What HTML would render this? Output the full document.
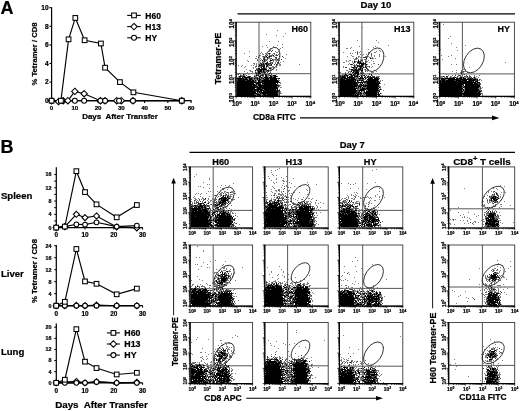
<!DOCTYPE html>
<html><head><meta charset="utf-8"><style>
html,body{margin:0;padding:0;background:#fff;width:520px;height:411px;overflow:hidden}
svg{display:block;filter:blur(0.3px)}
text{font-family:"Liberation Sans", sans-serif;fill:#000;stroke:#000;stroke-width:0.22px}
</style></head><body>
<svg width="520" height="411" viewBox="0 0 520 411">
<rect width="520" height="411" fill="#fff"/>
<text x="0.50" y="13.80" font-size="18" text-anchor="start" font-weight="bold">A</text>
<line x1="51.60" y1="7.20" x2="51.60" y2="101.20" stroke="#000" stroke-width="1.2"/>
<line x1="51.10" y1="100.70" x2="191.60" y2="100.70" stroke="#000" stroke-width="1.2"/>
<line x1="49.40" y1="100.70" x2="51.60" y2="100.70" stroke="#000" stroke-width="1.1"/>
<text x="48.60" y="103.00" font-size="6.6" text-anchor="end" font-weight="bold">0</text>
<line x1="49.40" y1="82.10" x2="51.60" y2="82.10" stroke="#000" stroke-width="1.1"/>
<text x="48.60" y="84.40" font-size="6.6" text-anchor="end" font-weight="bold">2</text>
<line x1="49.40" y1="63.50" x2="51.60" y2="63.50" stroke="#000" stroke-width="1.1"/>
<text x="48.60" y="65.80" font-size="6.6" text-anchor="end" font-weight="bold">4</text>
<line x1="49.40" y1="44.90" x2="51.60" y2="44.90" stroke="#000" stroke-width="1.1"/>
<text x="48.60" y="47.20" font-size="6.6" text-anchor="end" font-weight="bold">6</text>
<line x1="49.40" y1="26.30" x2="51.60" y2="26.30" stroke="#000" stroke-width="1.1"/>
<text x="48.60" y="28.60" font-size="6.6" text-anchor="end" font-weight="bold">8</text>
<line x1="49.40" y1="7.70" x2="51.60" y2="7.70" stroke="#000" stroke-width="1.1"/>
<text x="48.60" y="10.00" font-size="6.6" text-anchor="end" font-weight="bold">10</text>
<line x1="51.60" y1="100.70" x2="51.60" y2="102.90" stroke="#000" stroke-width="1.1"/>
<text x="51.60" y="110.00" font-size="6.2" text-anchor="middle" font-weight="bold">0</text>
<line x1="74.85" y1="100.70" x2="74.85" y2="102.90" stroke="#000" stroke-width="1.1"/>
<text x="74.85" y="110.00" font-size="6.2" text-anchor="middle" font-weight="bold">10</text>
<line x1="98.10" y1="100.70" x2="98.10" y2="102.90" stroke="#000" stroke-width="1.1"/>
<text x="98.10" y="110.00" font-size="6.2" text-anchor="middle" font-weight="bold">20</text>
<line x1="121.35" y1="100.70" x2="121.35" y2="102.90" stroke="#000" stroke-width="1.1"/>
<text x="121.35" y="110.00" font-size="6.2" text-anchor="middle" font-weight="bold">30</text>
<line x1="144.60" y1="100.70" x2="144.60" y2="102.90" stroke="#000" stroke-width="1.1"/>
<text x="144.60" y="110.00" font-size="6.2" text-anchor="middle" font-weight="bold">40</text>
<line x1="167.85" y1="100.70" x2="167.85" y2="102.90" stroke="#000" stroke-width="1.1"/>
<text x="167.85" y="110.00" font-size="6.2" text-anchor="middle" font-weight="bold">50</text>
<line x1="191.10" y1="100.70" x2="191.10" y2="102.90" stroke="#000" stroke-width="1.1"/>
<text x="191.10" y="110.00" font-size="6.2" text-anchor="middle" font-weight="bold">60</text>
<text x="120.00" y="119.20" font-size="8.0" text-anchor="middle" font-weight="bold">Days&#160; After Transfer</text>
<text x="37.00" y="54.00" font-size="7.7" text-anchor="middle" font-weight="bold" transform="rotate(-90 37.00 54.00)">% Tetramer / CD8</text>
<path d="M51.60 100.70L58.58 101.63L63.23 100.70L67.88 100.70L74.85 91.40L84.15 93.73L100.43 100.70L105.08 100.70L116.70 100.70L121.35 100.70L132.97 100.70L181.80 100.70" fill="none" stroke="#000" stroke-width="1.15"/>
<path d="M51.60 100.70L62.06 100.70L74.85 100.70L84.15 100.70L100.43 100.70L105.08 100.70L119.03 100.70L132.97 100.70L181.80 100.70" fill="none" stroke="#000" stroke-width="1.15"/>
<path d="M51.60 100.70L60.90 100.70L68.57 39.32L75.31 17.93L84.62 40.25L100.89 43.50L105.08 67.69L119.96 82.10L133.44 92.33L181.80 100.70" fill="none" stroke="#000" stroke-width="1.15"/>
<path d="M51.60 97.50L54.80 100.70L51.60 103.90L48.40 100.70Z" fill="#fff" stroke="#000" stroke-width="1.05"/>
<path d="M58.58 98.43L61.78 101.63L58.58 104.83L55.38 101.63Z" fill="#fff" stroke="#000" stroke-width="1.05"/>
<path d="M63.23 97.50L66.42 100.70L63.23 103.90L60.02 100.70Z" fill="#fff" stroke="#000" stroke-width="1.05"/>
<path d="M67.88 97.50L71.08 100.70L67.88 103.90L64.67 100.70Z" fill="#fff" stroke="#000" stroke-width="1.05"/>
<path d="M74.85 88.20L78.05 91.40L74.85 94.60L71.65 91.40Z" fill="#fff" stroke="#000" stroke-width="1.05"/>
<path d="M84.15 90.53L87.35 93.73L84.15 96.93L80.95 93.73Z" fill="#fff" stroke="#000" stroke-width="1.05"/>
<path d="M100.43 97.50L103.63 100.70L100.43 103.90L97.23 100.70Z" fill="#fff" stroke="#000" stroke-width="1.05"/>
<path d="M105.08 97.50L108.28 100.70L105.08 103.90L101.88 100.70Z" fill="#fff" stroke="#000" stroke-width="1.05"/>
<path d="M116.70 97.50L119.90 100.70L116.70 103.90L113.50 100.70Z" fill="#fff" stroke="#000" stroke-width="1.05"/>
<path d="M121.35 97.50L124.55 100.70L121.35 103.90L118.15 100.70Z" fill="#fff" stroke="#000" stroke-width="1.05"/>
<path d="M132.97 97.50L136.17 100.70L132.97 103.90L129.78 100.70Z" fill="#fff" stroke="#000" stroke-width="1.05"/>
<path d="M181.80 97.50L185.00 100.70L181.80 103.90L178.60 100.70Z" fill="#fff" stroke="#000" stroke-width="1.05"/>
<circle cx="51.60" cy="100.70" r="2.50" fill="#fff" stroke="#000" stroke-width="1.05"/>
<circle cx="62.06" cy="100.70" r="2.50" fill="#fff" stroke="#000" stroke-width="1.05"/>
<circle cx="74.85" cy="100.70" r="2.50" fill="#fff" stroke="#000" stroke-width="1.05"/>
<circle cx="84.15" cy="100.70" r="2.50" fill="#fff" stroke="#000" stroke-width="1.05"/>
<circle cx="100.43" cy="100.70" r="2.50" fill="#fff" stroke="#000" stroke-width="1.05"/>
<circle cx="105.08" cy="100.70" r="2.50" fill="#fff" stroke="#000" stroke-width="1.05"/>
<circle cx="119.03" cy="100.70" r="2.50" fill="#fff" stroke="#000" stroke-width="1.05"/>
<circle cx="132.97" cy="100.70" r="2.50" fill="#fff" stroke="#000" stroke-width="1.05"/>
<circle cx="181.80" cy="100.70" r="2.50" fill="#fff" stroke="#000" stroke-width="1.05"/>
<rect x="49.25" y="98.35" width="4.70" height="4.70" fill="#fff" stroke="#000" stroke-width="1.05"/>
<rect x="58.55" y="98.35" width="4.70" height="4.70" fill="#fff" stroke="#000" stroke-width="1.05"/>
<rect x="66.22" y="36.97" width="4.70" height="4.70" fill="#fff" stroke="#000" stroke-width="1.05"/>
<rect x="72.97" y="15.58" width="4.70" height="4.70" fill="#fff" stroke="#000" stroke-width="1.05"/>
<rect x="82.27" y="37.90" width="4.70" height="4.70" fill="#fff" stroke="#000" stroke-width="1.05"/>
<rect x="98.54" y="41.15" width="4.70" height="4.70" fill="#fff" stroke="#000" stroke-width="1.05"/>
<rect x="102.73" y="65.34" width="4.70" height="4.70" fill="#fff" stroke="#000" stroke-width="1.05"/>
<rect x="117.61" y="79.75" width="4.70" height="4.70" fill="#fff" stroke="#000" stroke-width="1.05"/>
<rect x="131.09" y="89.98" width="4.70" height="4.70" fill="#fff" stroke="#000" stroke-width="1.05"/>
<rect x="179.45" y="98.35" width="4.70" height="4.70" fill="#fff" stroke="#000" stroke-width="1.05"/>
<line x1="127.20" y1="15.40" x2="140.80" y2="15.40" stroke="#000" stroke-width="1.1"/>
<rect x="131.65" y="13.05" width="4.70" height="4.70" fill="#fff" stroke="#000" stroke-width="1.05"/>
<text x="145.30" y="18.50" font-size="8.5" text-anchor="start" font-weight="bold">H60</text>
<line x1="127.20" y1="26.60" x2="140.80" y2="26.60" stroke="#000" stroke-width="1.1"/>
<path d="M134.00 23.40L137.20 26.60L134.00 29.80L130.80 26.60Z" fill="#fff" stroke="#000" stroke-width="1.05"/>
<text x="145.30" y="29.70" font-size="8.5" text-anchor="start" font-weight="bold">H13</text>
<line x1="127.20" y1="37.80" x2="140.80" y2="37.80" stroke="#000" stroke-width="1.1"/>
<circle cx="134.00" cy="37.80" r="2.50" fill="#fff" stroke="#000" stroke-width="1.05"/>
<text x="145.30" y="40.90" font-size="8.5" text-anchor="start" font-weight="bold">HY</text>
<text x="0.50" y="153.10" font-size="18" text-anchor="start" font-weight="bold">B</text>
<line x1="56.30" y1="167.20" x2="56.30" y2="228.10" stroke="#000" stroke-width="1.2"/>
<line x1="55.70" y1="227.60" x2="142.80" y2="227.60" stroke="#000" stroke-width="1.2"/>
<line x1="54.20" y1="227.60" x2="56.30" y2="227.60" stroke="#000" stroke-width="1.0"/>
<line x1="54.20" y1="220.96" x2="56.30" y2="220.96" stroke="#000" stroke-width="1.0"/>
<line x1="54.20" y1="214.32" x2="56.30" y2="214.32" stroke="#000" stroke-width="1.0"/>
<line x1="54.20" y1="207.68" x2="56.30" y2="207.68" stroke="#000" stroke-width="1.0"/>
<line x1="54.20" y1="201.04" x2="56.30" y2="201.04" stroke="#000" stroke-width="1.0"/>
<line x1="54.20" y1="194.40" x2="56.30" y2="194.40" stroke="#000" stroke-width="1.0"/>
<line x1="54.20" y1="187.76" x2="56.30" y2="187.76" stroke="#000" stroke-width="1.0"/>
<line x1="54.20" y1="181.12" x2="56.30" y2="181.12" stroke="#000" stroke-width="1.0"/>
<line x1="54.20" y1="174.48" x2="56.30" y2="174.48" stroke="#000" stroke-width="1.0"/>
<text x="51.40" y="229.50" font-size="5.4" text-anchor="end" font-weight="bold">0</text>
<text x="51.40" y="216.22" font-size="5.4" text-anchor="end" font-weight="bold">4</text>
<text x="51.40" y="202.94" font-size="5.4" text-anchor="end" font-weight="bold">8</text>
<text x="51.40" y="189.66" font-size="5.4" text-anchor="end" font-weight="bold">12</text>
<text x="51.40" y="176.38" font-size="5.4" text-anchor="end" font-weight="bold">16</text>
<line x1="56.20" y1="227.60" x2="56.20" y2="229.60" stroke="#000" stroke-width="1.0"/>
<text x="56.20" y="237.40" font-size="6.4" text-anchor="middle" font-weight="bold">0</text>
<line x1="85.00" y1="227.60" x2="85.00" y2="229.60" stroke="#000" stroke-width="1.0"/>
<text x="85.00" y="237.40" font-size="6.4" text-anchor="middle" font-weight="bold">10</text>
<line x1="113.80" y1="227.60" x2="113.80" y2="229.60" stroke="#000" stroke-width="1.0"/>
<text x="113.80" y="237.40" font-size="6.4" text-anchor="middle" font-weight="bold">20</text>
<line x1="142.60" y1="227.60" x2="142.60" y2="229.60" stroke="#000" stroke-width="1.0"/>
<text x="142.60" y="237.40" font-size="6.4" text-anchor="middle" font-weight="bold">30</text>
<path d="M56.20 227.60L64.84 226.60L76.36 214.32L85.00 217.64L96.52 215.98L116.68 226.94L136.84 227.93" fill="none" stroke="#000" stroke-width="1.15"/>
<path d="M56.20 227.60L64.84 226.60L76.36 224.28L85.00 224.61L96.52 222.29L116.68 226.60L136.84 225.61" fill="none" stroke="#000" stroke-width="1.15"/>
<path d="M56.20 227.60L64.84 226.60L76.36 171.16L85.00 192.08L96.52 204.36L116.68 217.31L136.84 205.02" fill="none" stroke="#000" stroke-width="1.15"/>
<path d="M56.20 224.56L59.24 227.60L56.20 230.64L53.16 227.60Z" fill="#fff" stroke="#000" stroke-width="1.05"/>
<path d="M64.84 223.56L67.88 226.60L64.84 229.64L61.80 226.60Z" fill="#fff" stroke="#000" stroke-width="1.05"/>
<path d="M76.36 211.28L79.40 214.32L76.36 217.36L73.32 214.32Z" fill="#fff" stroke="#000" stroke-width="1.05"/>
<path d="M85.00 214.60L88.04 217.64L85.00 220.68L81.96 217.64Z" fill="#fff" stroke="#000" stroke-width="1.05"/>
<path d="M96.52 212.94L99.56 215.98L96.52 219.02L93.48 215.98Z" fill="#fff" stroke="#000" stroke-width="1.05"/>
<path d="M116.68 223.90L119.72 226.94L116.68 229.98L113.64 226.94Z" fill="#fff" stroke="#000" stroke-width="1.05"/>
<path d="M136.84 224.89L139.88 227.93L136.84 230.97L133.80 227.93Z" fill="#fff" stroke="#000" stroke-width="1.05"/>
<circle cx="56.20" cy="227.60" r="2.38" fill="#fff" stroke="#000" stroke-width="1.05"/>
<circle cx="64.84" cy="226.60" r="2.38" fill="#fff" stroke="#000" stroke-width="1.05"/>
<circle cx="76.36" cy="224.28" r="2.38" fill="#fff" stroke="#000" stroke-width="1.05"/>
<circle cx="85.00" cy="224.61" r="2.38" fill="#fff" stroke="#000" stroke-width="1.05"/>
<circle cx="96.52" cy="222.29" r="2.38" fill="#fff" stroke="#000" stroke-width="1.05"/>
<circle cx="116.68" cy="226.60" r="2.38" fill="#fff" stroke="#000" stroke-width="1.05"/>
<circle cx="136.84" cy="225.61" r="2.38" fill="#fff" stroke="#000" stroke-width="1.05"/>
<rect x="53.85" y="225.25" width="4.70" height="4.70" fill="#fff" stroke="#000" stroke-width="1.05"/>
<rect x="62.49" y="224.25" width="4.70" height="4.70" fill="#fff" stroke="#000" stroke-width="1.05"/>
<rect x="74.01" y="168.81" width="4.70" height="4.70" fill="#fff" stroke="#000" stroke-width="1.05"/>
<rect x="82.65" y="189.73" width="4.70" height="4.70" fill="#fff" stroke="#000" stroke-width="1.05"/>
<rect x="94.17" y="202.01" width="4.70" height="4.70" fill="#fff" stroke="#000" stroke-width="1.05"/>
<rect x="114.33" y="214.96" width="4.70" height="4.70" fill="#fff" stroke="#000" stroke-width="1.05"/>
<rect x="134.49" y="202.67" width="4.70" height="4.70" fill="#fff" stroke="#000" stroke-width="1.05"/>
<text x="0.90" y="198.70" font-size="9.6" text-anchor="start" font-weight="bold">Spleen</text>
<line x1="56.30" y1="244.90" x2="56.30" y2="306.20" stroke="#000" stroke-width="1.2"/>
<line x1="55.70" y1="305.70" x2="142.80" y2="305.70" stroke="#000" stroke-width="1.2"/>
<line x1="54.20" y1="305.70" x2="56.30" y2="305.70" stroke="#000" stroke-width="1.0"/>
<line x1="54.20" y1="293.70" x2="56.30" y2="293.70" stroke="#000" stroke-width="1.0"/>
<line x1="54.20" y1="281.70" x2="56.30" y2="281.70" stroke="#000" stroke-width="1.0"/>
<line x1="54.20" y1="269.70" x2="56.30" y2="269.70" stroke="#000" stroke-width="1.0"/>
<line x1="54.20" y1="257.70" x2="56.30" y2="257.70" stroke="#000" stroke-width="1.0"/>
<line x1="54.20" y1="245.70" x2="56.30" y2="245.70" stroke="#000" stroke-width="1.0"/>
<text x="51.40" y="307.60" font-size="5.4" text-anchor="end" font-weight="bold">0</text>
<text x="51.40" y="295.60" font-size="5.4" text-anchor="end" font-weight="bold">4</text>
<text x="51.40" y="283.60" font-size="5.4" text-anchor="end" font-weight="bold">8</text>
<text x="51.40" y="271.60" font-size="5.4" text-anchor="end" font-weight="bold">12</text>
<text x="51.40" y="259.60" font-size="5.4" text-anchor="end" font-weight="bold">16</text>
<text x="51.40" y="247.60" font-size="5.4" text-anchor="end" font-weight="bold">24</text>
<line x1="56.20" y1="305.70" x2="56.20" y2="307.70" stroke="#000" stroke-width="1.0"/>
<text x="56.20" y="315.50" font-size="6.4" text-anchor="middle" font-weight="bold">0</text>
<line x1="85.00" y1="305.70" x2="85.00" y2="307.70" stroke="#000" stroke-width="1.0"/>
<text x="85.00" y="315.50" font-size="6.4" text-anchor="middle" font-weight="bold">10</text>
<line x1="113.80" y1="305.70" x2="113.80" y2="307.70" stroke="#000" stroke-width="1.0"/>
<text x="113.80" y="315.50" font-size="6.4" text-anchor="middle" font-weight="bold">20</text>
<line x1="142.60" y1="305.70" x2="142.60" y2="307.70" stroke="#000" stroke-width="1.0"/>
<text x="142.60" y="315.50" font-size="6.4" text-anchor="middle" font-weight="bold">30</text>
<path d="M56.20 305.70L64.84 305.70L76.36 305.40L85.00 305.70L96.52 305.10L116.68 305.70L136.84 305.70" fill="none" stroke="#000" stroke-width="1.15"/>
<path d="M56.20 305.70L64.84 305.70L76.36 305.70L85.00 305.70L96.52 305.70L116.68 305.70L136.84 305.70" fill="none" stroke="#000" stroke-width="1.15"/>
<path d="M56.20 305.70L64.84 301.80L76.36 249.00L85.00 281.40L96.52 283.80L116.68 294.30L136.84 288.60" fill="none" stroke="#000" stroke-width="1.15"/>
<path d="M56.20 302.66L59.24 305.70L56.20 308.74L53.16 305.70Z" fill="#fff" stroke="#000" stroke-width="1.05"/>
<path d="M64.84 302.66L67.88 305.70L64.84 308.74L61.80 305.70Z" fill="#fff" stroke="#000" stroke-width="1.05"/>
<path d="M76.36 302.36L79.40 305.40L76.36 308.44L73.32 305.40Z" fill="#fff" stroke="#000" stroke-width="1.05"/>
<path d="M85.00 302.66L88.04 305.70L85.00 308.74L81.96 305.70Z" fill="#fff" stroke="#000" stroke-width="1.05"/>
<path d="M96.52 302.06L99.56 305.10L96.52 308.14L93.48 305.10Z" fill="#fff" stroke="#000" stroke-width="1.05"/>
<path d="M116.68 302.66L119.72 305.70L116.68 308.74L113.64 305.70Z" fill="#fff" stroke="#000" stroke-width="1.05"/>
<path d="M136.84 302.66L139.88 305.70L136.84 308.74L133.80 305.70Z" fill="#fff" stroke="#000" stroke-width="1.05"/>
<circle cx="56.20" cy="305.70" r="2.38" fill="#fff" stroke="#000" stroke-width="1.05"/>
<circle cx="64.84" cy="305.70" r="2.38" fill="#fff" stroke="#000" stroke-width="1.05"/>
<circle cx="76.36" cy="305.70" r="2.38" fill="#fff" stroke="#000" stroke-width="1.05"/>
<circle cx="85.00" cy="305.70" r="2.38" fill="#fff" stroke="#000" stroke-width="1.05"/>
<circle cx="96.52" cy="305.70" r="2.38" fill="#fff" stroke="#000" stroke-width="1.05"/>
<circle cx="116.68" cy="305.70" r="2.38" fill="#fff" stroke="#000" stroke-width="1.05"/>
<circle cx="136.84" cy="305.70" r="2.38" fill="#fff" stroke="#000" stroke-width="1.05"/>
<rect x="53.85" y="303.35" width="4.70" height="4.70" fill="#fff" stroke="#000" stroke-width="1.05"/>
<rect x="62.49" y="299.45" width="4.70" height="4.70" fill="#fff" stroke="#000" stroke-width="1.05"/>
<rect x="74.01" y="246.65" width="4.70" height="4.70" fill="#fff" stroke="#000" stroke-width="1.05"/>
<rect x="82.65" y="279.05" width="4.70" height="4.70" fill="#fff" stroke="#000" stroke-width="1.05"/>
<rect x="94.17" y="281.45" width="4.70" height="4.70" fill="#fff" stroke="#000" stroke-width="1.05"/>
<rect x="114.33" y="291.95" width="4.70" height="4.70" fill="#fff" stroke="#000" stroke-width="1.05"/>
<rect x="134.49" y="286.25" width="4.70" height="4.70" fill="#fff" stroke="#000" stroke-width="1.05"/>
<text x="0.90" y="276.80" font-size="9.6" text-anchor="start" font-weight="bold">Liver</text>
<line x1="56.30" y1="323.50" x2="56.30" y2="383.30" stroke="#000" stroke-width="1.2"/>
<line x1="55.70" y1="382.80" x2="142.80" y2="382.80" stroke="#000" stroke-width="1.2"/>
<line x1="54.20" y1="382.80" x2="56.30" y2="382.80" stroke="#000" stroke-width="1.0"/>
<line x1="54.20" y1="371.68" x2="56.30" y2="371.68" stroke="#000" stroke-width="1.0"/>
<line x1="54.20" y1="360.56" x2="56.30" y2="360.56" stroke="#000" stroke-width="1.0"/>
<line x1="54.20" y1="349.44" x2="56.30" y2="349.44" stroke="#000" stroke-width="1.0"/>
<line x1="54.20" y1="338.32" x2="56.30" y2="338.32" stroke="#000" stroke-width="1.0"/>
<line x1="54.20" y1="327.20" x2="56.30" y2="327.20" stroke="#000" stroke-width="1.0"/>
<text x="51.40" y="384.70" font-size="5.4" text-anchor="end" font-weight="bold">0</text>
<text x="51.40" y="373.58" font-size="5.4" text-anchor="end" font-weight="bold">4</text>
<text x="51.40" y="362.46" font-size="5.4" text-anchor="end" font-weight="bold">8</text>
<text x="51.40" y="351.34" font-size="5.4" text-anchor="end" font-weight="bold">12</text>
<text x="51.40" y="340.22" font-size="5.4" text-anchor="end" font-weight="bold">16</text>
<text x="51.40" y="329.10" font-size="5.4" text-anchor="end" font-weight="bold">20</text>
<line x1="56.20" y1="382.80" x2="56.20" y2="384.80" stroke="#000" stroke-width="1.0"/>
<text x="56.20" y="392.60" font-size="6.4" text-anchor="middle" font-weight="bold">0</text>
<line x1="85.00" y1="382.80" x2="85.00" y2="384.80" stroke="#000" stroke-width="1.0"/>
<text x="85.00" y="392.60" font-size="6.4" text-anchor="middle" font-weight="bold">10</text>
<line x1="113.80" y1="382.80" x2="113.80" y2="384.80" stroke="#000" stroke-width="1.0"/>
<text x="113.80" y="392.60" font-size="6.4" text-anchor="middle" font-weight="bold">20</text>
<line x1="142.60" y1="382.80" x2="142.60" y2="384.80" stroke="#000" stroke-width="1.0"/>
<text x="142.60" y="392.60" font-size="6.4" text-anchor="middle" font-weight="bold">30</text>
<path d="M56.20 382.80L64.84 381.97L76.36 381.41L85.00 382.80L96.52 381.69L116.68 382.80L136.84 382.24" fill="none" stroke="#000" stroke-width="1.15"/>
<path d="M56.20 382.80L64.84 382.80L76.36 382.80L85.00 382.80L96.52 381.97L116.68 382.80L136.84 382.80" fill="none" stroke="#000" stroke-width="1.15"/>
<path d="M56.20 382.80L64.84 379.74L76.36 329.15L85.00 361.67L96.52 368.07L116.68 374.46L136.84 372.79" fill="none" stroke="#000" stroke-width="1.15"/>
<path d="M56.20 379.76L59.24 382.80L56.20 385.84L53.16 382.80Z" fill="#fff" stroke="#000" stroke-width="1.05"/>
<path d="M64.84 378.93L67.88 381.97L64.84 385.01L61.80 381.97Z" fill="#fff" stroke="#000" stroke-width="1.05"/>
<path d="M76.36 378.37L79.40 381.41L76.36 384.45L73.32 381.41Z" fill="#fff" stroke="#000" stroke-width="1.05"/>
<path d="M85.00 379.76L88.04 382.80L85.00 385.84L81.96 382.80Z" fill="#fff" stroke="#000" stroke-width="1.05"/>
<path d="M96.52 378.65L99.56 381.69L96.52 384.73L93.48 381.69Z" fill="#fff" stroke="#000" stroke-width="1.05"/>
<path d="M116.68 379.76L119.72 382.80L116.68 385.84L113.64 382.80Z" fill="#fff" stroke="#000" stroke-width="1.05"/>
<path d="M136.84 379.20L139.88 382.24L136.84 385.28L133.80 382.24Z" fill="#fff" stroke="#000" stroke-width="1.05"/>
<circle cx="56.20" cy="382.80" r="2.38" fill="#fff" stroke="#000" stroke-width="1.05"/>
<circle cx="64.84" cy="382.80" r="2.38" fill="#fff" stroke="#000" stroke-width="1.05"/>
<circle cx="76.36" cy="382.80" r="2.38" fill="#fff" stroke="#000" stroke-width="1.05"/>
<circle cx="85.00" cy="382.80" r="2.38" fill="#fff" stroke="#000" stroke-width="1.05"/>
<circle cx="96.52" cy="381.97" r="2.38" fill="#fff" stroke="#000" stroke-width="1.05"/>
<circle cx="116.68" cy="382.80" r="2.38" fill="#fff" stroke="#000" stroke-width="1.05"/>
<circle cx="136.84" cy="382.80" r="2.38" fill="#fff" stroke="#000" stroke-width="1.05"/>
<rect x="53.85" y="380.45" width="4.70" height="4.70" fill="#fff" stroke="#000" stroke-width="1.05"/>
<rect x="62.49" y="377.39" width="4.70" height="4.70" fill="#fff" stroke="#000" stroke-width="1.05"/>
<rect x="74.01" y="326.80" width="4.70" height="4.70" fill="#fff" stroke="#000" stroke-width="1.05"/>
<rect x="82.65" y="359.32" width="4.70" height="4.70" fill="#fff" stroke="#000" stroke-width="1.05"/>
<rect x="94.17" y="365.72" width="4.70" height="4.70" fill="#fff" stroke="#000" stroke-width="1.05"/>
<rect x="114.33" y="372.11" width="4.70" height="4.70" fill="#fff" stroke="#000" stroke-width="1.05"/>
<rect x="134.49" y="370.44" width="4.70" height="4.70" fill="#fff" stroke="#000" stroke-width="1.05"/>
<text x="0.90" y="354.80" font-size="9.6" text-anchor="start" font-weight="bold">Lung</text>
<text x="37.40" y="271.00" font-size="7.8" text-anchor="middle" font-weight="bold" transform="rotate(-90 37.40 271.00)">% Tetramer / CD8</text>
<text x="101.50" y="408.20" font-size="9.8" text-anchor="middle" font-weight="bold">Days&#160; After Transfer</text>
<line x1="106.90" y1="332.90" x2="119.90" y2="332.90" stroke="#000" stroke-width="1.1"/>
<rect x="111.05" y="330.55" width="4.70" height="4.70" fill="#fff" stroke="#000" stroke-width="1.05"/>
<text x="124.30" y="336.10" font-size="8.8" text-anchor="start" font-weight="bold">H60</text>
<line x1="106.90" y1="344.00" x2="119.90" y2="344.00" stroke="#000" stroke-width="1.1"/>
<path d="M113.40 340.80L116.60 344.00L113.40 347.20L110.20 344.00Z" fill="#fff" stroke="#000" stroke-width="1.05"/>
<text x="124.30" y="347.20" font-size="8.8" text-anchor="start" font-weight="bold">H13</text>
<line x1="106.90" y1="355.10" x2="119.90" y2="355.10" stroke="#000" stroke-width="1.1"/>
<circle cx="113.40" cy="355.10" r="2.50" fill="#fff" stroke="#000" stroke-width="1.05"/>
<text x="124.30" y="358.30" font-size="8.8" text-anchor="start" font-weight="bold">HY</text>
<text x="360.50" y="8.20" font-size="9.6" text-anchor="start" font-weight="bold">Day 10</text>
<line x1="237.50" y1="13.80" x2="515.00" y2="13.80" stroke="#000" stroke-width="1.2"/>
<rect x="236.10" y="22.20" width="74.70" height="74.20" fill="none" stroke="#3a3a3a" stroke-width="0.9"/>
<line x1="259.00" y1="22.20" x2="259.00" y2="96.40" stroke="#444" stroke-width="0.9"/>
<line x1="236.10" y1="73.70" x2="310.80" y2="73.70" stroke="#444" stroke-width="0.9"/>
<path fill="#000" d="M269 53h1v1h-1zM273 55h1v1h-1zM266 56h1v1h-1zM269 56h1v1h-1zM267 57h1v1h-1zM264 59h1v1h-1zM262 60h1v1h-1zM264 60h1v1h-1zM270 60h2v1h-2zM267 62h1v1h-1zM278 62h1v1h-1zM263 63h1v1h-1zM265 63h2v1h-2zM261 64h1v1h-1zM263 64h1v1h-1zM266 64h1v1h-1zM268 64h1v1h-1zM271 64h1v1h-1zM259 65h1v1h-1zM261 65h1v1h-1zM264 65h1v1h-1zM267 65h1v1h-1zM263 66h2v1h-2zM266 66h1v1h-1zM261 67h1v1h-1zM263 67h1v1h-1zM258 68h2v1h-2zM263 68h2v1h-2zM269 68h2v1h-2zM259 69h8v1h-8zM255 70h1v1h-1zM258 70h1v1h-1zM260 70h2v1h-2zM263 70h1v1h-1zM267 70h1v1h-1zM258 71h4v1h-4zM263 71h1v1h-1zM268 71h1v1h-1zM258 72h2v1h-2zM264 72h1v1h-1zM256 73h1v1h-1zM258 73h3v1h-3zM269 73h1v1h-1zM243 74h1v1h-1zM265 74h1v1h-1zM256 75h1v1h-1zM258 75h1v1h-1zM262 75h1v1h-1zM266 75h1v1h-1zM270 75h1v1h-1zM273 75h3v1h-3zM239 76h2v1h-2zM243 76h2v1h-2zM249 76h1v1h-1zM254 76h1v1h-1zM259 76h2v1h-2zM265 76h2v1h-2zM270 76h2v1h-2zM274 76h3v1h-3zM242 77h1v1h-1zM244 77h6v1h-6zM261 77h1v1h-1zM264 77h4v1h-4zM269 77h3v1h-3zM273 77h3v1h-3zM237 78h7v1h-7zM245 78h2v1h-2zM249 78h3v1h-3zM254 78h1v1h-1zM257 78h1v1h-1zM259 78h1v1h-1zM263 78h1v1h-1zM265 78h4v1h-4zM270 78h7v1h-7zM279 78h1v1h-1zM238 79h4v1h-4zM243 79h5v1h-5zM249 79h3v1h-3zM257 79h1v1h-1zM259 79h2v1h-2zM264 79h5v1h-5zM270 79h7v1h-7zM238 80h7v1h-7zM247 80h4v1h-4zM252 80h2v1h-2zM255 80h1v1h-1zM258 80h2v1h-2zM262 80h16v1h-16zM237 81h17v1h-17zM258 81h2v1h-2zM262 81h17v1h-17zM237 82h19v1h-19zM257 82h6v1h-6zM264 82h14v1h-14zM279 82h1v1h-1zM237 83h17v1h-17zM256 83h4v1h-4zM262 83h14v1h-14zM277 83h1v1h-1zM237 84h18v1h-18zM256 84h1v1h-1zM258 84h3v1h-3zM264 84h13v1h-13zM237 85h15v1h-15zM253 85h3v1h-3zM258 85h20v1h-20zM237 86h18v1h-18zM256 86h2v1h-2zM259 86h18v1h-18zM237 87h19v1h-19zM257 87h20v1h-20zM237 88h18v1h-18zM257 88h4v1h-4zM262 88h16v1h-16zM237 89h25v1h-25zM264 89h12v1h-12zM277 89h1v1h-1zM237 90h16v1h-16zM254 90h2v1h-2zM257 90h2v1h-2zM260 90h4v1h-4zM265 90h11v1h-11zM277 90h1v1h-1zM279 90h1v1h-1zM237 91h18v1h-18zM257 91h5v1h-5zM263 91h15v1h-15zM237 92h19v1h-19zM257 92h1v1h-1zM259 92h1v1h-1zM261 92h17v1h-17zM237 93h20v1h-20zM260 93h1v1h-1zM262 93h15v1h-15zM237 94h17v1h-17zM257 94h3v1h-3zM263 94h3v1h-3zM267 94h11v1h-11zM237 95h19v1h-19zM257 95h1v1h-1zM259 95h2v1h-2zM262 95h1v1h-1zM264 95h14v1h-14z"/>
<path fill="#404040" d="M272 50h1v1h-1zM271 51h1v1h-1zM268 53h1v1h-1zM274 53h1v1h-1zM269 54h1v1h-1zM276 54h1v1h-1zM259 55h1v1h-1zM267 55h1v1h-1zM271 55h1v1h-1zM276 55h2v1h-2zM263 56h1v1h-1zM270 56h2v1h-2zM279 56h1v1h-1zM282 56h1v1h-1zM258 57h1v1h-1zM264 57h1v1h-1zM269 57h1v1h-1zM275 57h2v1h-2zM263 58h1v1h-1zM267 58h1v1h-1zM271 58h1v1h-1zM276 58h1v1h-1zM263 59h1v1h-1zM267 59h1v1h-1zM272 59h1v1h-1zM277 59h1v1h-1zM281 59h1v1h-1zM257 60h1v1h-1zM260 60h1v1h-1zM266 60h1v1h-1zM273 60h1v1h-1zM264 61h1v1h-1zM262 62h1v1h-1zM270 62h1v1h-1zM272 62h1v1h-1zM260 63h2v1h-2zM267 63h4v1h-4zM272 63h1v1h-1zM259 64h1v1h-1zM262 64h1v1h-1zM267 64h1v1h-1zM274 64h1v1h-1zM276 64h1v1h-1zM260 65h1v1h-1zM262 65h2v1h-2zM266 65h1v1h-1zM269 65h3v1h-3zM256 66h1v1h-1zM258 66h2v1h-2zM261 66h2v1h-2zM267 66h1v1h-1zM264 67h1v1h-1zM266 67h1v1h-1zM261 68h2v1h-2zM265 68h1v1h-1zM256 69h3v1h-3zM257 70h1v1h-1zM259 70h1v1h-1zM264 70h1v1h-1zM268 70h1v1h-1zM264 71h1v1h-1zM266 71h1v1h-1zM255 72h1v1h-1zM261 72h3v1h-3zM265 72h1v1h-1zM267 72h1v1h-1zM270 72h1v1h-1zM239 73h1v1h-1zM255 73h1v1h-1zM257 73h1v1h-1zM264 73h1v1h-1zM271 73h1v1h-1zM238 74h1v1h-1zM256 74h1v1h-1zM258 74h1v1h-1zM262 74h2v1h-2zM266 74h1v1h-1zM268 74h1v1h-1zM271 74h1v1h-1zM240 75h1v1h-1zM243 75h1v1h-1zM246 75h1v1h-1zM257 75h1v1h-1zM260 75h2v1h-2zM263 75h1v1h-1zM265 75h1v1h-1zM269 75h1v1h-1zM241 76h2v1h-2zM248 76h1v1h-1zM250 76h1v1h-1zM277 76h1v1h-1zM239 77h2v1h-2zM251 77h2v1h-2zM255 77h3v1h-3zM259 77h2v1h-2zM272 77h1v1h-1zM252 78h1v1h-1zM255 78h2v1h-2zM258 78h1v1h-1zM261 78h2v1h-2zM269 78h1v1h-1zM277 78h2v1h-2zM237 79h1v1h-1zM242 79h1v1h-1zM252 79h1v1h-1zM254 79h1v1h-1zM263 79h1v1h-1zM237 80h1v1h-1zM245 80h2v1h-2zM251 80h1v1h-1zM260 80h2v1h-2zM254 81h2v1h-2zM260 81h2v1h-2zM256 82h1v1h-1zM263 82h1v1h-1zM278 82h1v1h-1zM260 83h1v1h-1zM262 84h2v1h-2zM252 85h1v1h-1zM256 85h1v1h-1zM278 85h2v1h-2zM255 86h1v1h-1zM278 86h1v1h-1zM256 87h1v1h-1zM277 87h1v1h-1zM261 88h1v1h-1zM262 89h1v1h-1zM253 90h1v1h-1zM256 90h1v1h-1zM264 90h1v1h-1zM276 90h1v1h-1zM278 90h1v1h-1zM255 91h2v1h-2zM278 91h2v1h-2zM260 92h1v1h-1zM279 92h1v1h-1zM257 93h2v1h-2zM261 93h1v1h-1zM277 93h1v1h-1zM279 93h1v1h-1zM254 94h1v1h-1zM256 94h1v1h-1zM260 94h1v1h-1zM279 94h1v1h-1zM258 95h1v1h-1zM263 95h1v1h-1zM279 95h1v1h-1z"/>
<path fill="#808080" d="M277 30h1v1h-1zM285 33h1v1h-1zM266 34h1v1h-1zM276 35h1v1h-1zM283 36h1v1h-1zM269 41h1v1h-1zM278 41h1v1h-1zM282 44h1v1h-1zM266 45h1v1h-1zM277 45h1v1h-1zM262 46h1v1h-1zM273 46h1v1h-1zM267 47h1v1h-1zM282 47h1v1h-1zM270 48h1v1h-1zM280 48h1v1h-1zM269 49h1v1h-1zM278 49h2v1h-2zM270 50h1v1h-1zM249 51h1v1h-1zM268 51h2v1h-2zM275 51h1v1h-1zM278 51h1v1h-1zM261 52h1v1h-1zM276 52h2v1h-2zM244 53h1v1h-1zM260 53h1v1h-1zM262 53h1v1h-1zM265 53h1v1h-1zM270 53h1v1h-1zM273 53h1v1h-1zM279 53h1v1h-1zM262 54h2v1h-2zM267 54h1v1h-1zM272 54h1v1h-1zM274 54h1v1h-1zM278 54h1v1h-1zM286 54h1v1h-1zM260 55h1v1h-1zM265 55h1v1h-1zM269 55h2v1h-2zM272 55h1v1h-1zM275 55h1v1h-1zM249 56h1v1h-1zM256 56h1v1h-1zM258 56h2v1h-2zM262 56h1v1h-1zM264 56h1v1h-1zM268 56h1v1h-1zM273 56h2v1h-2zM263 57h1v1h-1zM266 57h1v1h-1zM268 57h1v1h-1zM283 57h1v1h-1zM255 58h2v1h-2zM260 58h1v1h-1zM264 58h1v1h-1zM268 58h3v1h-3zM275 58h1v1h-1zM278 58h1v1h-1zM285 58h1v1h-1zM257 59h1v1h-1zM261 59h1v1h-1zM265 59h2v1h-2zM270 59h1v1h-1zM273 59h4v1h-4zM278 59h1v1h-1zM247 60h1v1h-1zM265 60h1v1h-1zM272 60h1v1h-1zM275 60h5v1h-5zM248 61h1v1h-1zM262 61h2v1h-2zM265 61h1v1h-1zM267 61h1v1h-1zM269 61h2v1h-2zM273 61h1v1h-1zM276 61h1v1h-1zM283 61h1v1h-1zM260 62h1v1h-1zM266 62h1v1h-1zM271 62h1v1h-1zM275 62h1v1h-1zM277 62h1v1h-1zM280 62h1v1h-1zM253 63h2v1h-2zM256 63h1v1h-1zM262 63h1v1h-1zM271 63h1v1h-1zM275 63h1v1h-1zM278 63h2v1h-2zM254 64h1v1h-1zM256 64h1v1h-1zM258 64h1v1h-1zM260 64h1v1h-1zM264 64h2v1h-2zM269 64h2v1h-2zM277 64h1v1h-1zM279 64h2v1h-2zM299 64h1v1h-1zM238 65h1v1h-1zM242 65h1v1h-1zM251 65h1v1h-1zM253 65h1v1h-1zM256 65h1v1h-1zM258 65h1v1h-1zM268 65h1v1h-1zM277 65h1v1h-1zM279 65h2v1h-2zM241 66h1v1h-1zM245 66h1v1h-1zM255 66h1v1h-1zM260 66h1v1h-1zM268 66h1v1h-1zM272 66h2v1h-2zM276 66h1v1h-1zM244 67h1v1h-1zM253 67h1v1h-1zM255 67h1v1h-1zM260 67h1v1h-1zM268 67h7v1h-7zM276 67h1v1h-1zM253 68h1v1h-1zM256 68h2v1h-2zM266 68h1v1h-1zM271 68h1v1h-1zM273 68h1v1h-1zM246 69h1v1h-1zM268 69h1v1h-1zM270 69h1v1h-1zM273 69h1v1h-1zM276 69h1v1h-1zM249 70h2v1h-2zM256 70h1v1h-1zM262 70h1v1h-1zM265 70h2v1h-2zM271 70h1v1h-1zM276 70h1v1h-1zM244 71h1v1h-1zM250 71h3v1h-3zM255 71h1v1h-1zM257 71h1v1h-1zM262 71h1v1h-1zM265 71h1v1h-1zM267 71h1v1h-1zM270 71h1v1h-1zM247 72h1v1h-1zM252 72h1v1h-1zM256 72h2v1h-2zM260 72h1v1h-1zM249 73h1v1h-1zM253 73h1v1h-1zM261 73h3v1h-3zM266 73h2v1h-2zM270 73h1v1h-1zM274 73h1v1h-1zM237 74h1v1h-1zM240 74h1v1h-1zM244 74h2v1h-2zM248 74h1v1h-1zM257 74h1v1h-1zM259 74h3v1h-3zM264 74h1v1h-1zM267 74h1v1h-1zM269 74h1v1h-1zM276 74h1v1h-1zM241 75h2v1h-2zM244 75h1v1h-1zM254 75h2v1h-2zM267 75h2v1h-2zM271 75h2v1h-2zM238 76h1v1h-1zM245 76h1v1h-1zM247 76h1v1h-1zM255 76h2v1h-2zM258 76h1v1h-1zM262 76h2v1h-2zM267 76h2v1h-2zM272 76h2v1h-2zM237 77h2v1h-2zM243 77h1v1h-1zM250 77h1v1h-1zM253 77h2v1h-2zM262 77h2v1h-2zM268 77h1v1h-1zM244 78h1v1h-1zM247 78h2v1h-2zM253 78h1v1h-1zM260 78h1v1h-1zM264 78h1v1h-1zM248 79h1v1h-1zM253 79h1v1h-1zM255 79h2v1h-2zM258 79h1v1h-1zM261 79h2v1h-2zM269 79h1v1h-1zM278 79h1v1h-1zM254 80h1v1h-1zM256 80h2v1h-2zM278 80h2v1h-2zM256 81h1v1h-1zM280 82h1v1h-1zM255 83h1v1h-1zM280 83h1v1h-1zM255 84h1v1h-1zM257 84h1v1h-1zM261 84h1v1h-1zM277 84h2v1h-2zM257 85h1v1h-1zM280 85h1v1h-1zM258 86h1v1h-1zM277 86h1v1h-1zM279 86h1v1h-1zM278 87h1v1h-1zM280 87h2v1h-2zM256 88h1v1h-1zM263 89h1v1h-1zM276 89h1v1h-1zM279 89h1v1h-1zM259 90h1v1h-1zM280 91h1v1h-1zM258 92h1v1h-1zM278 92h1v1h-1zM280 92h1v1h-1zM259 93h1v1h-1zM278 93h1v1h-1zM280 93h2v1h-2zM255 94h1v1h-1zM261 94h2v1h-2zM266 94h1v1h-1zM278 94h1v1h-1zM256 95h1v1h-1zM261 95h1v1h-1zM278 95h1v1h-1z"/>
<ellipse cx="271.90" cy="59.10" rx="12.30" ry="7.10" transform="rotate(-68 271.90 59.10)" fill="none" stroke="#1a1a1a" stroke-width="0.8"/>
<line x1="236.10" y1="21.90" x2="236.10" y2="97.00" stroke="#000" stroke-width="1.2"/>
<line x1="235.50" y1="96.40" x2="311.10" y2="96.40" stroke="#000" stroke-width="1.2"/>
<path d="M233.90 96.40h2.20M236.10 96.40v2.20M234.80 90.82h1.30M241.72 96.40v1.30M234.80 87.55h1.30M245.01 96.40v1.30M234.80 85.23h1.30M247.34 96.40v1.30M234.80 83.43h1.30M249.15 96.40v1.30M234.80 81.97h1.30M250.63 96.40v1.30M234.80 80.72h1.30M251.88 96.40v1.30M234.80 79.65h1.30M252.97 96.40v1.30M234.80 78.70h1.30M253.92 96.40v1.30M233.90 77.85h2.20M254.78 96.40v2.20M234.80 72.27h1.30M260.40 96.40v1.30M234.80 69.00h1.30M263.69 96.40v1.30M234.80 66.68h1.30M266.02 96.40v1.30M234.80 64.88h1.30M267.83 96.40v1.30M234.80 63.42h1.30M269.31 96.40v1.30M234.80 62.17h1.30M270.56 96.40v1.30M234.80 61.10h1.30M271.64 96.40v1.30M234.80 60.15h1.30M272.60 96.40v1.30M233.90 59.30h2.20M273.45 96.40v2.20M234.80 53.72h1.30M279.07 96.40v1.30M234.80 50.45h1.30M282.36 96.40v1.30M234.80 48.13h1.30M284.69 96.40v1.30M234.80 46.33h1.30M286.50 96.40v1.30M234.80 44.87h1.30M287.98 96.40v1.30M234.80 43.62h1.30M289.23 96.40v1.30M234.80 42.55h1.30M290.32 96.40v1.30M234.80 41.60h1.30M291.27 96.40v1.30M233.90 40.75h2.20M292.12 96.40v2.20M234.80 35.17h1.30M297.75 96.40v1.30M234.80 31.90h1.30M301.04 96.40v1.30M234.80 29.58h1.30M303.37 96.40v1.30M234.80 27.78h1.30M305.18 96.40v1.30M234.80 26.32h1.30M306.66 96.40v1.30M234.80 25.07h1.30M307.91 96.40v1.30M234.80 24.00h1.30M308.99 96.40v1.30M234.80 23.05h1.30M309.95 96.40v1.30M233.90 22.20h2.2M310.80 96.40v2.2" stroke="#000" stroke-width="0.7" fill="none"/>
<text x="232.11" y="105.66" font-size="6.3" font-weight="bold">10<tspan font-size="4.28" dy="-1.89">0</tspan></text>
<text x="229.26" y="97.90" font-size="6.3" font-weight="bold" transform="rotate(-90 233.96 97.90)">10<tspan font-size="4.28" dy="-1.89">0</tspan></text>
<text x="250.48" y="105.66" font-size="6.3" font-weight="bold">10<tspan font-size="4.28" dy="-1.89">1</tspan></text>
<text x="229.26" y="79.35" font-size="6.3" font-weight="bold" transform="rotate(-90 233.96 79.35)">10<tspan font-size="4.28" dy="-1.89">1</tspan></text>
<text x="268.86" y="105.66" font-size="6.3" font-weight="bold">10<tspan font-size="4.28" dy="-1.89">2</tspan></text>
<text x="229.26" y="60.80" font-size="6.3" font-weight="bold" transform="rotate(-90 233.96 60.80)">10<tspan font-size="4.28" dy="-1.89">2</tspan></text>
<text x="287.23" y="105.66" font-size="6.3" font-weight="bold">10<tspan font-size="4.28" dy="-1.89">3</tspan></text>
<text x="229.26" y="42.25" font-size="6.3" font-weight="bold" transform="rotate(-90 233.96 42.25)">10<tspan font-size="4.28" dy="-1.89">3</tspan></text>
<text x="305.61" y="105.66" font-size="6.3" font-weight="bold">10<tspan font-size="4.28" dy="-1.89">4</tspan></text>
<text x="229.26" y="23.70" font-size="6.3" font-weight="bold" transform="rotate(-90 233.96 23.70)">10<tspan font-size="4.28" dy="-1.89">4</tspan></text>
<rect x="339.10" y="22.20" width="74.70" height="74.20" fill="none" stroke="#3a3a3a" stroke-width="0.9"/>
<line x1="361.90" y1="22.20" x2="361.90" y2="96.40" stroke="#444" stroke-width="0.9"/>
<line x1="339.10" y1="73.90" x2="413.80" y2="73.90" stroke="#444" stroke-width="0.9"/>
<path fill="#000" d="M370 58h1v1h-1zM358 60h1v1h-1zM354 61h1v1h-1zM358 61h1v1h-1zM354 62h1v1h-1zM357 62h2v1h-2zM360 62h1v1h-1zM359 63h5v1h-5zM351 64h1v1h-1zM361 64h3v1h-3zM366 64h1v1h-1zM357 65h1v1h-1zM361 65h2v1h-2zM354 66h1v1h-1zM357 66h1v1h-1zM359 66h3v1h-3zM365 66h1v1h-1zM352 67h2v1h-2zM356 67h1v1h-1zM360 67h1v1h-1zM363 67h1v1h-1zM356 68h1v1h-1zM360 68h1v1h-1zM362 68h1v1h-1zM351 69h2v1h-2zM355 69h2v1h-2zM358 69h3v1h-3zM362 69h1v1h-1zM353 70h6v1h-6zM361 70h2v1h-2zM351 71h1v1h-1zM353 71h1v1h-1zM356 71h2v1h-2zM353 72h1v1h-1zM355 72h4v1h-4zM354 73h5v1h-5zM361 73h1v1h-1zM345 74h1v1h-1zM349 74h3v1h-3zM353 74h1v1h-1zM355 74h1v1h-1zM357 74h2v1h-2zM371 74h1v1h-1zM344 75h1v1h-1zM346 75h2v1h-2zM351 75h1v1h-1zM353 75h2v1h-2zM357 75h1v1h-1zM361 75h1v1h-1zM364 75h1v1h-1zM340 76h1v1h-1zM342 76h3v1h-3zM347 76h1v1h-1zM349 76h1v1h-1zM351 76h2v1h-2zM354 76h4v1h-4zM359 76h1v1h-1zM361 76h1v1h-1zM368 76h1v1h-1zM370 76h1v1h-1zM341 77h5v1h-5zM347 77h7v1h-7zM360 77h1v1h-1zM362 77h1v1h-1zM364 77h1v1h-1zM367 77h1v1h-1zM370 77h2v1h-2zM373 77h2v1h-2zM376 77h1v1h-1zM341 78h2v1h-2zM344 78h4v1h-4zM349 78h1v1h-1zM351 78h4v1h-4zM359 78h5v1h-5zM365 78h1v1h-1zM368 78h5v1h-5zM374 78h4v1h-4zM340 79h5v1h-5zM346 79h10v1h-10zM367 79h12v1h-12zM340 80h14v1h-14zM355 80h1v1h-1zM357 80h1v1h-1zM359 80h1v1h-1zM361 80h2v1h-2zM368 80h10v1h-10zM340 81h15v1h-15zM357 81h1v1h-1zM363 81h1v1h-1zM365 81h11v1h-11zM377 81h2v1h-2zM340 82h17v1h-17zM358 82h5v1h-5zM364 82h1v1h-1zM367 82h11v1h-11zM379 82h1v1h-1zM340 83h17v1h-17zM362 83h1v1h-1zM367 83h13v1h-13zM340 84h16v1h-16zM357 84h1v1h-1zM360 84h2v1h-2zM363 84h1v1h-1zM367 84h12v1h-12zM340 85h18v1h-18zM361 85h3v1h-3zM365 85h13v1h-13zM340 86h17v1h-17zM358 86h3v1h-3zM363 86h3v1h-3zM367 86h12v1h-12zM340 87h15v1h-15zM358 87h1v1h-1zM360 87h1v1h-1zM362 87h1v1h-1zM367 87h11v1h-11zM379 87h1v1h-1zM340 88h17v1h-17zM362 88h3v1h-3zM366 88h13v1h-13zM340 89h16v1h-16zM360 89h6v1h-6zM367 89h11v1h-11zM380 89h1v1h-1zM340 90h17v1h-17zM359 90h5v1h-5zM368 90h11v1h-11zM340 91h17v1h-17zM359 91h1v1h-1zM361 91h1v1h-1zM364 91h1v1h-1zM366 91h11v1h-11zM379 91h1v1h-1zM340 92h16v1h-16zM358 92h1v1h-1zM360 92h1v1h-1zM364 92h13v1h-13zM378 92h1v1h-1zM340 93h15v1h-15zM356 93h1v1h-1zM358 93h1v1h-1zM360 93h2v1h-2zM363 93h1v1h-1zM365 93h12v1h-12zM378 93h1v1h-1zM380 93h1v1h-1zM340 94h14v1h-14zM355 94h1v1h-1zM357 94h2v1h-2zM366 94h11v1h-11zM378 94h2v1h-2zM340 95h18v1h-18zM360 95h1v1h-1zM362 95h1v1h-1zM366 95h11v1h-11zM378 95h1v1h-1z"/>
<path fill="#404040" d="M357 52h1v1h-1zM350 53h1v1h-1zM357 53h1v1h-1zM371 54h1v1h-1zM356 57h1v1h-1zM363 57h3v1h-3zM356 58h1v1h-1zM372 58h1v1h-1zM361 60h2v1h-2zM359 61h2v1h-2zM359 62h1v1h-1zM363 62h1v1h-1zM353 63h1v1h-1zM358 63h1v1h-1zM364 63h2v1h-2zM350 64h1v1h-1zM352 64h1v1h-1zM356 64h1v1h-1zM359 64h1v1h-1zM378 64h1v1h-1zM354 65h1v1h-1zM358 65h3v1h-3zM358 66h1v1h-1zM362 66h1v1h-1zM369 66h1v1h-1zM345 67h2v1h-2zM354 67h2v1h-2zM361 67h1v1h-1zM365 67h2v1h-2zM353 68h2v1h-2zM358 68h2v1h-2zM361 68h1v1h-1zM366 68h1v1h-1zM354 69h1v1h-1zM365 69h1v1h-1zM351 70h2v1h-2zM354 71h2v1h-2zM358 71h1v1h-1zM361 71h2v1h-2zM365 71h1v1h-1zM348 72h1v1h-1zM352 72h1v1h-1zM362 72h1v1h-1zM345 73h1v1h-1zM352 73h1v1h-1zM360 73h1v1h-1zM362 73h2v1h-2zM369 73h1v1h-1zM346 74h1v1h-1zM354 74h1v1h-1zM362 74h1v1h-1zM369 74h1v1h-1zM340 75h1v1h-1zM342 75h1v1h-1zM345 75h1v1h-1zM352 75h1v1h-1zM356 75h1v1h-1zM363 75h1v1h-1zM366 75h1v1h-1zM371 75h1v1h-1zM345 76h1v1h-1zM350 76h1v1h-1zM365 76h1v1h-1zM367 76h1v1h-1zM372 76h3v1h-3zM340 77h1v1h-1zM354 77h1v1h-1zM357 77h1v1h-1zM361 77h1v1h-1zM365 77h1v1h-1zM368 77h2v1h-2zM372 77h1v1h-1zM377 77h2v1h-2zM340 78h1v1h-1zM343 78h1v1h-1zM348 78h1v1h-1zM350 78h1v1h-1zM356 78h1v1h-1zM358 78h1v1h-1zM378 78h2v1h-2zM359 79h2v1h-2zM362 79h2v1h-2zM354 80h1v1h-1zM358 80h1v1h-1zM360 80h1v1h-1zM363 80h1v1h-1zM366 80h1v1h-1zM355 81h1v1h-1zM361 81h1v1h-1zM364 81h1v1h-1zM376 81h1v1h-1zM357 82h1v1h-1zM363 82h1v1h-1zM365 82h2v1h-2zM378 82h1v1h-1zM357 83h1v1h-1zM360 83h1v1h-1zM366 83h1v1h-1zM356 84h1v1h-1zM359 84h1v1h-1zM365 84h1v1h-1zM358 85h3v1h-3zM364 85h1v1h-1zM378 85h1v1h-1zM361 86h1v1h-1zM366 86h1v1h-1zM356 87h1v1h-1zM364 87h1v1h-1zM366 87h1v1h-1zM357 88h2v1h-2zM360 88h2v1h-2zM365 88h1v1h-1zM357 89h1v1h-1zM357 90h2v1h-2zM364 90h1v1h-1zM366 90h1v1h-1zM379 90h1v1h-1zM358 91h1v1h-1zM377 91h1v1h-1zM356 92h2v1h-2zM359 92h1v1h-1zM377 92h1v1h-1zM355 93h1v1h-1zM357 93h1v1h-1zM359 93h1v1h-1zM354 94h1v1h-1zM359 94h3v1h-3zM364 94h1v1h-1zM377 94h1v1h-1zM358 95h1v1h-1zM379 95h1v1h-1z"/>
<path fill="#808080" d="M362 27h1v1h-1zM361 38h1v1h-1zM357 40h1v1h-1zM376 40h1v1h-1zM378 42h1v1h-1zM388 45h1v1h-1zM359 46h1v1h-1zM375 46h1v1h-1zM351 47h1v1h-1zM373 47h1v1h-1zM346 48h2v1h-2zM350 48h1v1h-1zM368 49h1v1h-1zM353 50h1v1h-1zM379 50h1v1h-1zM357 51h1v1h-1zM360 51h1v1h-1zM376 51h1v1h-1zM380 51h1v1h-1zM343 52h1v1h-1zM355 52h1v1h-1zM359 52h1v1h-1zM368 52h2v1h-2zM374 52h2v1h-2zM352 53h1v1h-1zM361 53h1v1h-1zM368 53h1v1h-1zM371 53h1v1h-1zM357 54h1v1h-1zM360 54h1v1h-1zM363 54h1v1h-1zM366 54h1v1h-1zM379 54h1v1h-1zM351 55h1v1h-1zM362 55h1v1h-1zM371 55h1v1h-1zM374 55h1v1h-1zM379 55h1v1h-1zM347 56h1v1h-1zM352 56h2v1h-2zM358 56h2v1h-2zM365 56h4v1h-4zM371 56h1v1h-1zM374 56h1v1h-1zM379 56h1v1h-1zM385 56h1v1h-1zM358 57h1v1h-1zM360 57h2v1h-2zM366 57h1v1h-1zM369 57h2v1h-2zM372 57h1v1h-1zM353 58h1v1h-1zM355 58h1v1h-1zM357 58h1v1h-1zM366 58h1v1h-1zM371 58h1v1h-1zM373 58h1v1h-1zM375 58h1v1h-1zM354 59h3v1h-3zM358 59h1v1h-1zM360 59h3v1h-3zM364 59h2v1h-2zM346 60h1v1h-1zM349 60h2v1h-2zM354 60h1v1h-1zM360 60h1v1h-1zM368 60h1v1h-1zM371 60h1v1h-1zM346 61h1v1h-1zM348 61h1v1h-1zM352 61h1v1h-1zM355 61h3v1h-3zM362 61h1v1h-1zM365 61h3v1h-3zM373 61h1v1h-1zM343 62h2v1h-2zM352 62h1v1h-1zM355 62h1v1h-1zM361 62h1v1h-1zM366 62h1v1h-1zM369 62h1v1h-1zM349 63h1v1h-1zM357 63h1v1h-1zM373 63h2v1h-2zM348 64h1v1h-1zM354 64h1v1h-1zM364 64h1v1h-1zM367 64h1v1h-1zM371 64h1v1h-1zM353 65h1v1h-1zM355 65h2v1h-2zM363 65h1v1h-1zM365 65h2v1h-2zM343 66h1v1h-1zM351 66h1v1h-1zM355 66h1v1h-1zM363 66h1v1h-1zM367 66h2v1h-2zM372 66h1v1h-1zM343 67h1v1h-1zM351 67h1v1h-1zM357 67h1v1h-1zM359 67h1v1h-1zM362 67h1v1h-1zM364 67h1v1h-1zM369 67h1v1h-1zM371 67h1v1h-1zM349 68h1v1h-1zM355 68h1v1h-1zM367 68h1v1h-1zM349 69h2v1h-2zM353 69h1v1h-1zM357 69h1v1h-1zM361 69h1v1h-1zM364 69h1v1h-1zM367 69h2v1h-2zM346 70h2v1h-2zM359 70h2v1h-2zM365 70h4v1h-4zM375 70h1v1h-1zM348 71h3v1h-3zM359 71h1v1h-1zM367 71h1v1h-1zM376 71h1v1h-1zM340 72h1v1h-1zM345 72h1v1h-1zM350 72h1v1h-1zM354 72h1v1h-1zM360 72h2v1h-2zM363 72h1v1h-1zM371 72h3v1h-3zM342 73h1v1h-1zM347 73h1v1h-1zM349 73h3v1h-3zM364 73h1v1h-1zM367 73h2v1h-2zM375 73h1v1h-1zM377 73h1v1h-1zM342 74h3v1h-3zM348 74h1v1h-1zM359 74h1v1h-1zM361 74h1v1h-1zM364 74h2v1h-2zM341 75h1v1h-1zM343 75h1v1h-1zM348 75h1v1h-1zM350 75h1v1h-1zM355 75h1v1h-1zM358 75h1v1h-1zM360 75h1v1h-1zM362 75h1v1h-1zM368 75h1v1h-1zM372 75h1v1h-1zM341 76h1v1h-1zM346 76h1v1h-1zM358 76h1v1h-1zM362 76h1v1h-1zM364 76h1v1h-1zM369 76h1v1h-1zM376 76h4v1h-4zM355 77h2v1h-2zM358 77h1v1h-1zM366 77h1v1h-1zM375 77h1v1h-1zM355 78h1v1h-1zM357 78h1v1h-1zM366 78h1v1h-1zM345 79h1v1h-1zM356 79h3v1h-3zM361 79h1v1h-1zM364 79h2v1h-2zM356 80h1v1h-1zM367 80h1v1h-1zM378 80h1v1h-1zM380 80h1v1h-1zM382 80h1v1h-1zM358 81h1v1h-1zM379 81h2v1h-2zM358 83h1v1h-1zM364 83h2v1h-2zM380 83h1v1h-1zM364 84h1v1h-1zM366 84h1v1h-1zM384 84h1v1h-1zM379 85h1v1h-1zM357 86h1v1h-1zM379 86h2v1h-2zM355 87h1v1h-1zM357 87h1v1h-1zM359 87h1v1h-1zM361 87h1v1h-1zM363 87h1v1h-1zM365 87h1v1h-1zM378 87h1v1h-1zM380 87h1v1h-1zM359 88h1v1h-1zM380 88h1v1h-1zM358 89h2v1h-2zM366 89h1v1h-1zM378 89h2v1h-2zM381 89h1v1h-1zM367 90h1v1h-1zM383 90h1v1h-1zM357 91h1v1h-1zM363 91h1v1h-1zM378 91h1v1h-1zM361 92h1v1h-1zM363 92h1v1h-1zM362 93h1v1h-1zM364 93h1v1h-1zM377 93h1v1h-1zM381 93h1v1h-1zM356 94h1v1h-1zM363 94h1v1h-1zM365 94h1v1h-1zM363 95h3v1h-3zM380 95h1v1h-1zM382 95h1v1h-1z"/>
<ellipse cx="374.70" cy="59.70" rx="12.50" ry="8.20" transform="rotate(-63.6 374.70 59.70)" fill="none" stroke="#1a1a1a" stroke-width="0.8"/>
<line x1="339.10" y1="21.90" x2="339.10" y2="97.00" stroke="#000" stroke-width="1.2"/>
<line x1="338.50" y1="96.40" x2="414.10" y2="96.40" stroke="#000" stroke-width="1.2"/>
<path d="M336.90 96.40h2.20M339.10 96.40v2.20M337.80 90.82h1.30M344.72 96.40v1.30M337.80 87.55h1.30M348.01 96.40v1.30M337.80 85.23h1.30M350.34 96.40v1.30M337.80 83.43h1.30M352.15 96.40v1.30M337.80 81.97h1.30M353.63 96.40v1.30M337.80 80.72h1.30M354.88 96.40v1.30M337.80 79.65h1.30M355.97 96.40v1.30M337.80 78.70h1.30M356.92 96.40v1.30M336.90 77.85h2.20M357.78 96.40v2.20M337.80 72.27h1.30M363.40 96.40v1.30M337.80 69.00h1.30M366.69 96.40v1.30M337.80 66.68h1.30M369.02 96.40v1.30M337.80 64.88h1.30M370.83 96.40v1.30M337.80 63.42h1.30M372.31 96.40v1.30M337.80 62.17h1.30M373.56 96.40v1.30M337.80 61.10h1.30M374.64 96.40v1.30M337.80 60.15h1.30M375.60 96.40v1.30M336.90 59.30h2.20M376.45 96.40v2.20M337.80 53.72h1.30M382.07 96.40v1.30M337.80 50.45h1.30M385.36 96.40v1.30M337.80 48.13h1.30M387.69 96.40v1.30M337.80 46.33h1.30M389.50 96.40v1.30M337.80 44.87h1.30M390.98 96.40v1.30M337.80 43.62h1.30M392.23 96.40v1.30M337.80 42.55h1.30M393.32 96.40v1.30M337.80 41.60h1.30M394.27 96.40v1.30M336.90 40.75h2.20M395.12 96.40v2.20M337.80 35.17h1.30M400.75 96.40v1.30M337.80 31.90h1.30M404.04 96.40v1.30M337.80 29.58h1.30M406.37 96.40v1.30M337.80 27.78h1.30M408.18 96.40v1.30M337.80 26.32h1.30M409.66 96.40v1.30M337.80 25.07h1.30M410.91 96.40v1.30M337.80 24.00h1.30M411.99 96.40v1.30M337.80 23.05h1.30M412.95 96.40v1.30M336.90 22.20h2.2M413.80 96.40v2.2" stroke="#000" stroke-width="0.7" fill="none"/>
<text x="335.11" y="105.66" font-size="6.3" font-weight="bold">10<tspan font-size="4.28" dy="-1.89">0</tspan></text>
<text x="332.26" y="97.90" font-size="6.3" font-weight="bold" transform="rotate(-90 336.96 97.90)">10<tspan font-size="4.28" dy="-1.89">0</tspan></text>
<text x="353.48" y="105.66" font-size="6.3" font-weight="bold">10<tspan font-size="4.28" dy="-1.89">1</tspan></text>
<text x="332.26" y="79.35" font-size="6.3" font-weight="bold" transform="rotate(-90 336.96 79.35)">10<tspan font-size="4.28" dy="-1.89">1</tspan></text>
<text x="371.86" y="105.66" font-size="6.3" font-weight="bold">10<tspan font-size="4.28" dy="-1.89">2</tspan></text>
<text x="332.26" y="60.80" font-size="6.3" font-weight="bold" transform="rotate(-90 336.96 60.80)">10<tspan font-size="4.28" dy="-1.89">2</tspan></text>
<text x="390.23" y="105.66" font-size="6.3" font-weight="bold">10<tspan font-size="4.28" dy="-1.89">3</tspan></text>
<text x="332.26" y="42.25" font-size="6.3" font-weight="bold" transform="rotate(-90 336.96 42.25)">10<tspan font-size="4.28" dy="-1.89">3</tspan></text>
<text x="408.61" y="105.66" font-size="6.3" font-weight="bold">10<tspan font-size="4.28" dy="-1.89">4</tspan></text>
<text x="332.26" y="23.70" font-size="6.3" font-weight="bold" transform="rotate(-90 336.96 23.70)">10<tspan font-size="4.28" dy="-1.89">4</tspan></text>
<rect x="439.70" y="22.20" width="74.70" height="74.20" fill="none" stroke="#3a3a3a" stroke-width="0.9"/>
<line x1="462.40" y1="22.20" x2="462.40" y2="96.40" stroke="#444" stroke-width="0.9"/>
<line x1="439.70" y1="73.90" x2="514.40" y2="73.90" stroke="#444" stroke-width="0.9"/>
<path fill="#000" d="M461 73h1v1h-1zM443 76h1v1h-1zM446 76h1v1h-1zM467 76h1v1h-1zM453 77h1v1h-1zM455 77h1v1h-1zM460 77h2v1h-2zM463 77h1v1h-1zM474 77h1v1h-1zM441 78h3v1h-3zM445 78h10v1h-10zM456 78h2v1h-2zM459 78h3v1h-3zM463 78h3v1h-3zM468 78h1v1h-1zM470 78h1v1h-1zM472 78h1v1h-1zM441 79h4v1h-4zM448 79h11v1h-11zM460 79h12v1h-12zM473 79h3v1h-3zM477 79h1v1h-1zM440 80h1v1h-1zM442 80h3v1h-3zM446 80h8v1h-8zM456 80h5v1h-5zM462 80h5v1h-5zM469 80h6v1h-6zM477 80h1v1h-1zM440 81h17v1h-17zM458 81h14v1h-14zM473 81h1v1h-1zM475 81h3v1h-3zM440 82h1v1h-1zM442 82h34v1h-34zM477 82h3v1h-3zM440 83h33v1h-33zM474 83h3v1h-3zM440 84h23v1h-23zM465 84h13v1h-13zM479 84h1v1h-1zM440 85h22v1h-22zM463 85h1v1h-1zM465 85h15v1h-15zM440 86h22v1h-22zM464 86h16v1h-16zM440 87h22v1h-22zM463 87h1v1h-1zM465 87h14v1h-14zM440 88h23v1h-23zM465 88h13v1h-13zM440 89h22v1h-22zM463 89h1v1h-1zM465 89h14v1h-14zM440 90h22v1h-22zM463 90h1v1h-1zM465 90h14v1h-14zM440 91h23v1h-23zM464 91h14v1h-14zM479 91h2v1h-2zM440 92h22v1h-22zM464 92h13v1h-13zM478 92h2v1h-2zM440 93h40v1h-40zM440 94h22v1h-22zM463 94h18v1h-18zM440 95h22v1h-22zM464 95h16v1h-16z"/>
<path fill="#404040" d="M461 71h1v1h-1zM463 71h1v1h-1zM461 72h1v1h-1zM464 74h1v1h-1zM455 75h1v1h-1zM459 75h2v1h-2zM466 75h1v1h-1zM447 76h1v1h-1zM457 76h1v1h-1zM464 76h1v1h-1zM469 76h2v1h-2zM447 77h1v1h-1zM450 77h1v1h-1zM454 77h1v1h-1zM469 77h1v1h-1zM471 77h1v1h-1zM444 78h1v1h-1zM458 78h1v1h-1zM467 78h1v1h-1zM469 78h1v1h-1zM471 78h1v1h-1zM474 78h2v1h-2zM445 79h1v1h-1zM459 79h1v1h-1zM472 79h1v1h-1zM476 79h1v1h-1zM479 79h1v1h-1zM441 80h1v1h-1zM445 80h1v1h-1zM454 80h2v1h-2zM461 80h1v1h-1zM468 80h1v1h-1zM475 80h2v1h-2zM457 81h1v1h-1zM472 81h1v1h-1zM441 82h1v1h-1zM477 83h3v1h-3zM463 84h1v1h-1zM478 84h1v1h-1zM480 84h1v1h-1zM462 86h1v1h-1zM464 87h1v1h-1zM480 87h1v1h-1zM480 88h1v1h-1zM462 89h1v1h-1zM479 90h1v1h-1zM481 90h1v1h-1zM478 91h1v1h-1zM481 91h1v1h-1zM477 92h1v1h-1zM480 93h2v1h-2zM462 94h1v1h-1zM463 95h1v1h-1z"/>
<path fill="#808080" d="M443 24h1v1h-1zM450 36h1v1h-1zM448 38h1v1h-1zM451 43h1v1h-1zM465 45h1v1h-1zM456 47h1v1h-1zM440 49h1v1h-1zM457 50h1v1h-1zM441 55h1v1h-1zM451 55h1v1h-1zM448 56h1v1h-1zM455 58h1v1h-1zM442 59h1v1h-1zM505 62h1v1h-1zM451 64h1v1h-1zM456 64h1v1h-1zM469 67h1v1h-1zM463 69h1v1h-1zM465 69h1v1h-1zM456 70h1v1h-1zM461 70h1v1h-1zM452 71h1v1h-1zM464 71h2v1h-2zM456 72h1v1h-1zM460 72h1v1h-1zM463 72h1v1h-1zM467 72h1v1h-1zM460 73h1v1h-1zM462 73h2v1h-2zM466 73h1v1h-1zM446 74h1v1h-1zM455 74h1v1h-1zM458 74h1v1h-1zM461 74h1v1h-1zM463 74h1v1h-1zM448 75h1v1h-1zM452 75h1v1h-1zM458 75h1v1h-1zM469 75h1v1h-1zM474 75h1v1h-1zM479 75h1v1h-1zM440 76h3v1h-3zM444 76h1v1h-1zM450 76h2v1h-2zM454 76h1v1h-1zM458 76h1v1h-1zM460 76h3v1h-3zM465 76h2v1h-2zM474 76h1v1h-1zM476 76h1v1h-1zM440 77h3v1h-3zM444 77h3v1h-3zM449 77h1v1h-1zM451 77h2v1h-2zM456 77h2v1h-2zM459 77h1v1h-1zM464 77h5v1h-5zM470 77h1v1h-1zM473 77h1v1h-1zM475 77h1v1h-1zM478 77h1v1h-1zM440 78h1v1h-1zM462 78h1v1h-1zM473 78h1v1h-1zM476 78h2v1h-2zM446 79h2v1h-2zM480 79h1v1h-1zM478 80h2v1h-2zM481 80h1v1h-1zM476 82h1v1h-1zM473 83h1v1h-1zM480 83h1v1h-1zM462 85h1v1h-1zM463 86h1v1h-1zM480 86h1v1h-1zM462 87h1v1h-1zM479 87h1v1h-1zM482 87h1v1h-1zM464 88h1v1h-1zM478 88h2v1h-2zM481 88h1v1h-1zM464 89h1v1h-1zM479 89h2v1h-2zM462 90h1v1h-1zM464 90h1v1h-1zM480 90h1v1h-1zM463 91h1v1h-1zM463 92h1v1h-1zM480 92h1v1h-1zM482 93h1v1h-1zM482 94h1v1h-1zM482 95h1v1h-1z"/>
<ellipse cx="473.90" cy="60.50" rx="13.40" ry="9.00" transform="rotate(-58 473.90 60.50)" fill="none" stroke="#1a1a1a" stroke-width="0.8"/>
<line x1="439.70" y1="21.90" x2="439.70" y2="97.00" stroke="#000" stroke-width="1.2"/>
<line x1="439.10" y1="96.40" x2="514.70" y2="96.40" stroke="#000" stroke-width="1.2"/>
<path d="M437.50 96.40h2.20M439.70 96.40v2.20M438.40 90.82h1.30M445.32 96.40v1.30M438.40 87.55h1.30M448.61 96.40v1.30M438.40 85.23h1.30M450.94 96.40v1.30M438.40 83.43h1.30M452.75 96.40v1.30M438.40 81.97h1.30M454.23 96.40v1.30M438.40 80.72h1.30M455.48 96.40v1.30M438.40 79.65h1.30M456.57 96.40v1.30M438.40 78.70h1.30M457.52 96.40v1.30M437.50 77.85h2.20M458.38 96.40v2.20M438.40 72.27h1.30M464.00 96.40v1.30M438.40 69.00h1.30M467.29 96.40v1.30M438.40 66.68h1.30M469.62 96.40v1.30M438.40 64.88h1.30M471.43 96.40v1.30M438.40 63.42h1.30M472.91 96.40v1.30M438.40 62.17h1.30M474.16 96.40v1.30M438.40 61.10h1.30M475.24 96.40v1.30M438.40 60.15h1.30M476.20 96.40v1.30M437.50 59.30h2.20M477.05 96.40v2.20M438.40 53.72h1.30M482.67 96.40v1.30M438.40 50.45h1.30M485.96 96.40v1.30M438.40 48.13h1.30M488.29 96.40v1.30M438.40 46.33h1.30M490.10 96.40v1.30M438.40 44.87h1.30M491.58 96.40v1.30M438.40 43.62h1.30M492.83 96.40v1.30M438.40 42.55h1.30M493.92 96.40v1.30M438.40 41.60h1.30M494.87 96.40v1.30M437.50 40.75h2.20M495.73 96.40v2.20M438.40 35.17h1.30M501.35 96.40v1.30M438.40 31.90h1.30M504.64 96.40v1.30M438.40 29.58h1.30M506.97 96.40v1.30M438.40 27.78h1.30M508.78 96.40v1.30M438.40 26.32h1.30M510.26 96.40v1.30M438.40 25.07h1.30M511.51 96.40v1.30M438.40 24.00h1.30M512.59 96.40v1.30M438.40 23.05h1.30M513.55 96.40v1.30M437.50 22.20h2.2M514.40 96.40v2.2" stroke="#000" stroke-width="0.7" fill="none"/>
<text x="435.71" y="105.66" font-size="6.3" font-weight="bold">10<tspan font-size="4.28" dy="-1.89">0</tspan></text>
<text x="432.86" y="97.90" font-size="6.3" font-weight="bold" transform="rotate(-90 437.56 97.90)">10<tspan font-size="4.28" dy="-1.89">0</tspan></text>
<text x="454.08" y="105.66" font-size="6.3" font-weight="bold">10<tspan font-size="4.28" dy="-1.89">1</tspan></text>
<text x="432.86" y="79.35" font-size="6.3" font-weight="bold" transform="rotate(-90 437.56 79.35)">10<tspan font-size="4.28" dy="-1.89">1</tspan></text>
<text x="472.46" y="105.66" font-size="6.3" font-weight="bold">10<tspan font-size="4.28" dy="-1.89">2</tspan></text>
<text x="432.86" y="60.80" font-size="6.3" font-weight="bold" transform="rotate(-90 437.56 60.80)">10<tspan font-size="4.28" dy="-1.89">2</tspan></text>
<text x="490.83" y="105.66" font-size="6.3" font-weight="bold">10<tspan font-size="4.28" dy="-1.89">3</tspan></text>
<text x="432.86" y="42.25" font-size="6.3" font-weight="bold" transform="rotate(-90 437.56 42.25)">10<tspan font-size="4.28" dy="-1.89">3</tspan></text>
<text x="509.21" y="105.66" font-size="6.3" font-weight="bold">10<tspan font-size="4.28" dy="-1.89">4</tspan></text>
<text x="432.86" y="23.70" font-size="6.3" font-weight="bold" transform="rotate(-90 437.56 23.70)">10<tspan font-size="4.28" dy="-1.89">4</tspan></text>
<text x="291.40" y="31.60" font-size="9.0" text-anchor="start" font-weight="bold">H60</text>
<text x="394.00" y="31.60" font-size="9.0" text-anchor="start" font-weight="bold">H13</text>
<text x="497.60" y="31.60" font-size="9.0" text-anchor="start" font-weight="bold">HY</text>
<text x="221.50" y="58.40" font-size="8.8" text-anchor="middle" font-weight="bold" transform="rotate(-90 221.50 58.40)">Tetramer-PE</text>
<text x="252.90" y="120.10" font-size="8.5" text-anchor="start" font-weight="bold">CD8a FITC</text>
<line x1="300.00" y1="117.90" x2="494.00" y2="117.90" stroke="#000" stroke-width="1.1"/>
<path d="M492 115.6L499.4 117.9L492 120.2Z" fill="#000"/>
<text x="339.80" y="148.30" font-size="9.4" text-anchor="start" font-weight="bold">Day 7</text>
<line x1="189.50" y1="152.30" x2="515.00" y2="152.30" stroke="#000" stroke-width="1.2"/>
<rect x="190.10" y="166.90" width="62.50" height="61.10" fill="none" stroke="#3a3a3a" stroke-width="0.9"/>
<line x1="213.20" y1="166.90" x2="213.20" y2="228.00" stroke="#444" stroke-width="0.9"/>
<line x1="190.10" y1="210.40" x2="252.60" y2="210.40" stroke="#444" stroke-width="0.9"/>
<path fill="#000" d="M230 192h1v1h-1zM223 195h1v1h-1zM223 196h1v1h-1zM227 196h1v1h-1zM222 197h1v1h-1zM224 197h2v1h-2zM227 197h1v1h-1zM205 198h1v1h-1zM220 198h7v1h-7zM228 198h2v1h-2zM219 199h1v1h-1zM221 199h1v1h-1zM223 199h3v1h-3zM227 199h1v1h-1zM221 200h7v1h-7zM220 201h1v1h-1zM222 201h4v1h-4zM204 202h2v1h-2zM219 202h5v1h-5zM225 202h1v1h-1zM228 202h1v1h-1zM198 203h1v1h-1zM200 203h2v1h-2zM203 203h1v1h-1zM208 203h1v1h-1zM219 203h2v1h-2zM222 203h1v1h-1zM224 203h1v1h-1zM200 204h1v1h-1zM204 204h1v1h-1zM215 204h1v1h-1zM218 204h2v1h-2zM221 204h2v1h-2zM225 204h1v1h-1zM194 205h2v1h-2zM200 205h2v1h-2zM203 205h1v1h-1zM205 205h1v1h-1zM216 205h2v1h-2zM221 205h1v1h-1zM191 206h1v1h-1zM195 206h1v1h-1zM198 206h5v1h-5zM204 206h1v1h-1zM219 206h1v1h-1zM194 207h1v1h-1zM196 207h1v1h-1zM198 207h2v1h-2zM201 207h2v1h-2zM204 207h2v1h-2zM217 207h2v1h-2zM223 207h1v1h-1zM191 208h10v1h-10zM202 208h1v1h-1zM205 208h1v1h-1zM207 208h2v1h-2zM220 208h1v1h-1zM192 209h9v1h-9zM202 209h5v1h-5zM213 209h1v1h-1zM218 209h1v1h-1zM191 210h6v1h-6zM198 210h10v1h-10zM223 210h1v1h-1zM228 210h1v1h-1zM192 211h2v1h-2zM195 211h7v1h-7zM203 211h5v1h-5zM216 211h2v1h-2zM221 211h1v1h-1zM223 211h1v1h-1zM191 212h19v1h-19zM213 212h2v1h-2zM220 212h1v1h-1zM223 212h3v1h-3zM228 212h1v1h-1zM191 213h18v1h-18zM212 213h1v1h-1zM219 213h1v1h-1zM221 213h4v1h-4zM226 213h2v1h-2zM191 214h19v1h-19zM212 214h1v1h-1zM217 214h3v1h-3zM221 214h4v1h-4zM227 214h3v1h-3zM191 215h16v1h-16zM208 215h2v1h-2zM213 215h1v1h-1zM215 215h1v1h-1zM217 215h9v1h-9zM227 215h1v1h-1zM229 215h1v1h-1zM191 216h4v1h-4zM196 216h13v1h-13zM210 216h1v1h-1zM215 216h1v1h-1zM217 216h1v1h-1zM219 216h13v1h-13zM191 217h18v1h-18zM210 217h1v1h-1zM216 217h15v1h-15zM232 217h1v1h-1zM191 218h17v1h-17zM210 218h1v1h-1zM216 218h1v1h-1zM218 218h13v1h-13zM232 218h1v1h-1zM191 219h17v1h-17zM209 219h1v1h-1zM213 219h1v1h-1zM215 219h1v1h-1zM217 219h14v1h-14zM234 219h1v1h-1zM191 220h21v1h-21zM213 220h1v1h-1zM215 220h16v1h-16zM191 221h18v1h-18zM215 221h2v1h-2zM218 221h15v1h-15zM191 222h17v1h-17zM210 222h2v1h-2zM215 222h16v1h-16zM232 222h1v1h-1zM191 223h20v1h-20zM213 223h1v1h-1zM217 223h15v1h-15zM191 224h20v1h-20zM216 224h2v1h-2zM219 224h12v1h-12zM232 224h1v1h-1zM191 225h18v1h-18zM210 225h3v1h-3zM215 225h15v1h-15zM191 226h18v1h-18zM211 226h1v1h-1zM213 226h1v1h-1zM217 226h13v1h-13zM231 226h1v1h-1z"/>
<path fill="#404040" d="M219 192h1v1h-1zM227 192h1v1h-1zM223 193h1v1h-1zM226 194h1v1h-1zM215 195h1v1h-1zM221 195h1v1h-1zM225 195h1v1h-1zM228 195h1v1h-1zM225 196h1v1h-1zM228 196h1v1h-1zM221 197h1v1h-1zM223 197h1v1h-1zM219 198h1v1h-1zM199 199h1v1h-1zM204 199h1v1h-1zM216 199h1v1h-1zM222 199h1v1h-1zM226 199h1v1h-1zM228 199h1v1h-1zM231 199h1v1h-1zM194 200h1v1h-1zM203 200h1v1h-1zM196 201h1v1h-1zM200 201h1v1h-1zM216 201h1v1h-1zM218 201h1v1h-1zM228 201h1v1h-1zM196 202h2v1h-2zM214 202h2v1h-2zM224 202h1v1h-1zM194 203h1v1h-1zM199 203h1v1h-1zM202 203h1v1h-1zM216 203h1v1h-1zM223 203h1v1h-1zM225 203h1v1h-1zM227 203h1v1h-1zM191 204h1v1h-1zM198 204h2v1h-2zM206 204h1v1h-1zM211 204h1v1h-1zM213 204h1v1h-1zM217 204h1v1h-1zM223 204h1v1h-1zM192 205h1v1h-1zM196 205h2v1h-2zM199 205h1v1h-1zM202 205h1v1h-1zM204 205h1v1h-1zM207 205h2v1h-2zM215 205h1v1h-1zM220 205h1v1h-1zM223 205h2v1h-2zM192 206h2v1h-2zM196 206h2v1h-2zM205 206h1v1h-1zM207 206h2v1h-2zM215 206h1v1h-1zM220 206h2v1h-2zM226 206h1v1h-1zM191 207h2v1h-2zM195 207h1v1h-1zM200 207h1v1h-1zM203 207h1v1h-1zM209 207h1v1h-1zM216 207h1v1h-1zM201 208h1v1h-1zM204 208h1v1h-1zM206 208h1v1h-1zM209 208h1v1h-1zM215 208h1v1h-1zM217 208h1v1h-1zM191 209h1v1h-1zM201 209h1v1h-1zM208 209h1v1h-1zM210 209h1v1h-1zM218 210h1v1h-1zM224 210h1v1h-1zM191 211h1v1h-1zM194 211h1v1h-1zM202 211h1v1h-1zM209 211h1v1h-1zM212 211h1v1h-1zM214 211h2v1h-2zM219 211h2v1h-2zM222 211h1v1h-1zM225 211h1v1h-1zM215 212h1v1h-1zM217 212h1v1h-1zM222 212h1v1h-1zM209 213h1v1h-1zM213 213h2v1h-2zM220 213h1v1h-1zM225 213h1v1h-1zM229 213h1v1h-1zM214 214h2v1h-2zM225 214h2v1h-2zM207 215h1v1h-1zM210 215h1v1h-1zM212 215h1v1h-1zM226 215h1v1h-1zM228 215h1v1h-1zM230 215h1v1h-1zM235 215h1v1h-1zM195 216h1v1h-1zM211 216h1v1h-1zM216 216h1v1h-1zM233 216h1v1h-1zM211 217h1v1h-1zM215 217h1v1h-1zM231 217h1v1h-1zM213 218h3v1h-3zM231 218h1v1h-1zM210 219h1v1h-1zM216 219h1v1h-1zM231 219h3v1h-3zM212 220h1v1h-1zM214 220h1v1h-1zM231 220h1v1h-1zM234 220h1v1h-1zM209 221h2v1h-2zM214 221h1v1h-1zM208 222h2v1h-2zM231 222h1v1h-1zM234 222h1v1h-1zM236 223h1v1h-1zM211 224h1v1h-1zM215 224h1v1h-1zM231 224h1v1h-1zM233 224h1v1h-1zM214 225h1v1h-1zM232 225h2v1h-2zM209 226h1v1h-1zM212 226h1v1h-1zM233 226h1v1h-1zM235 226h1v1h-1z"/>
<path fill="#808080" d="M196 174h1v1h-1zM194 176h1v1h-1zM209 178h1v1h-1zM209 179h1v1h-1zM203 182h1v1h-1zM233 183h1v1h-1zM207 184h1v1h-1zM209 184h1v1h-1zM221 185h1v1h-1zM225 185h1v1h-1zM229 185h1v1h-1zM198 186h1v1h-1zM200 186h1v1h-1zM217 186h1v1h-1zM228 186h1v1h-1zM203 187h1v1h-1zM220 187h1v1h-1zM209 188h1v1h-1zM222 188h2v1h-2zM223 189h1v1h-1zM227 189h1v1h-1zM213 190h1v1h-1zM220 190h1v1h-1zM208 191h1v1h-1zM210 191h1v1h-1zM217 191h1v1h-1zM224 191h2v1h-2zM231 191h2v1h-2zM234 191h1v1h-1zM221 192h2v1h-2zM224 192h1v1h-1zM226 192h1v1h-1zM228 192h1v1h-1zM231 192h2v1h-2zM196 193h1v1h-1zM198 193h1v1h-1zM201 193h1v1h-1zM206 193h1v1h-1zM220 193h2v1h-2zM225 193h1v1h-1zM228 193h1v1h-1zM234 193h2v1h-2zM195 194h1v1h-1zM200 194h1v1h-1zM219 194h3v1h-3zM225 194h1v1h-1zM228 194h1v1h-1zM230 194h3v1h-3zM214 195h1v1h-1zM216 195h1v1h-1zM220 195h1v1h-1zM224 195h1v1h-1zM226 195h2v1h-2zM230 195h1v1h-1zM194 196h1v1h-1zM200 196h1v1h-1zM209 196h1v1h-1zM218 196h1v1h-1zM220 196h1v1h-1zM222 196h1v1h-1zM229 196h3v1h-3zM193 197h1v1h-1zM202 197h1v1h-1zM217 197h1v1h-1zM226 197h1v1h-1zM228 197h3v1h-3zM233 197h1v1h-1zM238 197h1v1h-1zM194 198h2v1h-2zM198 198h1v1h-1zM202 198h2v1h-2zM208 198h1v1h-1zM212 198h1v1h-1zM215 198h1v1h-1zM227 198h1v1h-1zM230 198h1v1h-1zM191 199h1v1h-1zM195 199h2v1h-2zM201 199h1v1h-1zM203 199h1v1h-1zM205 199h1v1h-1zM208 199h1v1h-1zM212 199h2v1h-2zM215 199h1v1h-1zM218 199h1v1h-1zM220 199h1v1h-1zM233 199h2v1h-2zM195 200h1v1h-1zM197 200h1v1h-1zM199 200h1v1h-1zM207 200h1v1h-1zM210 200h2v1h-2zM215 200h1v1h-1zM218 200h3v1h-3zM228 200h1v1h-1zM232 200h1v1h-1zM191 201h1v1h-1zM194 201h1v1h-1zM198 201h1v1h-1zM202 201h1v1h-1zM205 201h1v1h-1zM208 201h1v1h-1zM210 201h1v1h-1zM212 201h1v1h-1zM219 201h1v1h-1zM221 201h1v1h-1zM227 201h1v1h-1zM229 201h1v1h-1zM192 202h1v1h-1zM194 202h1v1h-1zM198 202h1v1h-1zM202 202h1v1h-1zM208 202h2v1h-2zM213 202h1v1h-1zM216 202h3v1h-3zM226 202h1v1h-1zM192 203h1v1h-1zM195 203h2v1h-2zM207 203h1v1h-1zM212 203h1v1h-1zM217 203h2v1h-2zM221 203h1v1h-1zM226 203h1v1h-1zM229 203h2v1h-2zM192 204h1v1h-1zM197 204h1v1h-1zM201 204h1v1h-1zM203 204h1v1h-1zM210 204h1v1h-1zM214 204h1v1h-1zM216 204h1v1h-1zM224 204h1v1h-1zM228 204h1v1h-1zM191 205h1v1h-1zM193 205h1v1h-1zM198 205h1v1h-1zM206 205h1v1h-1zM209 205h1v1h-1zM212 205h1v1h-1zM214 205h1v1h-1zM218 205h2v1h-2zM222 205h1v1h-1zM227 205h1v1h-1zM231 205h1v1h-1zM194 206h1v1h-1zM203 206h1v1h-1zM206 206h1v1h-1zM209 206h1v1h-1zM212 206h1v1h-1zM216 206h2v1h-2zM222 206h1v1h-1zM224 206h2v1h-2zM227 206h1v1h-1zM197 207h1v1h-1zM206 207h1v1h-1zM212 207h1v1h-1zM220 207h1v1h-1zM222 207h1v1h-1zM225 207h1v1h-1zM203 208h1v1h-1zM210 208h1v1h-1zM212 208h2v1h-2zM216 208h1v1h-1zM218 208h1v1h-1zM221 208h1v1h-1zM226 208h1v1h-1zM229 208h1v1h-1zM207 209h1v1h-1zM214 209h2v1h-2zM217 209h1v1h-1zM222 209h3v1h-3zM231 209h1v1h-1zM197 210h1v1h-1zM208 210h2v1h-2zM213 210h1v1h-1zM217 210h1v1h-1zM220 210h1v1h-1zM225 210h1v1h-1zM227 210h1v1h-1zM208 211h1v1h-1zM210 211h1v1h-1zM218 211h1v1h-1zM224 211h1v1h-1zM226 211h3v1h-3zM230 211h2v1h-2zM210 212h3v1h-3zM219 212h1v1h-1zM221 212h1v1h-1zM226 212h2v1h-2zM230 212h1v1h-1zM232 212h1v1h-1zM210 213h1v1h-1zM216 213h2v1h-2zM228 213h1v1h-1zM230 213h1v1h-1zM232 213h2v1h-2zM235 213h1v1h-1zM210 214h2v1h-2zM213 214h1v1h-1zM230 214h1v1h-1zM216 215h1v1h-1zM231 215h1v1h-1zM209 216h1v1h-1zM212 216h2v1h-2zM218 216h1v1h-1zM237 216h1v1h-1zM209 217h1v1h-1zM213 217h2v1h-2zM208 218h2v1h-2zM211 218h1v1h-1zM217 218h1v1h-1zM234 218h2v1h-2zM208 219h1v1h-1zM211 219h2v1h-2zM214 219h1v1h-1zM232 220h2v1h-2zM211 221h1v1h-1zM217 221h1v1h-1zM212 222h1v1h-1zM216 223h1v1h-1zM233 223h1v1h-1zM235 223h1v1h-1zM214 224h1v1h-1zM218 224h1v1h-1zM239 224h1v1h-1zM209 225h1v1h-1zM213 225h1v1h-1zM230 225h2v1h-2zM234 225h1v1h-1zM210 226h1v1h-1zM215 226h2v1h-2zM230 226h1v1h-1zM232 226h1v1h-1z"/>
<ellipse cx="224.00" cy="198.40" rx="13.10" ry="7.70" transform="rotate(-51 224.00 198.40)" fill="none" stroke="#1a1a1a" stroke-width="0.8"/>
<line x1="190.10" y1="166.60" x2="190.10" y2="228.60" stroke="#000" stroke-width="1.2"/>
<line x1="189.50" y1="228.00" x2="252.90" y2="228.00" stroke="#000" stroke-width="1.2"/>
<path d="M187.90 228.00h2.20M190.10 228.00v2.20M188.80 223.40h1.30M194.80 228.00v1.30M188.80 220.71h1.30M197.56 228.00v1.30M188.80 218.80h1.30M199.51 228.00v1.30M188.80 217.32h1.30M201.02 228.00v1.30M188.80 216.11h1.30M202.26 228.00v1.30M188.80 215.09h1.30M203.30 228.00v1.30M188.80 214.21h1.30M204.21 228.00v1.30M188.80 213.42h1.30M205.01 228.00v1.30M187.90 212.72h2.20M205.72 228.00v2.20M188.80 208.13h1.30M210.43 228.00v1.30M188.80 205.44h1.30M213.18 228.00v1.30M188.80 203.53h1.30M215.13 228.00v1.30M188.80 202.05h1.30M216.65 228.00v1.30M188.80 200.84h1.30M217.88 228.00v1.30M188.80 199.82h1.30M218.93 228.00v1.30M188.80 198.93h1.30M219.84 228.00v1.30M188.80 198.15h1.30M220.64 228.00v1.30M187.90 197.45h2.20M221.35 228.00v2.20M188.80 192.85h1.30M226.05 228.00v1.30M188.80 190.16h1.30M228.81 228.00v1.30M188.80 188.25h1.30M230.76 228.00v1.30M188.80 186.77h1.30M232.27 228.00v1.30M188.80 185.56h1.30M233.51 228.00v1.30M188.80 184.54h1.30M234.55 228.00v1.30M188.80 183.66h1.30M235.46 228.00v1.30M188.80 182.87h1.30M236.26 228.00v1.30M187.90 182.18h2.20M236.97 228.00v2.20M188.80 177.58h1.30M241.68 228.00v1.30M188.80 174.89h1.30M244.43 228.00v1.30M188.80 172.98h1.30M246.38 228.00v1.30M188.80 171.50h1.30M247.90 228.00v1.30M188.80 170.29h1.30M249.13 228.00v1.30M188.80 169.27h1.30M250.18 228.00v1.30M188.80 168.38h1.30M251.09 228.00v1.30M188.80 167.60h1.30M251.89 228.00v1.30M187.90 166.90h2.2M252.60 228.00v2.2" stroke="#000" stroke-width="0.7" fill="none"/>
<text x="188.45" y="235.15" font-size="4.9" font-weight="bold">10<tspan font-size="3.33" dy="-1.47">0</tspan></text>
<text x="183.40" y="225.30" font-size="4.9" font-weight="bold" transform="rotate(-90 187.05 225.30)">10<tspan font-size="3.33" dy="-1.47">0</tspan></text>
<text x="203.57" y="235.15" font-size="4.9" font-weight="bold">10<tspan font-size="3.33" dy="-1.47">1</tspan></text>
<text x="183.40" y="210.83" font-size="4.9" font-weight="bold" transform="rotate(-90 187.05 210.83)">10<tspan font-size="3.33" dy="-1.47">1</tspan></text>
<text x="218.70" y="235.15" font-size="4.9" font-weight="bold">10<tspan font-size="3.33" dy="-1.47">2</tspan></text>
<text x="183.40" y="196.35" font-size="4.9" font-weight="bold" transform="rotate(-90 187.05 196.35)">10<tspan font-size="3.33" dy="-1.47">2</tspan></text>
<text x="233.82" y="235.15" font-size="4.9" font-weight="bold">10<tspan font-size="3.33" dy="-1.47">3</tspan></text>
<text x="183.40" y="181.88" font-size="4.9" font-weight="bold" transform="rotate(-90 187.05 181.88)">10<tspan font-size="3.33" dy="-1.47">3</tspan></text>
<text x="248.95" y="235.15" font-size="4.9" font-weight="bold">10<tspan font-size="3.33" dy="-1.47">4</tspan></text>
<text x="183.40" y="167.40" font-size="4.9" font-weight="bold" transform="rotate(-90 187.05 167.40)">10<tspan font-size="3.33" dy="-1.47">4</tspan></text>
<rect x="264.80" y="166.90" width="63.40" height="61.10" fill="none" stroke="#3a3a3a" stroke-width="0.9"/>
<line x1="287.60" y1="166.90" x2="287.60" y2="228.00" stroke="#444" stroke-width="0.9"/>
<line x1="264.80" y1="210.30" x2="328.20" y2="210.30" stroke="#444" stroke-width="0.9"/>
<path fill="#000" d="M277 197h1v1h-1zM286 197h1v1h-1zM277 200h2v1h-2zM269 201h1v1h-1zM274 201h1v1h-1zM278 201h1v1h-1zM267 202h1v1h-1zM274 202h4v1h-4zM298 202h1v1h-1zM304 202h1v1h-1zM269 203h4v1h-4zM274 203h1v1h-1zM276 203h1v1h-1zM278 203h2v1h-2zM281 203h1v1h-1zM305 203h1v1h-1zM268 204h4v1h-4zM274 204h2v1h-2zM277 204h3v1h-3zM285 204h1v1h-1zM268 205h10v1h-10zM281 205h1v1h-1zM299 205h1v1h-1zM302 205h1v1h-1zM304 205h1v1h-1zM306 205h1v1h-1zM265 206h1v1h-1zM267 206h1v1h-1zM269 206h8v1h-8zM279 206h3v1h-3zM301 206h1v1h-1zM303 206h2v1h-2zM306 206h5v1h-5zM266 207h1v1h-1zM268 207h16v1h-16zM299 207h4v1h-4zM304 207h5v1h-5zM310 207h1v1h-1zM267 208h4v1h-4zM272 208h2v1h-2zM275 208h8v1h-8zM285 208h1v1h-1zM296 208h1v1h-1zM299 208h10v1h-10zM310 208h1v1h-1zM312 208h1v1h-1zM266 209h15v1h-15zM282 209h1v1h-1zM286 209h1v1h-1zM290 209h1v1h-1zM292 209h2v1h-2zM295 209h1v1h-1zM298 209h11v1h-11zM311 209h2v1h-2zM266 210h18v1h-18zM286 210h1v1h-1zM289 210h1v1h-1zM297 210h1v1h-1zM300 210h4v1h-4zM305 210h7v1h-7zM265 211h2v1h-2zM268 211h15v1h-15zM285 211h1v1h-1zM292 211h1v1h-1zM296 211h13v1h-13zM310 211h1v1h-1zM265 212h18v1h-18zM285 212h1v1h-1zM288 212h2v1h-2zM291 212h1v1h-1zM293 212h1v1h-1zM296 212h16v1h-16zM265 213h19v1h-19zM286 213h1v1h-1zM289 213h2v1h-2zM294 213h1v1h-1zM297 213h13v1h-13zM312 213h2v1h-2zM265 214h19v1h-19zM288 214h2v1h-2zM293 214h1v1h-1zM295 214h16v1h-16zM312 214h1v1h-1zM265 215h19v1h-19zM285 215h1v1h-1zM290 215h1v1h-1zM293 215h1v1h-1zM296 215h1v1h-1zM298 215h13v1h-13zM312 215h1v1h-1zM265 216h19v1h-19zM285 216h2v1h-2zM289 216h1v1h-1zM291 216h1v1h-1zM293 216h1v1h-1zM295 216h2v1h-2zM298 216h14v1h-14zM266 217h20v1h-20zM290 217h1v1h-1zM294 217h1v1h-1zM296 217h1v1h-1zM298 217h14v1h-14zM265 218h19v1h-19zM285 218h2v1h-2zM297 218h13v1h-13zM265 219h21v1h-21zM290 219h1v1h-1zM297 219h16v1h-16zM266 220h19v1h-19zM290 220h2v1h-2zM294 220h1v1h-1zM297 220h1v1h-1zM299 220h11v1h-11zM312 220h1v1h-1zM265 221h22v1h-22zM288 221h3v1h-3zM293 221h1v1h-1zM295 221h1v1h-1zM297 221h12v1h-12zM310 221h3v1h-3zM265 222h23v1h-23zM293 222h1v1h-1zM295 222h14v1h-14zM310 222h1v1h-1zM312 222h1v1h-1zM265 223h1v1h-1zM267 223h13v1h-13zM281 223h6v1h-6zM289 223h3v1h-3zM293 223h20v1h-20zM265 224h20v1h-20zM286 224h1v1h-1zM288 224h1v1h-1zM299 224h15v1h-15zM265 225h19v1h-19zM294 225h1v1h-1zM298 225h1v1h-1zM300 225h13v1h-13zM265 226h21v1h-21zM287 226h1v1h-1zM293 226h4v1h-4zM298 226h3v1h-3zM302 226h10v1h-10z"/>
<path fill="#404040" d="M284 188h1v1h-1zM278 190h1v1h-1zM283 191h1v1h-1zM274 195h1v1h-1zM279 197h1v1h-1zM278 198h2v1h-2zM282 198h2v1h-2zM275 199h1v1h-1zM278 199h1v1h-1zM282 199h1v1h-1zM286 199h1v1h-1zM302 199h1v1h-1zM270 200h2v1h-2zM275 200h1v1h-1zM279 200h2v1h-2zM283 200h1v1h-1zM316 200h1v1h-1zM266 201h1v1h-1zM290 201h2v1h-2zM303 201h1v1h-1zM266 202h1v1h-1zM270 202h1v1h-1zM272 202h2v1h-2zM278 202h1v1h-1zM280 202h1v1h-1zM282 202h1v1h-1zM286 202h1v1h-1zM300 202h1v1h-1zM265 203h3v1h-3zM273 203h1v1h-1zM275 203h1v1h-1zM282 203h1v1h-1zM299 203h1v1h-1zM302 203h1v1h-1zM267 204h1v1h-1zM272 204h1v1h-1zM276 204h1v1h-1zM282 204h1v1h-1zM298 204h1v1h-1zM300 204h1v1h-1zM302 204h1v1h-1zM304 204h1v1h-1zM307 204h2v1h-2zM279 205h2v1h-2zM282 205h1v1h-1zM297 205h1v1h-1zM301 205h1v1h-1zM303 205h1v1h-1zM305 205h1v1h-1zM308 205h1v1h-1zM266 206h1v1h-1zM278 206h1v1h-1zM282 206h1v1h-1zM287 206h1v1h-1zM291 206h1v1h-1zM295 206h1v1h-1zM299 206h2v1h-2zM302 206h1v1h-1zM305 206h1v1h-1zM312 206h1v1h-1zM267 207h1v1h-1zM291 207h1v1h-1zM296 207h1v1h-1zM309 207h1v1h-1zM312 207h1v1h-1zM271 208h1v1h-1zM274 208h1v1h-1zM283 208h1v1h-1zM286 208h2v1h-2zM311 208h1v1h-1zM313 208h2v1h-2zM284 209h1v1h-1zM294 209h1v1h-1zM296 209h1v1h-1zM309 209h2v1h-2zM313 209h1v1h-1zM284 210h1v1h-1zM288 210h1v1h-1zM290 210h1v1h-1zM292 210h2v1h-2zM295 210h2v1h-2zM298 210h2v1h-2zM304 210h1v1h-1zM312 210h1v1h-1zM267 211h1v1h-1zM284 211h1v1h-1zM289 211h1v1h-1zM293 211h1v1h-1zM295 211h1v1h-1zM311 211h1v1h-1zM286 212h1v1h-1zM294 212h2v1h-2zM284 213h2v1h-2zM288 213h1v1h-1zM295 213h2v1h-2zM310 213h1v1h-1zM292 214h1v1h-1zM311 214h1v1h-1zM284 215h1v1h-1zM286 215h1v1h-1zM288 215h2v1h-2zM291 215h1v1h-1zM297 215h1v1h-1zM314 215h1v1h-1zM287 216h2v1h-2zM292 216h1v1h-1zM297 216h1v1h-1zM312 216h1v1h-1zM286 217h1v1h-1zM288 217h1v1h-1zM293 217h1v1h-1zM297 217h1v1h-1zM313 217h1v1h-1zM284 218h1v1h-1zM287 218h2v1h-2zM292 218h1v1h-1zM295 218h2v1h-2zM310 218h2v1h-2zM313 218h2v1h-2zM286 219h1v1h-1zM292 219h4v1h-4zM313 219h1v1h-1zM265 220h1v1h-1zM285 220h3v1h-3zM292 220h2v1h-2zM296 220h1v1h-1zM311 220h1v1h-1zM313 220h1v1h-1zM291 221h1v1h-1zM294 221h1v1h-1zM296 221h1v1h-1zM309 221h1v1h-1zM313 221h2v1h-2zM290 222h1v1h-1zM309 222h1v1h-1zM311 222h1v1h-1zM266 223h1v1h-1zM280 223h1v1h-1zM288 223h1v1h-1zM313 223h1v1h-1zM289 224h1v1h-1zM291 224h1v1h-1zM293 224h2v1h-2zM296 224h3v1h-3zM314 224h1v1h-1zM285 225h5v1h-5zM295 225h3v1h-3zM299 225h1v1h-1zM314 225h1v1h-1zM289 226h3v1h-3zM301 226h1v1h-1zM312 226h3v1h-3z"/>
<path fill="#808080" d="M279 168h1v1h-1zM265 169h1v1h-1zM277 169h1v1h-1zM271 170h1v1h-1zM275 170h1v1h-1zM271 172h1v1h-1zM272 174h1v1h-1zM273 175h1v1h-1zM276 175h1v1h-1zM287 175h1v1h-1zM268 176h1v1h-1zM286 176h1v1h-1zM281 177h1v1h-1zM269 178h1v1h-1zM276 178h1v1h-1zM283 178h1v1h-1zM293 178h1v1h-1zM276 179h1v1h-1zM271 180h1v1h-1zM282 180h2v1h-2zM283 181h2v1h-2zM286 181h1v1h-1zM273 182h1v1h-1zM276 182h1v1h-1zM289 182h1v1h-1zM307 182h1v1h-1zM274 183h1v1h-1zM283 183h1v1h-1zM291 183h1v1h-1zM308 184h1v1h-1zM316 184h1v1h-1zM266 185h1v1h-1zM282 185h1v1h-1zM286 185h2v1h-2zM266 186h1v1h-1zM272 186h1v1h-1zM284 186h1v1h-1zM286 186h1v1h-1zM294 186h1v1h-1zM300 186h1v1h-1zM273 187h1v1h-1zM281 187h1v1h-1zM288 187h1v1h-1zM290 187h1v1h-1zM274 188h1v1h-1zM287 188h1v1h-1zM271 189h1v1h-1zM278 189h2v1h-2zM283 189h1v1h-1zM306 189h1v1h-1zM275 190h2v1h-2zM279 190h1v1h-1zM288 190h2v1h-2zM307 190h1v1h-1zM271 191h1v1h-1zM276 191h1v1h-1zM279 191h1v1h-1zM281 191h1v1h-1zM287 191h2v1h-2zM266 192h1v1h-1zM272 192h1v1h-1zM281 192h1v1h-1zM294 192h1v1h-1zM299 192h1v1h-1zM274 193h2v1h-2zM278 193h2v1h-2zM282 193h1v1h-1zM285 193h1v1h-1zM289 193h1v1h-1zM291 193h1v1h-1zM274 194h1v1h-1zM278 194h6v1h-6zM307 194h1v1h-1zM266 195h1v1h-1zM271 195h1v1h-1zM273 195h1v1h-1zM276 195h1v1h-1zM280 195h2v1h-2zM283 195h1v1h-1zM285 195h1v1h-1zM290 195h1v1h-1zM277 196h3v1h-3zM282 196h1v1h-1zM284 196h3v1h-3zM266 197h2v1h-2zM274 197h1v1h-1zM276 197h1v1h-1zM281 197h3v1h-3zM288 197h1v1h-1zM291 197h1v1h-1zM303 197h1v1h-1zM271 198h1v1h-1zM276 198h2v1h-2zM280 198h2v1h-2zM287 198h1v1h-1zM290 198h1v1h-1zM293 198h1v1h-1zM298 198h1v1h-1zM308 198h2v1h-2zM312 198h1v1h-1zM266 199h2v1h-2zM271 199h1v1h-1zM273 199h2v1h-2zM284 199h2v1h-2zM287 199h2v1h-2zM295 199h1v1h-1zM301 199h1v1h-1zM311 199h1v1h-1zM266 200h1v1h-1zM269 200h1v1h-1zM274 200h1v1h-1zM281 200h2v1h-2zM297 200h1v1h-1zM270 201h4v1h-4zM276 201h2v1h-2zM279 201h3v1h-3zM284 201h1v1h-1zM286 201h1v1h-1zM288 201h1v1h-1zM301 201h2v1h-2zM304 201h1v1h-1zM306 201h3v1h-3zM310 201h1v1h-1zM265 202h1v1h-1zM268 202h2v1h-2zM281 202h1v1h-1zM284 202h2v1h-2zM288 202h1v1h-1zM293 202h1v1h-1zM299 202h1v1h-1zM301 202h1v1h-1zM306 202h2v1h-2zM311 202h1v1h-1zM315 202h1v1h-1zM320 202h1v1h-1zM277 203h1v1h-1zM280 203h1v1h-1zM287 203h1v1h-1zM293 203h3v1h-3zM297 203h1v1h-1zM300 203h1v1h-1zM304 203h1v1h-1zM306 203h2v1h-2zM309 203h2v1h-2zM315 203h1v1h-1zM318 203h1v1h-1zM323 203h1v1h-1zM273 204h1v1h-1zM281 204h1v1h-1zM284 204h1v1h-1zM289 204h2v1h-2zM293 204h2v1h-2zM301 204h1v1h-1zM303 204h1v1h-1zM305 204h2v1h-2zM309 204h2v1h-2zM265 205h3v1h-3zM283 205h6v1h-6zM292 205h1v1h-1zM296 205h1v1h-1zM298 205h1v1h-1zM310 205h1v1h-1zM316 205h1v1h-1zM268 206h1v1h-1zM277 206h1v1h-1zM283 206h1v1h-1zM285 206h1v1h-1zM294 206h1v1h-1zM296 206h1v1h-1zM298 206h1v1h-1zM311 206h1v1h-1zM313 206h1v1h-1zM317 206h1v1h-1zM265 207h1v1h-1zM285 207h2v1h-2zM292 207h4v1h-4zM297 207h2v1h-2zM303 207h1v1h-1zM314 207h1v1h-1zM317 207h1v1h-1zM320 207h1v1h-1zM265 208h2v1h-2zM284 208h1v1h-1zM288 208h1v1h-1zM291 208h2v1h-2zM295 208h1v1h-1zM309 208h1v1h-1zM316 208h1v1h-1zM285 209h1v1h-1zM288 209h2v1h-2zM291 209h1v1h-1zM297 209h1v1h-1zM314 209h1v1h-1zM318 209h1v1h-1zM265 210h1v1h-1zM287 210h1v1h-1zM294 210h1v1h-1zM313 210h2v1h-2zM319 210h1v1h-1zM287 211h1v1h-1zM290 211h2v1h-2zM294 211h1v1h-1zM312 211h1v1h-1zM284 212h1v1h-1zM290 212h1v1h-1zM292 212h1v1h-1zM312 212h3v1h-3zM316 212h1v1h-1zM320 212h1v1h-1zM287 213h1v1h-1zM291 213h3v1h-3zM311 213h1v1h-1zM316 213h1v1h-1zM284 214h3v1h-3zM290 214h2v1h-2zM294 214h1v1h-1zM313 214h1v1h-1zM317 215h1v1h-1zM290 216h1v1h-1zM294 216h1v1h-1zM313 216h1v1h-1zM265 217h1v1h-1zM287 217h1v1h-1zM289 217h1v1h-1zM291 217h1v1h-1zM295 217h1v1h-1zM312 217h1v1h-1zM314 217h3v1h-3zM291 218h1v1h-1zM293 218h2v1h-2zM287 219h1v1h-1zM289 219h1v1h-1zM296 219h1v1h-1zM314 219h1v1h-1zM288 220h2v1h-2zM310 220h1v1h-1zM314 220h2v1h-2zM287 221h1v1h-1zM292 221h1v1h-1zM316 221h1v1h-1zM288 222h2v1h-2zM292 222h1v1h-1zM313 222h2v1h-2zM292 223h1v1h-1zM316 223h1v1h-1zM287 224h1v1h-1zM295 224h1v1h-1zM315 224h1v1h-1zM318 224h1v1h-1zM292 225h2v1h-2zM313 225h1v1h-1zM315 225h1v1h-1zM286 226h1v1h-1zM288 226h1v1h-1zM292 226h1v1h-1zM297 226h1v1h-1z"/>
<ellipse cx="300.50" cy="194.70" rx="11.90" ry="7.00" transform="rotate(-49.2 300.50 194.70)" fill="none" stroke="#1a1a1a" stroke-width="0.8"/>
<line x1="264.80" y1="166.60" x2="264.80" y2="228.60" stroke="#000" stroke-width="1.2"/>
<line x1="264.20" y1="228.00" x2="328.50" y2="228.00" stroke="#000" stroke-width="1.2"/>
<path d="M262.60 228.00h2.20M264.80 228.00v2.20M263.50 223.40h1.30M269.57 228.00v1.30M263.50 220.71h1.30M272.36 228.00v1.30M263.50 218.80h1.30M274.34 228.00v1.30M263.50 217.32h1.30M275.88 228.00v1.30M263.50 216.11h1.30M277.13 228.00v1.30M263.50 215.09h1.30M278.19 228.00v1.30M263.50 214.21h1.30M279.11 228.00v1.30M263.50 213.42h1.30M279.92 228.00v1.30M262.60 212.72h2.20M280.65 228.00v2.20M263.50 208.13h1.30M285.42 228.00v1.30M263.50 205.44h1.30M288.21 228.00v1.30M263.50 203.53h1.30M290.19 228.00v1.30M263.50 202.05h1.30M291.73 228.00v1.30M263.50 200.84h1.30M292.98 228.00v1.30M263.50 199.82h1.30M294.04 228.00v1.30M263.50 198.93h1.30M294.96 228.00v1.30M263.50 198.15h1.30M295.77 228.00v1.30M262.60 197.45h2.20M296.50 228.00v2.20M263.50 192.85h1.30M301.27 228.00v1.30M263.50 190.16h1.30M304.06 228.00v1.30M263.50 188.25h1.30M306.04 228.00v1.30M263.50 186.77h1.30M307.58 228.00v1.30M263.50 185.56h1.30M308.83 228.00v1.30M263.50 184.54h1.30M309.89 228.00v1.30M263.50 183.66h1.30M310.81 228.00v1.30M263.50 182.87h1.30M311.62 228.00v1.30M262.60 182.18h2.20M312.35 228.00v2.20M263.50 177.58h1.30M317.12 228.00v1.30M263.50 174.89h1.30M319.91 228.00v1.30M263.50 172.98h1.30M321.89 228.00v1.30M263.50 171.50h1.30M323.43 228.00v1.30M263.50 170.29h1.30M324.68 228.00v1.30M263.50 169.27h1.30M325.74 228.00v1.30M263.50 168.38h1.30M326.66 228.00v1.30M263.50 167.60h1.30M327.47 228.00v1.30M262.60 166.90h2.2M328.20 228.00v2.2" stroke="#000" stroke-width="0.7" fill="none"/>
<text x="263.15" y="235.15" font-size="4.9" font-weight="bold">10<tspan font-size="3.33" dy="-1.47">0</tspan></text>
<text x="278.50" y="235.15" font-size="4.9" font-weight="bold">10<tspan font-size="3.33" dy="-1.47">1</tspan></text>
<text x="293.85" y="235.15" font-size="4.9" font-weight="bold">10<tspan font-size="3.33" dy="-1.47">2</tspan></text>
<text x="309.20" y="235.15" font-size="4.9" font-weight="bold">10<tspan font-size="3.33" dy="-1.47">3</tspan></text>
<text x="324.55" y="235.15" font-size="4.9" font-weight="bold">10<tspan font-size="3.33" dy="-1.47">4</tspan></text>
<rect x="339.40" y="166.90" width="63.40" height="61.10" fill="none" stroke="#3a3a3a" stroke-width="0.9"/>
<line x1="362.70" y1="166.90" x2="362.70" y2="228.00" stroke="#444" stroke-width="0.9"/>
<line x1="339.40" y1="210.40" x2="402.80" y2="210.40" stroke="#444" stroke-width="0.9"/>
<path fill="#000" d="M349 200h1v1h-1zM349 201h1v1h-1zM348 202h1v1h-1zM342 203h1v1h-1zM345 204h1v1h-1zM359 204h1v1h-1zM340 205h1v1h-1zM342 205h1v1h-1zM346 205h1v1h-1zM349 205h1v1h-1zM351 205h1v1h-1zM342 206h1v1h-1zM344 206h1v1h-1zM347 206h2v1h-2zM350 206h1v1h-1zM352 206h2v1h-2zM355 206h1v1h-1zM349 207h2v1h-2zM343 208h1v1h-1zM346 208h4v1h-4zM343 209h4v1h-4zM349 209h2v1h-2zM341 210h1v1h-1zM343 210h2v1h-2zM346 210h4v1h-4zM351 210h1v1h-1zM355 210h2v1h-2zM364 210h1v1h-1zM366 210h1v1h-1zM374 210h1v1h-1zM340 211h5v1h-5zM346 211h9v1h-9zM368 211h2v1h-2zM372 211h2v1h-2zM341 212h2v1h-2zM344 212h6v1h-6zM351 212h5v1h-5zM367 212h1v1h-1zM370 212h1v1h-1zM373 212h1v1h-1zM375 212h1v1h-1zM340 213h1v1h-1zM342 213h2v1h-2zM345 213h1v1h-1zM347 213h7v1h-7zM355 213h2v1h-2zM358 213h1v1h-1zM366 213h3v1h-3zM371 213h2v1h-2zM374 213h2v1h-2zM340 214h4v1h-4zM345 214h2v1h-2zM348 214h9v1h-9zM364 214h1v1h-1zM366 214h1v1h-1zM369 214h1v1h-1zM372 214h1v1h-1zM375 214h1v1h-1zM340 215h18v1h-18zM363 215h1v1h-1zM365 215h1v1h-1zM367 215h4v1h-4zM373 215h1v1h-1zM376 215h1v1h-1zM340 216h18v1h-18zM364 216h4v1h-4zM369 216h4v1h-4zM374 216h1v1h-1zM341 217h15v1h-15zM358 217h1v1h-1zM363 217h4v1h-4zM369 217h5v1h-5zM377 217h1v1h-1zM340 218h17v1h-17zM361 218h1v1h-1zM364 218h2v1h-2zM367 218h1v1h-1zM369 218h6v1h-6zM378 218h1v1h-1zM340 219h18v1h-18zM364 219h4v1h-4zM369 219h2v1h-2zM372 219h7v1h-7zM341 220h16v1h-16zM358 220h1v1h-1zM361 220h1v1h-1zM363 220h1v1h-1zM365 220h1v1h-1zM367 220h3v1h-3zM371 220h4v1h-4zM376 220h1v1h-1zM378 220h1v1h-1zM340 221h17v1h-17zM358 221h1v1h-1zM363 221h2v1h-2zM366 221h1v1h-1zM368 221h3v1h-3zM372 221h4v1h-4zM377 221h1v1h-1zM340 222h1v1h-1zM342 222h16v1h-16zM362 222h1v1h-1zM365 222h1v1h-1zM367 222h2v1h-2zM371 222h3v1h-3zM378 222h1v1h-1zM380 222h1v1h-1zM341 223h17v1h-17zM359 223h2v1h-2zM362 223h1v1h-1zM365 223h1v1h-1zM369 223h1v1h-1zM373 223h1v1h-1zM375 223h1v1h-1zM377 223h1v1h-1zM340 224h18v1h-18zM362 224h1v1h-1zM364 224h1v1h-1zM366 224h6v1h-6zM373 224h4v1h-4zM340 225h19v1h-19zM360 225h1v1h-1zM364 225h1v1h-1zM366 225h4v1h-4zM371 225h1v1h-1zM373 225h3v1h-3zM378 225h1v1h-1zM341 226h17v1h-17zM361 226h1v1h-1zM364 226h1v1h-1zM368 226h1v1h-1zM370 226h3v1h-3zM374 226h1v1h-1z"/>
<path fill="#404040" d="M355 197h1v1h-1zM363 197h1v1h-1zM346 199h1v1h-1zM345 200h1v1h-1zM343 201h1v1h-1zM351 201h1v1h-1zM340 202h1v1h-1zM344 202h1v1h-1zM353 202h1v1h-1zM347 203h1v1h-1zM357 203h1v1h-1zM359 203h1v1h-1zM342 204h1v1h-1zM347 204h2v1h-2zM350 204h1v1h-1zM352 204h1v1h-1zM368 204h1v1h-1zM343 205h3v1h-3zM350 205h1v1h-1zM352 205h1v1h-1zM341 206h1v1h-1zM343 206h1v1h-1zM345 206h1v1h-1zM356 206h2v1h-2zM365 206h1v1h-1zM368 206h1v1h-1zM340 207h2v1h-2zM346 207h2v1h-2zM353 207h1v1h-1zM341 208h1v1h-1zM344 208h1v1h-1zM355 208h3v1h-3zM342 209h1v1h-1zM347 209h2v1h-2zM351 209h2v1h-2zM355 209h1v1h-1zM342 210h1v1h-1zM345 210h1v1h-1zM352 210h1v1h-1zM358 210h1v1h-1zM365 210h1v1h-1zM369 210h1v1h-1zM373 210h1v1h-1zM345 211h1v1h-1zM365 211h1v1h-1zM374 211h1v1h-1zM377 211h1v1h-1zM343 212h1v1h-1zM350 212h1v1h-1zM363 212h1v1h-1zM372 212h1v1h-1zM344 213h1v1h-1zM354 213h1v1h-1zM359 213h1v1h-1zM362 213h1v1h-1zM365 213h1v1h-1zM344 214h1v1h-1zM347 214h1v1h-1zM362 214h1v1h-1zM365 214h1v1h-1zM367 214h2v1h-2zM373 214h2v1h-2zM376 214h1v1h-1zM359 215h1v1h-1zM361 215h1v1h-1zM366 215h1v1h-1zM372 215h1v1h-1zM359 216h1v1h-1zM367 217h2v1h-2zM374 217h3v1h-3zM362 218h1v1h-1zM366 218h1v1h-1zM375 218h1v1h-1zM358 219h2v1h-2zM371 219h1v1h-1zM357 220h1v1h-1zM362 220h1v1h-1zM364 220h1v1h-1zM366 220h1v1h-1zM375 220h1v1h-1zM377 220h1v1h-1zM379 220h1v1h-1zM357 221h1v1h-1zM359 221h1v1h-1zM362 221h1v1h-1zM365 221h1v1h-1zM371 221h1v1h-1zM376 221h1v1h-1zM359 222h1v1h-1zM361 222h1v1h-1zM363 222h1v1h-1zM369 222h1v1h-1zM375 222h1v1h-1zM340 223h1v1h-1zM358 223h1v1h-1zM364 223h1v1h-1zM366 223h1v1h-1zM368 223h1v1h-1zM370 223h2v1h-2zM376 223h1v1h-1zM361 224h1v1h-1zM363 224h1v1h-1zM370 225h1v1h-1zM372 225h1v1h-1zM376 225h2v1h-2zM340 226h1v1h-1zM359 226h1v1h-1zM363 226h1v1h-1zM369 226h1v1h-1z"/>
<path fill="#808080" d="M376 169h1v1h-1zM372 170h1v1h-1zM375 182h1v1h-1zM341 183h1v1h-1zM348 183h1v1h-1zM355 183h1v1h-1zM367 183h1v1h-1zM350 184h1v1h-1zM353 184h1v1h-1zM350 188h1v1h-1zM358 188h1v1h-1zM379 188h1v1h-1zM366 189h1v1h-1zM379 191h1v1h-1zM354 192h1v1h-1zM356 192h1v1h-1zM357 193h1v1h-1zM351 194h1v1h-1zM355 194h1v1h-1zM377 194h1v1h-1zM347 195h1v1h-1zM351 195h1v1h-1zM353 195h1v1h-1zM356 195h1v1h-1zM375 195h1v1h-1zM382 195h1v1h-1zM348 196h1v1h-1zM354 196h2v1h-2zM358 196h1v1h-1zM367 196h1v1h-1zM375 196h1v1h-1zM379 196h1v1h-1zM346 197h1v1h-1zM348 197h1v1h-1zM360 197h1v1h-1zM362 197h1v1h-1zM365 197h2v1h-2zM368 197h1v1h-1zM370 197h1v1h-1zM379 197h1v1h-1zM384 197h1v1h-1zM342 198h1v1h-1zM344 198h2v1h-2zM348 198h1v1h-1zM351 198h2v1h-2zM354 198h1v1h-1zM360 198h2v1h-2zM369 198h1v1h-1zM371 198h1v1h-1zM341 199h1v1h-1zM347 199h1v1h-1zM353 199h2v1h-2zM379 199h1v1h-1zM340 200h1v1h-1zM343 200h2v1h-2zM347 200h1v1h-1zM351 200h1v1h-1zM370 200h1v1h-1zM374 200h2v1h-2zM342 201h1v1h-1zM344 201h3v1h-3zM356 201h3v1h-3zM369 201h1v1h-1zM341 202h3v1h-3zM345 202h2v1h-2zM350 202h1v1h-1zM352 202h1v1h-1zM355 202h2v1h-2zM359 202h1v1h-1zM368 202h2v1h-2zM340 203h2v1h-2zM344 203h1v1h-1zM346 203h1v1h-1zM349 203h1v1h-1zM353 203h1v1h-1zM355 203h2v1h-2zM358 203h1v1h-1zM362 203h1v1h-1zM366 203h1v1h-1zM369 203h1v1h-1zM371 203h1v1h-1zM343 204h1v1h-1zM346 204h1v1h-1zM349 204h1v1h-1zM354 204h1v1h-1zM341 205h1v1h-1zM347 205h2v1h-2zM357 205h1v1h-1zM359 205h1v1h-1zM365 205h1v1h-1zM374 205h1v1h-1zM340 206h1v1h-1zM349 206h1v1h-1zM351 206h1v1h-1zM342 207h1v1h-1zM345 207h1v1h-1zM348 207h1v1h-1zM354 207h3v1h-3zM373 207h1v1h-1zM378 207h1v1h-1zM342 208h1v1h-1zM345 208h1v1h-1zM350 208h5v1h-5zM358 208h1v1h-1zM364 208h2v1h-2zM367 208h1v1h-1zM371 208h1v1h-1zM373 208h2v1h-2zM340 209h2v1h-2zM353 209h1v1h-1zM356 209h1v1h-1zM359 209h1v1h-1zM361 209h1v1h-1zM365 209h1v1h-1zM367 209h2v1h-2zM370 209h1v1h-1zM372 209h1v1h-1zM374 209h3v1h-3zM350 210h1v1h-1zM357 210h1v1h-1zM359 210h1v1h-1zM361 210h1v1h-1zM363 210h1v1h-1zM367 210h1v1h-1zM371 210h2v1h-2zM376 210h1v1h-1zM378 210h1v1h-1zM355 211h2v1h-2zM358 211h2v1h-2zM363 211h2v1h-2zM367 211h1v1h-1zM371 211h1v1h-1zM375 211h1v1h-1zM340 212h1v1h-1zM356 212h1v1h-1zM358 212h1v1h-1zM360 212h1v1h-1zM362 212h1v1h-1zM364 212h3v1h-3zM369 212h1v1h-1zM371 212h1v1h-1zM374 212h1v1h-1zM376 212h2v1h-2zM341 213h1v1h-1zM346 213h1v1h-1zM357 213h1v1h-1zM361 213h1v1h-1zM363 213h1v1h-1zM369 213h2v1h-2zM373 213h1v1h-1zM377 213h1v1h-1zM358 214h2v1h-2zM361 214h1v1h-1zM363 214h1v1h-1zM370 214h2v1h-2zM377 214h1v1h-1zM379 214h1v1h-1zM358 215h1v1h-1zM362 215h1v1h-1zM371 215h1v1h-1zM374 215h2v1h-2zM358 216h1v1h-1zM360 216h2v1h-2zM363 216h1v1h-1zM368 216h1v1h-1zM373 216h1v1h-1zM375 216h3v1h-3zM340 217h1v1h-1zM356 217h2v1h-2zM360 217h3v1h-3zM378 217h1v1h-1zM357 218h3v1h-3zM363 218h1v1h-1zM368 218h1v1h-1zM360 219h1v1h-1zM363 219h1v1h-1zM368 219h1v1h-1zM370 220h1v1h-1zM361 221h1v1h-1zM367 221h1v1h-1zM378 221h2v1h-2zM382 221h1v1h-1zM341 222h1v1h-1zM358 222h1v1h-1zM360 222h1v1h-1zM364 222h1v1h-1zM366 222h1v1h-1zM370 222h1v1h-1zM374 222h1v1h-1zM361 223h1v1h-1zM367 223h1v1h-1zM374 223h1v1h-1zM378 223h1v1h-1zM358 224h1v1h-1zM377 224h1v1h-1zM379 224h2v1h-2zM359 225h1v1h-1zM361 225h1v1h-1zM365 225h1v1h-1zM379 225h2v1h-2zM358 226h1v1h-1zM365 226h3v1h-3zM375 226h1v1h-1zM378 226h1v1h-1zM380 226h1v1h-1z"/>
<ellipse cx="373.50" cy="198.10" rx="13.10" ry="8.00" transform="rotate(-55.7 373.50 198.10)" fill="none" stroke="#1a1a1a" stroke-width="0.8"/>
<line x1="339.40" y1="166.60" x2="339.40" y2="228.60" stroke="#000" stroke-width="1.2"/>
<line x1="338.80" y1="228.00" x2="403.10" y2="228.00" stroke="#000" stroke-width="1.2"/>
<path d="M337.20 228.00h2.20M339.40 228.00v2.20M338.10 223.40h1.30M344.17 228.00v1.30M338.10 220.71h1.30M346.96 228.00v1.30M338.10 218.80h1.30M348.94 228.00v1.30M338.10 217.32h1.30M350.48 228.00v1.30M338.10 216.11h1.30M351.73 228.00v1.30M338.10 215.09h1.30M352.79 228.00v1.30M338.10 214.21h1.30M353.71 228.00v1.30M338.10 213.42h1.30M354.52 228.00v1.30M337.20 212.72h2.20M355.25 228.00v2.20M338.10 208.13h1.30M360.02 228.00v1.30M338.10 205.44h1.30M362.81 228.00v1.30M338.10 203.53h1.30M364.79 228.00v1.30M338.10 202.05h1.30M366.33 228.00v1.30M338.10 200.84h1.30M367.58 228.00v1.30M338.10 199.82h1.30M368.64 228.00v1.30M338.10 198.93h1.30M369.56 228.00v1.30M338.10 198.15h1.30M370.37 228.00v1.30M337.20 197.45h2.20M371.10 228.00v2.20M338.10 192.85h1.30M375.87 228.00v1.30M338.10 190.16h1.30M378.66 228.00v1.30M338.10 188.25h1.30M380.64 228.00v1.30M338.10 186.77h1.30M382.18 228.00v1.30M338.10 185.56h1.30M383.43 228.00v1.30M338.10 184.54h1.30M384.49 228.00v1.30M338.10 183.66h1.30M385.41 228.00v1.30M338.10 182.87h1.30M386.22 228.00v1.30M337.20 182.18h2.20M386.95 228.00v2.20M338.10 177.58h1.30M391.72 228.00v1.30M338.10 174.89h1.30M394.51 228.00v1.30M338.10 172.98h1.30M396.49 228.00v1.30M338.10 171.50h1.30M398.03 228.00v1.30M338.10 170.29h1.30M399.28 228.00v1.30M338.10 169.27h1.30M400.34 228.00v1.30M338.10 168.38h1.30M401.26 228.00v1.30M338.10 167.60h1.30M402.07 228.00v1.30M337.20 166.90h2.2M402.80 228.00v2.2" stroke="#000" stroke-width="0.7" fill="none"/>
<text x="337.75" y="235.15" font-size="4.9" font-weight="bold">10<tspan font-size="3.33" dy="-1.47">0</tspan></text>
<text x="353.10" y="235.15" font-size="4.9" font-weight="bold">10<tspan font-size="3.33" dy="-1.47">1</tspan></text>
<text x="368.45" y="235.15" font-size="4.9" font-weight="bold">10<tspan font-size="3.33" dy="-1.47">2</tspan></text>
<text x="383.80" y="235.15" font-size="4.9" font-weight="bold">10<tspan font-size="3.33" dy="-1.47">3</tspan></text>
<text x="399.15" y="235.15" font-size="4.9" font-weight="bold">10<tspan font-size="3.33" dy="-1.47">4</tspan></text>
<rect x="448.70" y="166.90" width="66.00" height="61.10" fill="none" stroke="#3a3a3a" stroke-width="0.9"/>
<line x1="482.40" y1="166.90" x2="482.40" y2="228.00" stroke="#444" stroke-width="0.9"/>
<line x1="448.70" y1="208.80" x2="514.70" y2="208.80" stroke="#444" stroke-width="0.9"/>
<path fill="#000" d="M496 193h1v1h-1zM493 196h3v1h-3zM492 197h2v1h-2zM495 197h1v1h-1zM497 197h1v1h-1zM491 198h5v1h-5zM498 198h1v1h-1zM491 199h1v1h-1zM493 199h2v1h-2zM496 199h2v1h-2zM491 200h1v1h-1zM494 200h3v1h-3zM493 201h1v1h-1zM497 201h1v1h-1zM488 209h1v1h-1zM490 211h1v1h-1zM489 213h3v1h-3zM493 213h2v1h-2zM489 214h5v1h-5zM488 215h6v1h-6zM495 215h1v1h-1zM488 216h6v1h-6zM489 217h5v1h-5zM486 218h3v1h-3zM490 218h1v1h-1zM492 218h3v1h-3zM486 219h1v1h-1zM488 219h6v1h-6zM497 219h1v1h-1zM486 220h6v1h-6zM493 220h4v1h-4zM488 221h11v1h-11zM486 222h2v1h-2zM489 222h2v1h-2zM492 222h3v1h-3zM498 222h1v1h-1zM485 223h10v1h-10zM496 223h2v1h-2zM486 224h1v1h-1zM488 224h11v1h-11zM488 225h1v1h-1zM490 225h5v1h-5zM496 225h2v1h-2zM487 226h3v1h-3zM492 226h4v1h-4zM498 226h1v1h-1z"/>
<path fill="#404040" d="M494 191h1v1h-1zM492 194h1v1h-1zM494 194h1v1h-1zM496 194h2v1h-2zM497 195h2v1h-2zM489 196h1v1h-1zM491 196h1v1h-1zM498 196h1v1h-1zM490 197h2v1h-2zM494 197h1v1h-1zM496 197h1v1h-1zM495 199h1v1h-1zM487 200h1v1h-1zM489 200h2v1h-2zM491 201h1v1h-1zM495 201h1v1h-1zM494 202h2v1h-2zM493 203h1v1h-1zM487 207h1v1h-1zM492 207h1v1h-1zM486 211h1v1h-1zM488 211h1v1h-1zM492 211h1v1h-1zM496 211h1v1h-1zM487 212h2v1h-2zM490 212h1v1h-1zM492 212h1v1h-1zM494 212h1v1h-1zM486 213h1v1h-1zM492 213h1v1h-1zM495 213h1v1h-1zM484 214h1v1h-1zM494 214h2v1h-2zM487 215h1v1h-1zM494 215h1v1h-1zM497 215h1v1h-1zM485 216h1v1h-1zM496 216h1v1h-1zM498 216h1v1h-1zM486 217h3v1h-3zM494 217h1v1h-1zM485 218h1v1h-1zM491 218h1v1h-1zM496 218h1v1h-1zM453 219h1v1h-1zM494 219h3v1h-3zM492 220h1v1h-1zM486 221h2v1h-2zM470 222h1v1h-1zM491 222h1v1h-1zM495 222h1v1h-1zM472 223h1v1h-1zM498 223h1v1h-1zM485 224h1v1h-1zM487 224h1v1h-1zM485 225h1v1h-1zM487 225h1v1h-1zM495 225h1v1h-1zM486 226h1v1h-1zM490 226h2v1h-2zM497 226h1v1h-1z"/>
<path fill="#808080" d="M500 185h1v1h-1zM504 186h1v1h-1zM493 187h1v1h-1zM464 188h1v1h-1zM493 188h1v1h-1zM496 188h1v1h-1zM497 189h1v1h-1zM488 191h1v1h-1zM491 191h1v1h-1zM493 191h1v1h-1zM488 192h1v1h-1zM493 192h1v1h-1zM495 192h2v1h-2zM501 192h1v1h-1zM505 192h1v1h-1zM494 193h1v1h-1zM497 193h1v1h-1zM493 194h1v1h-1zM500 194h1v1h-1zM487 195h1v1h-1zM491 195h4v1h-4zM484 196h1v1h-1zM490 196h1v1h-1zM492 196h1v1h-1zM496 196h1v1h-1zM500 196h1v1h-1zM489 197h1v1h-1zM498 197h1v1h-1zM500 197h1v1h-1zM486 198h1v1h-1zM490 198h1v1h-1zM496 198h2v1h-2zM499 198h1v1h-1zM482 199h1v1h-1zM487 199h1v1h-1zM489 199h2v1h-2zM501 199h1v1h-1zM492 200h2v1h-2zM500 200h1v1h-1zM483 201h1v1h-1zM487 201h1v1h-1zM489 201h1v1h-1zM492 201h1v1h-1zM494 201h1v1h-1zM496 201h1v1h-1zM504 201h1v1h-1zM487 202h1v1h-1zM489 202h2v1h-2zM492 202h1v1h-1zM496 202h2v1h-2zM482 203h1v1h-1zM488 203h1v1h-1zM492 203h1v1h-1zM482 204h1v1h-1zM484 204h1v1h-1zM495 204h1v1h-1zM500 204h2v1h-2zM481 205h1v1h-1zM484 205h1v1h-1zM493 205h1v1h-1zM495 205h1v1h-1zM510 205h1v1h-1zM493 206h3v1h-3zM501 206h1v1h-1zM458 207h1v1h-1zM489 207h1v1h-1zM499 207h1v1h-1zM487 208h1v1h-1zM493 209h1v1h-1zM450 210h1v1h-1zM487 210h1v1h-1zM489 210h1v1h-1zM492 210h1v1h-1zM495 210h1v1h-1zM494 211h1v1h-1zM458 212h1v1h-1zM468 212h1v1h-1zM484 212h2v1h-2zM491 212h1v1h-1zM493 212h1v1h-1zM496 212h1v1h-1zM499 212h1v1h-1zM487 213h2v1h-2zM463 214h1v1h-1zM474 214h1v1h-1zM486 214h3v1h-3zM497 214h1v1h-1zM460 215h1v1h-1zM478 215h1v1h-1zM484 215h1v1h-1zM486 215h1v1h-1zM498 215h1v1h-1zM500 215h1v1h-1zM464 216h1v1h-1zM476 216h1v1h-1zM486 216h1v1h-1zM494 216h2v1h-2zM497 216h1v1h-1zM462 217h1v1h-1zM464 217h1v1h-1zM467 217h1v1h-1zM485 217h1v1h-1zM495 217h4v1h-4zM449 218h1v1h-1zM469 218h1v1h-1zM495 218h1v1h-1zM497 218h3v1h-3zM450 219h1v1h-1zM452 219h1v1h-1zM455 219h1v1h-1zM470 219h1v1h-1zM483 219h1v1h-1zM485 219h1v1h-1zM487 219h1v1h-1zM453 220h1v1h-1zM460 220h1v1h-1zM463 220h1v1h-1zM467 220h1v1h-1zM481 220h1v1h-1zM497 220h4v1h-4zM467 221h1v1h-1zM474 221h2v1h-2zM483 221h2v1h-2zM473 222h1v1h-1zM475 222h1v1h-1zM478 222h1v1h-1zM485 222h1v1h-1zM488 222h1v1h-1zM496 222h2v1h-2zM500 222h1v1h-1zM513 222h1v1h-1zM449 223h2v1h-2zM464 223h1v1h-1zM468 223h1v1h-1zM495 223h1v1h-1zM502 223h1v1h-1zM450 224h1v1h-1zM454 224h1v1h-1zM473 224h1v1h-1zM483 224h1v1h-1zM486 225h1v1h-1zM489 225h1v1h-1zM498 225h2v1h-2zM484 226h2v1h-2zM496 226h1v1h-1z"/>
<ellipse cx="493.20" cy="197.15" rx="13.30" ry="8.10" transform="rotate(-44 493.20 197.15)" fill="none" stroke="#1a1a1a" stroke-width="0.8"/>
<line x1="448.70" y1="166.60" x2="448.70" y2="228.60" stroke="#000" stroke-width="1.2"/>
<line x1="448.10" y1="228.00" x2="515.00" y2="228.00" stroke="#000" stroke-width="1.2"/>
<path d="M446.50 228.00h2.20M448.70 228.00v2.20M447.40 223.40h1.30M453.67 228.00v1.30M447.40 220.71h1.30M456.57 228.00v1.30M447.40 218.80h1.30M458.63 228.00v1.30M447.40 217.32h1.30M460.23 228.00v1.30M447.40 216.11h1.30M461.54 228.00v1.30M447.40 215.09h1.30M462.64 228.00v1.30M447.40 214.21h1.30M463.60 228.00v1.30M447.40 213.42h1.30M464.45 228.00v1.30M446.50 212.72h2.20M465.20 228.00v2.20M447.40 208.13h1.30M470.17 228.00v1.30M447.40 205.44h1.30M473.07 228.00v1.30M447.40 203.53h1.30M475.13 228.00v1.30M447.40 202.05h1.30M476.73 228.00v1.30M447.40 200.84h1.30M478.04 228.00v1.30M447.40 199.82h1.30M479.14 228.00v1.30M447.40 198.93h1.30M480.10 228.00v1.30M447.40 198.15h1.30M480.95 228.00v1.30M446.50 197.45h2.20M481.70 228.00v2.20M447.40 192.85h1.30M486.67 228.00v1.30M447.40 190.16h1.30M489.57 228.00v1.30M447.40 188.25h1.30M491.63 228.00v1.30M447.40 186.77h1.30M493.23 228.00v1.30M447.40 185.56h1.30M494.54 228.00v1.30M447.40 184.54h1.30M495.64 228.00v1.30M447.40 183.66h1.30M496.60 228.00v1.30M447.40 182.87h1.30M497.45 228.00v1.30M446.50 182.18h2.20M498.20 228.00v2.20M447.40 177.58h1.30M503.17 228.00v1.30M447.40 174.89h1.30M506.07 228.00v1.30M447.40 172.98h1.30M508.13 228.00v1.30M447.40 171.50h1.30M509.73 228.00v1.30M447.40 170.29h1.30M511.04 228.00v1.30M447.40 169.27h1.30M512.14 228.00v1.30M447.40 168.38h1.30M513.10 228.00v1.30M447.40 167.60h1.30M513.95 228.00v1.30M446.50 166.90h2.2M514.70 228.00v2.2" stroke="#000" stroke-width="0.7" fill="none"/>
<text x="447.05" y="235.15" font-size="4.9" font-weight="bold">10<tspan font-size="3.33" dy="-1.47">0</tspan></text>
<text x="442.00" y="225.30" font-size="4.9" font-weight="bold" transform="rotate(-90 445.65 225.30)">10<tspan font-size="3.33" dy="-1.47">0</tspan></text>
<text x="463.05" y="235.15" font-size="4.9" font-weight="bold">10<tspan font-size="3.33" dy="-1.47">1</tspan></text>
<text x="442.00" y="210.83" font-size="4.9" font-weight="bold" transform="rotate(-90 445.65 210.83)">10<tspan font-size="3.33" dy="-1.47">1</tspan></text>
<text x="479.05" y="235.15" font-size="4.9" font-weight="bold">10<tspan font-size="3.33" dy="-1.47">2</tspan></text>
<text x="442.00" y="196.35" font-size="4.9" font-weight="bold" transform="rotate(-90 445.65 196.35)">10<tspan font-size="3.33" dy="-1.47">2</tspan></text>
<text x="495.05" y="235.15" font-size="4.9" font-weight="bold">10<tspan font-size="3.33" dy="-1.47">3</tspan></text>
<text x="442.00" y="181.88" font-size="4.9" font-weight="bold" transform="rotate(-90 445.65 181.88)">10<tspan font-size="3.33" dy="-1.47">3</tspan></text>
<text x="511.05" y="235.15" font-size="4.9" font-weight="bold">10<tspan font-size="3.33" dy="-1.47">4</tspan></text>
<text x="442.00" y="167.40" font-size="4.9" font-weight="bold" transform="rotate(-90 445.65 167.40)">10<tspan font-size="3.33" dy="-1.47">4</tspan></text>
<rect x="190.10" y="245.00" width="62.50" height="61.10" fill="none" stroke="#3a3a3a" stroke-width="0.9"/>
<line x1="213.20" y1="245.00" x2="213.20" y2="306.10" stroke="#444" stroke-width="0.9"/>
<line x1="190.10" y1="288.70" x2="252.60" y2="288.70" stroke="#444" stroke-width="0.9"/>
<path fill="#000" d="M227 271h1v1h-1zM220 272h1v1h-1zM222 272h1v1h-1zM222 273h1v1h-1zM224 273h1v1h-1zM221 274h1v1h-1zM223 274h2v1h-2zM218 275h2v1h-2zM222 275h1v1h-1zM225 275h2v1h-2zM221 276h2v1h-2zM224 276h2v1h-2zM228 276h1v1h-1zM223 277h2v1h-2zM226 277h1v1h-1zM218 278h1v1h-1zM221 278h6v1h-6zM221 279h5v1h-5zM216 280h1v1h-1zM221 280h5v1h-5zM216 281h1v1h-1zM219 281h1v1h-1zM221 281h1v1h-1zM223 281h2v1h-2zM217 282h1v1h-1zM220 282h3v1h-3zM218 283h3v1h-3zM222 283h1v1h-1zM221 284h1v1h-1zM224 284h1v1h-1zM218 285h1v1h-1zM197 286h1v1h-1zM194 288h2v1h-2zM202 288h1v1h-1zM205 288h1v1h-1zM222 288h1v1h-1zM191 289h1v1h-1zM193 289h4v1h-4zM199 289h2v1h-2zM203 289h4v1h-4zM214 289h1v1h-1zM220 289h1v1h-1zM192 290h4v1h-4zM198 290h3v1h-3zM202 290h5v1h-5zM208 290h1v1h-1zM192 291h7v1h-7zM200 291h3v1h-3zM204 291h2v1h-2zM207 291h1v1h-1zM221 291h1v1h-1zM227 291h2v1h-2zM230 291h1v1h-1zM191 292h4v1h-4zM196 292h11v1h-11zM208 292h2v1h-2zM218 292h2v1h-2zM222 292h1v1h-1zM224 292h1v1h-1zM226 292h1v1h-1zM229 292h1v1h-1zM193 293h4v1h-4zM198 293h8v1h-8zM208 293h1v1h-1zM210 293h1v1h-1zM215 293h1v1h-1zM219 293h1v1h-1zM221 293h11v1h-11zM191 294h19v1h-19zM212 294h3v1h-3zM216 294h1v1h-1zM218 294h1v1h-1zM220 294h10v1h-10zM231 294h1v1h-1zM191 295h18v1h-18zM210 295h4v1h-4zM215 295h1v1h-1zM219 295h12v1h-12zM191 296h19v1h-19zM215 296h2v1h-2zM218 296h11v1h-11zM230 296h2v1h-2zM191 297h19v1h-19zM211 297h2v1h-2zM218 297h14v1h-14zM191 298h17v1h-17zM209 298h2v1h-2zM215 298h1v1h-1zM218 298h14v1h-14zM191 299h1v1h-1zM193 299h15v1h-15zM209 299h1v1h-1zM213 299h1v1h-1zM215 299h1v1h-1zM218 299h13v1h-13zM232 299h1v1h-1zM191 300h16v1h-16zM208 300h2v1h-2zM211 300h1v1h-1zM213 300h1v1h-1zM215 300h1v1h-1zM217 300h1v1h-1zM219 300h13v1h-13zM191 301h14v1h-14zM206 301h2v1h-2zM209 301h1v1h-1zM211 301h1v1h-1zM213 301h2v1h-2zM220 301h11v1h-11zM232 301h1v1h-1zM191 302h15v1h-15zM207 302h1v1h-1zM211 302h1v1h-1zM216 302h1v1h-1zM218 302h13v1h-13zM191 303h20v1h-20zM216 303h4v1h-4zM221 303h9v1h-9zM231 303h1v1h-1zM233 303h1v1h-1zM192 304h18v1h-18zM215 304h1v1h-1zM219 304h13v1h-13zM192 305h19v1h-19zM212 305h1v1h-1zM214 305h1v1h-1zM217 305h13v1h-13zM231 305h2v1h-2z"/>
<path fill="#404040" d="M221 271h1v1h-1zM226 271h1v1h-1zM225 272h1v1h-1zM228 273h1v1h-1zM222 274h1v1h-1zM226 274h1v1h-1zM220 275h1v1h-1zM224 275h1v1h-1zM227 275h2v1h-2zM220 276h1v1h-1zM223 276h1v1h-1zM229 276h1v1h-1zM232 276h1v1h-1zM221 277h2v1h-2zM228 277h1v1h-1zM230 277h1v1h-1zM219 278h2v1h-2zM227 278h1v1h-1zM217 279h2v1h-2zM226 279h2v1h-2zM219 280h1v1h-1zM226 280h1v1h-1zM222 281h1v1h-1zM225 281h1v1h-1zM219 282h1v1h-1zM224 282h1v1h-1zM227 282h1v1h-1zM217 283h1v1h-1zM221 283h1v1h-1zM222 284h1v1h-1zM210 285h1v1h-1zM219 285h1v1h-1zM226 285h1v1h-1zM195 286h1v1h-1zM201 286h1v1h-1zM214 286h1v1h-1zM219 286h1v1h-1zM222 286h1v1h-1zM195 287h1v1h-1zM199 287h1v1h-1zM221 287h1v1h-1zM191 288h2v1h-2zM197 288h2v1h-2zM201 288h1v1h-1zM216 288h1v1h-1zM218 288h1v1h-1zM192 289h1v1h-1zM197 289h2v1h-2zM216 289h1v1h-1zM218 289h1v1h-1zM222 289h1v1h-1zM226 289h1v1h-1zM207 290h1v1h-1zM210 290h2v1h-2zM216 290h1v1h-1zM223 290h1v1h-1zM225 290h3v1h-3zM229 290h2v1h-2zM191 291h1v1h-1zM199 291h1v1h-1zM203 291h1v1h-1zM206 291h1v1h-1zM213 291h1v1h-1zM223 291h4v1h-4zM229 291h1v1h-1zM195 292h1v1h-1zM207 292h1v1h-1zM210 292h1v1h-1zM214 292h2v1h-2zM221 292h1v1h-1zM225 292h1v1h-1zM227 292h1v1h-1zM231 292h1v1h-1zM191 293h1v1h-1zM207 293h1v1h-1zM209 293h1v1h-1zM211 293h1v1h-1zM213 293h2v1h-2zM218 293h1v1h-1zM220 293h1v1h-1zM232 293h1v1h-1zM210 294h1v1h-1zM217 294h1v1h-1zM230 294h1v1h-1zM209 295h1v1h-1zM216 295h1v1h-1zM218 295h1v1h-1zM231 295h1v1h-1zM210 296h3v1h-3zM229 296h1v1h-1zM210 297h1v1h-1zM215 297h1v1h-1zM217 297h1v1h-1zM232 297h1v1h-1zM211 298h1v1h-1zM214 298h1v1h-1zM216 298h1v1h-1zM232 298h2v1h-2zM192 299h1v1h-1zM211 299h2v1h-2zM216 299h2v1h-2zM233 299h1v1h-1zM207 300h1v1h-1zM212 300h1v1h-1zM214 300h1v1h-1zM216 300h1v1h-1zM205 301h1v1h-1zM208 301h1v1h-1zM212 301h1v1h-1zM234 301h1v1h-1zM206 302h1v1h-1zM209 302h2v1h-2zM212 302h2v1h-2zM215 302h1v1h-1zM232 302h1v1h-1zM220 303h1v1h-1zM230 303h1v1h-1zM232 303h1v1h-1zM217 304h2v1h-2zM232 304h2v1h-2zM191 305h1v1h-1zM213 305h1v1h-1zM230 305h1v1h-1z"/>
<path fill="#808080" d="M197 246h1v1h-1zM203 250h1v1h-1zM203 251h1v1h-1zM196 257h1v1h-1zM199 257h1v1h-1zM215 260h1v1h-1zM210 261h1v1h-1zM225 261h1v1h-1zM203 262h1v1h-1zM195 264h1v1h-1zM197 264h1v1h-1zM207 264h1v1h-1zM223 264h1v1h-1zM222 265h1v1h-1zM201 266h1v1h-1zM207 267h1v1h-1zM209 267h1v1h-1zM224 267h1v1h-1zM242 267h1v1h-1zM213 268h1v1h-1zM223 268h2v1h-2zM226 268h1v1h-1zM198 269h1v1h-1zM216 269h1v1h-1zM226 269h1v1h-1zM230 269h1v1h-1zM233 269h1v1h-1zM219 270h1v1h-1zM221 270h1v1h-1zM223 270h3v1h-3zM229 270h1v1h-1zM222 271h1v1h-1zM228 271h3v1h-3zM214 272h3v1h-3zM224 272h1v1h-1zM227 272h1v1h-1zM234 272h1v1h-1zM214 273h1v1h-1zM218 273h1v1h-1zM225 273h2v1h-2zM231 273h1v1h-1zM234 273h1v1h-1zM216 274h3v1h-3zM220 274h1v1h-1zM225 274h1v1h-1zM228 274h1v1h-1zM231 274h1v1h-1zM233 274h1v1h-1zM217 275h1v1h-1zM221 275h1v1h-1zM229 275h2v1h-2zM197 276h1v1h-1zM215 276h2v1h-2zM218 276h2v1h-2zM226 276h1v1h-1zM230 276h1v1h-1zM216 277h3v1h-3zM220 277h1v1h-1zM225 277h1v1h-1zM227 277h1v1h-1zM214 278h2v1h-2zM217 278h1v1h-1zM228 278h3v1h-3zM199 279h1v1h-1zM219 279h1v1h-1zM230 279h1v1h-1zM191 280h1v1h-1zM202 280h1v1h-1zM215 280h1v1h-1zM218 280h1v1h-1zM220 280h1v1h-1zM227 280h2v1h-2zM230 280h1v1h-1zM235 280h1v1h-1zM214 281h2v1h-2zM217 281h2v1h-2zM220 281h1v1h-1zM226 281h1v1h-1zM212 282h1v1h-1zM214 282h1v1h-1zM216 282h1v1h-1zM218 282h1v1h-1zM223 282h1v1h-1zM225 282h2v1h-2zM229 282h1v1h-1zM206 283h1v1h-1zM212 283h4v1h-4zM225 283h2v1h-2zM230 283h1v1h-1zM192 284h2v1h-2zM200 284h1v1h-1zM207 284h1v1h-1zM213 284h1v1h-1zM215 284h3v1h-3zM219 284h2v1h-2zM223 284h1v1h-1zM225 284h1v1h-1zM192 285h1v1h-1zM197 285h1v1h-1zM202 285h1v1h-1zM209 285h1v1h-1zM216 285h2v1h-2zM220 285h5v1h-5zM191 286h1v1h-1zM198 286h2v1h-2zM202 286h3v1h-3zM215 286h3v1h-3zM220 286h2v1h-2zM223 286h1v1h-1zM196 287h1v1h-1zM204 287h2v1h-2zM209 287h1v1h-1zM216 287h1v1h-1zM218 287h3v1h-3zM222 287h1v1h-1zM200 288h1v1h-1zM203 288h2v1h-2zM206 288h1v1h-1zM208 288h2v1h-2zM211 288h2v1h-2zM215 288h1v1h-1zM220 288h1v1h-1zM226 288h3v1h-3zM201 289h2v1h-2zM212 289h2v1h-2zM215 289h1v1h-1zM217 289h1v1h-1zM221 289h1v1h-1zM223 289h1v1h-1zM227 289h2v1h-2zM234 289h1v1h-1zM191 290h1v1h-1zM196 290h2v1h-2zM201 290h1v1h-1zM209 290h1v1h-1zM212 290h1v1h-1zM214 290h1v1h-1zM217 290h1v1h-1zM219 290h3v1h-3zM228 290h1v1h-1zM231 290h1v1h-1zM233 290h1v1h-1zM210 291h1v1h-1zM216 291h5v1h-5zM222 291h1v1h-1zM212 292h1v1h-1zM220 292h1v1h-1zM192 293h1v1h-1zM197 293h1v1h-1zM206 293h1v1h-1zM212 293h1v1h-1zM216 293h1v1h-1zM233 293h1v1h-1zM235 293h1v1h-1zM215 294h1v1h-1zM219 294h1v1h-1zM217 295h1v1h-1zM232 295h1v1h-1zM213 296h2v1h-2zM217 296h1v1h-1zM233 296h2v1h-2zM236 296h1v1h-1zM213 297h2v1h-2zM216 297h1v1h-1zM208 298h1v1h-1zM213 298h1v1h-1zM217 298h1v1h-1zM234 298h1v1h-1zM208 299h1v1h-1zM231 299h1v1h-1zM210 300h1v1h-1zM218 300h1v1h-1zM232 300h2v1h-2zM238 300h1v1h-1zM210 301h1v1h-1zM215 301h2v1h-2zM219 301h1v1h-1zM231 301h1v1h-1zM208 302h1v1h-1zM214 302h1v1h-1zM217 302h1v1h-1zM231 302h1v1h-1zM234 302h1v1h-1zM211 303h4v1h-4zM235 303h1v1h-1zM210 304h1v1h-1zM212 304h2v1h-2zM234 304h1v1h-1zM211 305h1v1h-1zM215 305h1v1h-1zM233 305h2v1h-2z"/>
<ellipse cx="224.00" cy="276.50" rx="13.10" ry="7.70" transform="rotate(-51 224.00 276.50)" fill="none" stroke="#1a1a1a" stroke-width="0.8"/>
<line x1="190.10" y1="244.70" x2="190.10" y2="306.70" stroke="#000" stroke-width="1.2"/>
<line x1="189.50" y1="306.10" x2="252.90" y2="306.10" stroke="#000" stroke-width="1.2"/>
<path d="M187.90 306.10h2.20M190.10 306.10v2.20M188.80 301.50h1.30M194.80 306.10v1.30M188.80 298.81h1.30M197.56 306.10v1.30M188.80 296.90h1.30M199.51 306.10v1.30M188.80 295.42h1.30M201.02 306.10v1.30M188.80 294.21h1.30M202.26 306.10v1.30M188.80 293.19h1.30M203.30 306.10v1.30M188.80 292.31h1.30M204.21 306.10v1.30M188.80 291.52h1.30M205.01 306.10v1.30M187.90 290.83h2.20M205.72 306.10v2.20M188.80 286.23h1.30M210.43 306.10v1.30M188.80 283.54h1.30M213.18 306.10v1.30M188.80 281.63h1.30M215.13 306.10v1.30M188.80 280.15h1.30M216.65 306.10v1.30M188.80 278.94h1.30M217.88 306.10v1.30M188.80 277.92h1.30M218.93 306.10v1.30M188.80 277.03h1.30M219.84 306.10v1.30M188.80 276.25h1.30M220.64 306.10v1.30M187.90 275.55h2.20M221.35 306.10v2.20M188.80 270.95h1.30M226.05 306.10v1.30M188.80 268.26h1.30M228.81 306.10v1.30M188.80 266.35h1.30M230.76 306.10v1.30M188.80 264.87h1.30M232.27 306.10v1.30M188.80 263.66h1.30M233.51 306.10v1.30M188.80 262.64h1.30M234.55 306.10v1.30M188.80 261.76h1.30M235.46 306.10v1.30M188.80 260.97h1.30M236.26 306.10v1.30M187.90 260.28h2.20M236.97 306.10v2.20M188.80 255.68h1.30M241.68 306.10v1.30M188.80 252.99h1.30M244.43 306.10v1.30M188.80 251.08h1.30M246.38 306.10v1.30M188.80 249.60h1.30M247.90 306.10v1.30M188.80 248.39h1.30M249.13 306.10v1.30M188.80 247.37h1.30M250.18 306.10v1.30M188.80 246.48h1.30M251.09 306.10v1.30M188.80 245.70h1.30M251.89 306.10v1.30M187.90 245.00h2.2M252.60 306.10v2.2" stroke="#000" stroke-width="0.7" fill="none"/>
<text x="188.45" y="313.25" font-size="4.9" font-weight="bold">10<tspan font-size="3.33" dy="-1.47">0</tspan></text>
<text x="183.40" y="303.40" font-size="4.9" font-weight="bold" transform="rotate(-90 187.05 303.40)">10<tspan font-size="3.33" dy="-1.47">0</tspan></text>
<text x="203.57" y="313.25" font-size="4.9" font-weight="bold">10<tspan font-size="3.33" dy="-1.47">1</tspan></text>
<text x="183.40" y="288.93" font-size="4.9" font-weight="bold" transform="rotate(-90 187.05 288.93)">10<tspan font-size="3.33" dy="-1.47">1</tspan></text>
<text x="218.70" y="313.25" font-size="4.9" font-weight="bold">10<tspan font-size="3.33" dy="-1.47">2</tspan></text>
<text x="183.40" y="274.45" font-size="4.9" font-weight="bold" transform="rotate(-90 187.05 274.45)">10<tspan font-size="3.33" dy="-1.47">2</tspan></text>
<text x="233.82" y="313.25" font-size="4.9" font-weight="bold">10<tspan font-size="3.33" dy="-1.47">3</tspan></text>
<text x="183.40" y="259.98" font-size="4.9" font-weight="bold" transform="rotate(-90 187.05 259.98)">10<tspan font-size="3.33" dy="-1.47">3</tspan></text>
<text x="248.95" y="313.25" font-size="4.9" font-weight="bold">10<tspan font-size="3.33" dy="-1.47">4</tspan></text>
<text x="183.40" y="245.50" font-size="4.9" font-weight="bold" transform="rotate(-90 187.05 245.50)">10<tspan font-size="3.33" dy="-1.47">4</tspan></text>
<rect x="264.80" y="245.00" width="63.40" height="61.10" fill="none" stroke="#3a3a3a" stroke-width="0.9"/>
<line x1="287.60" y1="245.00" x2="287.60" y2="306.10" stroke="#444" stroke-width="0.9"/>
<line x1="264.80" y1="288.30" x2="328.20" y2="288.30" stroke="#444" stroke-width="0.9"/>
<path fill="#000" d="M276 283h1v1h-1zM300 283h1v1h-1zM271 284h1v1h-1zM273 284h1v1h-1zM276 284h1v1h-1zM287 284h1v1h-1zM298 284h2v1h-2zM268 285h3v1h-3zM272 285h1v1h-1zM275 285h3v1h-3zM285 285h1v1h-1zM299 285h2v1h-2zM267 286h2v1h-2zM270 286h1v1h-1zM272 286h3v1h-3zM276 286h5v1h-5zM283 286h1v1h-1zM297 286h1v1h-1zM300 286h1v1h-1zM303 286h1v1h-1zM305 286h1v1h-1zM266 287h9v1h-9zM276 287h6v1h-6zM284 287h2v1h-2zM293 287h3v1h-3zM297 287h7v1h-7zM305 287h3v1h-3zM265 288h1v1h-1zM267 288h15v1h-15zM288 288h1v1h-1zM297 288h5v1h-5zM303 288h5v1h-5zM265 289h2v1h-2zM268 289h2v1h-2zM271 289h11v1h-11zM285 289h2v1h-2zM288 289h1v1h-1zM291 289h2v1h-2zM296 289h11v1h-11zM308 289h1v1h-1zM265 290h17v1h-17zM283 290h1v1h-1zM295 290h13v1h-13zM266 291h17v1h-17zM286 291h1v1h-1zM289 291h1v1h-1zM291 291h1v1h-1zM295 291h13v1h-13zM309 291h1v1h-1zM265 292h18v1h-18zM285 292h1v1h-1zM287 292h1v1h-1zM289 292h4v1h-4zM294 292h16v1h-16zM266 293h15v1h-15zM288 293h1v1h-1zM292 293h15v1h-15zM308 293h2v1h-2zM265 294h18v1h-18zM295 294h13v1h-13zM265 295h20v1h-20zM286 295h2v1h-2zM293 295h1v1h-1zM295 295h14v1h-14zM265 296h17v1h-17zM284 296h2v1h-2zM288 296h1v1h-1zM290 296h3v1h-3zM295 296h13v1h-13zM265 297h18v1h-18zM290 297h2v1h-2zM294 297h2v1h-2zM297 297h11v1h-11zM309 297h1v1h-1zM265 298h19v1h-19zM288 298h1v1h-1zM290 298h1v1h-1zM293 298h1v1h-1zM295 298h15v1h-15zM265 299h18v1h-18zM284 299h1v1h-1zM293 299h16v1h-16zM265 300h21v1h-21zM287 300h1v1h-1zM290 300h1v1h-1zM294 300h1v1h-1zM296 300h13v1h-13zM265 301h18v1h-18zM284 301h1v1h-1zM286 301h1v1h-1zM293 301h1v1h-1zM295 301h16v1h-16zM265 302h18v1h-18zM290 302h1v1h-1zM293 302h14v1h-14zM308 302h2v1h-2zM265 303h1v1h-1zM267 303h16v1h-16zM284 303h2v1h-2zM290 303h2v1h-2zM295 303h14v1h-14zM265 304h19v1h-19zM285 304h1v1h-1zM295 304h2v1h-2zM298 304h10v1h-10zM309 304h1v1h-1zM265 305h15v1h-15zM281 305h2v1h-2zM284 305h1v1h-1zM288 305h1v1h-1zM291 305h1v1h-1zM294 305h2v1h-2zM297 305h10v1h-10z"/>
<path fill="#404040" d="M266 282h1v1h-1zM272 282h1v1h-1zM276 282h1v1h-1zM272 283h1v1h-1zM274 283h1v1h-1zM278 283h1v1h-1zM280 283h1v1h-1zM266 284h1v1h-1zM274 284h1v1h-1zM277 284h1v1h-1zM297 284h1v1h-1zM303 284h1v1h-1zM266 285h1v1h-1zM271 285h1v1h-1zM278 285h2v1h-2zM281 285h1v1h-1zM287 285h1v1h-1zM289 285h1v1h-1zM297 285h2v1h-2zM303 285h2v1h-2zM271 286h1v1h-1zM275 286h1v1h-1zM281 286h1v1h-1zM286 286h1v1h-1zM289 286h1v1h-1zM296 286h1v1h-1zM298 286h1v1h-1zM302 286h1v1h-1zM306 286h2v1h-2zM309 286h1v1h-1zM265 287h1v1h-1zM275 287h1v1h-1zM286 287h2v1h-2zM289 287h1v1h-1zM296 287h1v1h-1zM266 288h1v1h-1zM283 288h1v1h-1zM292 288h1v1h-1zM294 288h1v1h-1zM296 288h1v1h-1zM308 288h1v1h-1zM267 289h1v1h-1zM282 289h1v1h-1zM295 289h1v1h-1zM307 289h1v1h-1zM309 289h1v1h-1zM282 290h1v1h-1zM287 290h2v1h-2zM290 290h1v1h-1zM293 290h1v1h-1zM308 290h1v1h-1zM283 291h1v1h-1zM288 291h1v1h-1zM293 291h1v1h-1zM308 291h1v1h-1zM284 292h1v1h-1zM286 292h1v1h-1zM265 293h1v1h-1zM281 293h4v1h-4zM287 293h1v1h-1zM289 293h1v1h-1zM283 294h1v1h-1zM286 294h3v1h-3zM309 294h1v1h-1zM288 295h1v1h-1zM292 295h1v1h-1zM311 295h1v1h-1zM287 297h1v1h-1zM289 297h1v1h-1zM308 297h1v1h-1zM284 298h1v1h-1zM289 298h1v1h-1zM291 298h1v1h-1zM289 299h1v1h-1zM292 299h1v1h-1zM309 299h1v1h-1zM289 300h1v1h-1zM292 300h1v1h-1zM310 300h1v1h-1zM288 301h2v1h-2zM291 301h2v1h-2zM294 301h1v1h-1zM292 302h1v1h-1zM310 302h1v1h-1zM266 303h1v1h-1zM283 303h1v1h-1zM286 303h1v1h-1zM288 303h1v1h-1zM292 303h2v1h-2zM290 304h1v1h-1zM292 304h1v1h-1zM297 304h1v1h-1zM308 304h1v1h-1zM280 305h1v1h-1zM283 305h1v1h-1zM285 305h1v1h-1zM289 305h1v1h-1zM292 305h1v1h-1zM296 305h1v1h-1zM308 305h3v1h-3z"/>
<path fill="#808080" d="M279 266h1v1h-1zM267 267h1v1h-1zM281 269h1v1h-1zM271 271h1v1h-1zM283 271h1v1h-1zM287 271h1v1h-1zM271 272h1v1h-1zM283 272h1v1h-1zM269 274h1v1h-1zM278 274h1v1h-1zM288 274h1v1h-1zM277 275h1v1h-1zM282 275h1v1h-1zM309 275h1v1h-1zM284 276h1v1h-1zM272 277h1v1h-1zM284 277h1v1h-1zM295 277h1v1h-1zM278 278h1v1h-1zM291 278h1v1h-1zM277 279h1v1h-1zM288 279h1v1h-1zM291 279h1v1h-1zM304 279h1v1h-1zM275 280h1v1h-1zM300 280h1v1h-1zM266 281h1v1h-1zM269 281h1v1h-1zM273 281h3v1h-3zM278 281h1v1h-1zM284 281h1v1h-1zM296 281h1v1h-1zM265 282h1v1h-1zM267 282h1v1h-1zM271 282h1v1h-1zM275 282h1v1h-1zM279 282h2v1h-2zM282 282h1v1h-1zM286 282h1v1h-1zM291 282h1v1h-1zM295 282h1v1h-1zM307 282h1v1h-1zM266 283h1v1h-1zM268 283h2v1h-2zM271 283h1v1h-1zM273 283h1v1h-1zM281 283h2v1h-2zM285 283h1v1h-1zM287 283h1v1h-1zM290 283h3v1h-3zM295 283h1v1h-1zM303 283h2v1h-2zM307 283h2v1h-2zM267 284h4v1h-4zM278 284h1v1h-1zM280 284h1v1h-1zM284 284h3v1h-3zM292 284h1v1h-1zM295 284h1v1h-1zM300 284h1v1h-1zM302 284h1v1h-1zM304 284h1v1h-1zM306 284h2v1h-2zM267 285h1v1h-1zM273 285h2v1h-2zM280 285h1v1h-1zM284 285h1v1h-1zM288 285h1v1h-1zM290 285h1v1h-1zM293 285h1v1h-1zM295 285h2v1h-2zM301 285h1v1h-1zM309 285h2v1h-2zM266 286h1v1h-1zM269 286h1v1h-1zM284 286h1v1h-1zM288 286h1v1h-1zM291 286h2v1h-2zM294 286h1v1h-1zM299 286h1v1h-1zM301 286h1v1h-1zM308 286h1v1h-1zM288 287h1v1h-1zM290 287h1v1h-1zM282 288h1v1h-1zM285 288h1v1h-1zM287 288h1v1h-1zM289 288h3v1h-3zM302 288h1v1h-1zM310 288h1v1h-1zM270 289h1v1h-1zM283 289h1v1h-1zM287 289h1v1h-1zM289 289h1v1h-1zM293 289h2v1h-2zM284 290h1v1h-1zM286 290h1v1h-1zM294 290h1v1h-1zM311 290h1v1h-1zM265 291h1v1h-1zM285 291h1v1h-1zM290 291h1v1h-1zM292 291h1v1h-1zM294 291h1v1h-1zM283 292h1v1h-1zM288 292h1v1h-1zM310 292h1v1h-1zM312 292h1v1h-1zM285 293h2v1h-2zM290 293h2v1h-2zM307 293h1v1h-1zM313 293h1v1h-1zM285 294h1v1h-1zM290 294h2v1h-2zM293 294h2v1h-2zM310 294h1v1h-1zM285 295h1v1h-1zM290 295h2v1h-2zM294 295h1v1h-1zM309 295h2v1h-2zM282 296h1v1h-1zM286 296h2v1h-2zM289 296h1v1h-1zM294 296h1v1h-1zM309 296h3v1h-3zM284 297h3v1h-3zM292 297h2v1h-2zM296 297h1v1h-1zM292 298h1v1h-1zM294 298h1v1h-1zM310 298h2v1h-2zM283 299h1v1h-1zM285 299h2v1h-2zM290 299h1v1h-1zM311 299h1v1h-1zM286 300h1v1h-1zM288 300h1v1h-1zM293 300h1v1h-1zM295 300h1v1h-1zM309 300h1v1h-1zM312 300h1v1h-1zM283 301h1v1h-1zM285 301h1v1h-1zM287 301h1v1h-1zM290 301h1v1h-1zM312 301h1v1h-1zM283 302h3v1h-3zM287 302h1v1h-1zM291 302h1v1h-1zM289 303h1v1h-1zM286 304h1v1h-1zM288 304h2v1h-2zM291 304h1v1h-1zM293 304h1v1h-1zM310 304h1v1h-1zM312 304h1v1h-1zM287 305h1v1h-1zM290 305h1v1h-1zM293 305h1v1h-1zM307 305h1v1h-1zM312 305h1v1h-1z"/>
<ellipse cx="300.50" cy="272.80" rx="11.90" ry="7.00" transform="rotate(-49.2 300.50 272.80)" fill="none" stroke="#1a1a1a" stroke-width="0.8"/>
<line x1="264.80" y1="244.70" x2="264.80" y2="306.70" stroke="#000" stroke-width="1.2"/>
<line x1="264.20" y1="306.10" x2="328.50" y2="306.10" stroke="#000" stroke-width="1.2"/>
<path d="M262.60 306.10h2.20M264.80 306.10v2.20M263.50 301.50h1.30M269.57 306.10v1.30M263.50 298.81h1.30M272.36 306.10v1.30M263.50 296.90h1.30M274.34 306.10v1.30M263.50 295.42h1.30M275.88 306.10v1.30M263.50 294.21h1.30M277.13 306.10v1.30M263.50 293.19h1.30M278.19 306.10v1.30M263.50 292.31h1.30M279.11 306.10v1.30M263.50 291.52h1.30M279.92 306.10v1.30M262.60 290.83h2.20M280.65 306.10v2.20M263.50 286.23h1.30M285.42 306.10v1.30M263.50 283.54h1.30M288.21 306.10v1.30M263.50 281.63h1.30M290.19 306.10v1.30M263.50 280.15h1.30M291.73 306.10v1.30M263.50 278.94h1.30M292.98 306.10v1.30M263.50 277.92h1.30M294.04 306.10v1.30M263.50 277.03h1.30M294.96 306.10v1.30M263.50 276.25h1.30M295.77 306.10v1.30M262.60 275.55h2.20M296.50 306.10v2.20M263.50 270.95h1.30M301.27 306.10v1.30M263.50 268.26h1.30M304.06 306.10v1.30M263.50 266.35h1.30M306.04 306.10v1.30M263.50 264.87h1.30M307.58 306.10v1.30M263.50 263.66h1.30M308.83 306.10v1.30M263.50 262.64h1.30M309.89 306.10v1.30M263.50 261.76h1.30M310.81 306.10v1.30M263.50 260.97h1.30M311.62 306.10v1.30M262.60 260.28h2.20M312.35 306.10v2.20M263.50 255.68h1.30M317.12 306.10v1.30M263.50 252.99h1.30M319.91 306.10v1.30M263.50 251.08h1.30M321.89 306.10v1.30M263.50 249.60h1.30M323.43 306.10v1.30M263.50 248.39h1.30M324.68 306.10v1.30M263.50 247.37h1.30M325.74 306.10v1.30M263.50 246.48h1.30M326.66 306.10v1.30M263.50 245.70h1.30M327.47 306.10v1.30M262.60 245.00h2.2M328.20 306.10v2.2" stroke="#000" stroke-width="0.7" fill="none"/>
<text x="263.15" y="313.25" font-size="4.9" font-weight="bold">10<tspan font-size="3.33" dy="-1.47">0</tspan></text>
<text x="278.50" y="313.25" font-size="4.9" font-weight="bold">10<tspan font-size="3.33" dy="-1.47">1</tspan></text>
<text x="293.85" y="313.25" font-size="4.9" font-weight="bold">10<tspan font-size="3.33" dy="-1.47">2</tspan></text>
<text x="309.20" y="313.25" font-size="4.9" font-weight="bold">10<tspan font-size="3.33" dy="-1.47">3</tspan></text>
<text x="324.55" y="313.25" font-size="4.9" font-weight="bold">10<tspan font-size="3.33" dy="-1.47">4</tspan></text>
<rect x="339.40" y="245.00" width="63.40" height="61.10" fill="none" stroke="#3a3a3a" stroke-width="0.9"/>
<line x1="362.70" y1="245.00" x2="362.70" y2="306.10" stroke="#444" stroke-width="0.9"/>
<line x1="339.40" y1="288.40" x2="402.80" y2="288.40" stroke="#444" stroke-width="0.9"/>
<path fill="#000" d="M344 290h1v1h-1zM346 290h2v1h-2zM372 290h1v1h-1zM341 291h1v1h-1zM343 291h2v1h-2zM347 291h4v1h-4zM357 291h1v1h-1zM361 291h1v1h-1zM368 291h1v1h-1zM372 291h1v1h-1zM374 291h1v1h-1zM340 292h1v1h-1zM342 292h2v1h-2zM347 292h5v1h-5zM353 292h1v1h-1zM357 292h1v1h-1zM370 292h1v1h-1zM376 292h1v1h-1zM380 292h1v1h-1zM340 293h3v1h-3zM344 293h3v1h-3zM348 293h7v1h-7zM356 293h1v1h-1zM364 293h1v1h-1zM366 293h1v1h-1zM369 293h3v1h-3zM376 293h2v1h-2zM340 294h12v1h-12zM353 294h2v1h-2zM360 294h1v1h-1zM363 294h1v1h-1zM370 294h1v1h-1zM372 294h1v1h-1zM374 294h1v1h-1zM376 294h1v1h-1zM378 294h1v1h-1zM380 294h1v1h-1zM340 295h1v1h-1zM342 295h6v1h-6zM349 295h4v1h-4zM355 295h1v1h-1zM358 295h2v1h-2zM365 295h1v1h-1zM367 295h2v1h-2zM370 295h3v1h-3zM377 295h2v1h-2zM340 296h13v1h-13zM355 296h1v1h-1zM358 296h1v1h-1zM365 296h1v1h-1zM367 296h5v1h-5zM373 296h6v1h-6zM340 297h14v1h-14zM356 297h1v1h-1zM362 297h1v1h-1zM366 297h1v1h-1zM368 297h6v1h-6zM376 297h1v1h-1zM378 297h1v1h-1zM340 298h16v1h-16zM357 298h1v1h-1zM364 298h1v1h-1zM367 298h3v1h-3zM371 298h8v1h-8zM381 298h1v1h-1zM340 299h14v1h-14zM359 299h1v1h-1zM363 299h2v1h-2zM367 299h6v1h-6zM374 299h4v1h-4zM379 299h1v1h-1zM340 300h14v1h-14zM355 300h1v1h-1zM358 300h1v1h-1zM364 300h1v1h-1zM366 300h1v1h-1zM369 300h5v1h-5zM376 300h1v1h-1zM378 300h1v1h-1zM381 300h1v1h-1zM340 301h14v1h-14zM355 301h2v1h-2zM362 301h1v1h-1zM364 301h2v1h-2zM368 301h3v1h-3zM372 301h6v1h-6zM340 302h15v1h-15zM360 302h1v1h-1zM362 302h1v1h-1zM367 302h1v1h-1zM369 302h1v1h-1zM371 302h2v1h-2zM375 302h2v1h-2zM378 302h1v1h-1zM340 303h14v1h-14zM357 303h2v1h-2zM364 303h1v1h-1zM367 303h4v1h-4zM374 303h1v1h-1zM376 303h1v1h-1zM378 303h2v1h-2zM340 304h14v1h-14zM356 304h6v1h-6zM363 304h1v1h-1zM367 304h4v1h-4zM373 304h3v1h-3zM377 304h2v1h-2zM380 304h1v1h-1zM341 305h16v1h-16zM358 305h1v1h-1zM362 305h1v1h-1zM366 305h1v1h-1zM368 305h1v1h-1zM370 305h1v1h-1zM374 305h5v1h-5z"/>
<path fill="#404040" d="M347 273h1v1h-1zM346 288h1v1h-1zM350 289h3v1h-3zM342 290h1v1h-1zM345 290h1v1h-1zM348 290h1v1h-1zM353 290h1v1h-1zM359 290h1v1h-1zM370 290h2v1h-2zM340 291h1v1h-1zM345 291h1v1h-1zM351 291h3v1h-3zM360 291h1v1h-1zM363 291h1v1h-1zM367 291h1v1h-1zM371 291h1v1h-1zM376 291h1v1h-1zM341 292h1v1h-1zM344 292h1v1h-1zM346 292h1v1h-1zM368 292h2v1h-2zM379 292h1v1h-1zM359 293h2v1h-2zM362 293h2v1h-2zM368 293h1v1h-1zM374 293h1v1h-1zM379 293h2v1h-2zM355 294h1v1h-1zM364 294h1v1h-1zM368 294h2v1h-2zM373 294h1v1h-1zM375 294h1v1h-1zM379 294h1v1h-1zM341 295h1v1h-1zM348 295h1v1h-1zM353 295h1v1h-1zM356 295h2v1h-2zM369 295h1v1h-1zM374 295h1v1h-1zM379 295h1v1h-1zM353 296h1v1h-1zM361 296h1v1h-1zM364 296h1v1h-1zM366 296h1v1h-1zM372 296h1v1h-1zM355 297h1v1h-1zM357 297h1v1h-1zM363 297h2v1h-2zM374 297h1v1h-1zM379 297h2v1h-2zM382 297h1v1h-1zM356 298h1v1h-1zM358 298h2v1h-2zM366 298h1v1h-1zM379 298h1v1h-1zM354 299h1v1h-1zM357 299h1v1h-1zM360 299h2v1h-2zM365 299h2v1h-2zM373 299h1v1h-1zM378 299h1v1h-1zM354 300h1v1h-1zM360 300h1v1h-1zM362 300h1v1h-1zM368 300h1v1h-1zM374 300h2v1h-2zM358 301h1v1h-1zM366 301h1v1h-1zM371 301h1v1h-1zM378 301h3v1h-3zM355 302h2v1h-2zM359 302h1v1h-1zM363 302h3v1h-3zM368 302h1v1h-1zM373 302h1v1h-1zM379 302h1v1h-1zM354 303h2v1h-2zM360 303h2v1h-2zM371 303h1v1h-1zM375 303h1v1h-1zM377 303h1v1h-1zM382 303h1v1h-1zM364 304h1v1h-1zM371 304h2v1h-2zM376 304h1v1h-1zM381 304h1v1h-1zM340 305h1v1h-1zM360 305h1v1h-1zM367 305h1v1h-1zM369 305h1v1h-1zM372 305h2v1h-2zM379 305h1v1h-1z"/>
<path fill="#808080" d="M355 257h1v1h-1zM357 260h1v1h-1zM352 261h1v1h-1zM362 262h1v1h-1zM362 263h1v1h-1zM362 264h1v1h-1zM372 264h1v1h-1zM344 266h1v1h-1zM355 266h1v1h-1zM361 268h1v1h-1zM356 271h1v1h-1zM344 272h1v1h-1zM348 272h1v1h-1zM349 274h1v1h-1zM363 274h1v1h-1zM342 275h1v1h-1zM341 276h1v1h-1zM354 277h1v1h-1zM340 279h1v1h-1zM345 279h1v1h-1zM386 279h1v1h-1zM341 280h1v1h-1zM343 280h1v1h-1zM347 280h1v1h-1zM355 281h1v1h-1zM352 283h1v1h-1zM358 283h1v1h-1zM354 284h1v1h-1zM341 285h1v1h-1zM345 285h2v1h-2zM373 285h1v1h-1zM348 286h1v1h-1zM346 287h1v1h-1zM348 287h1v1h-1zM351 287h2v1h-2zM360 287h1v1h-1zM373 287h1v1h-1zM377 287h1v1h-1zM343 288h3v1h-3zM348 288h1v1h-1zM350 288h5v1h-5zM365 288h1v1h-1zM375 288h1v1h-1zM377 288h1v1h-1zM344 289h2v1h-2zM349 289h1v1h-1zM354 289h1v1h-1zM359 289h1v1h-1zM361 289h1v1h-1zM369 289h1v1h-1zM371 289h1v1h-1zM373 289h2v1h-2zM341 290h1v1h-1zM352 290h1v1h-1zM354 290h2v1h-2zM357 290h1v1h-1zM363 290h1v1h-1zM367 290h1v1h-1zM369 290h1v1h-1zM373 290h1v1h-1zM342 291h1v1h-1zM346 291h1v1h-1zM354 291h3v1h-3zM358 291h1v1h-1zM362 291h1v1h-1zM364 291h1v1h-1zM366 291h1v1h-1zM373 291h1v1h-1zM379 291h1v1h-1zM345 292h1v1h-1zM352 292h1v1h-1zM354 292h1v1h-1zM358 292h3v1h-3zM364 292h2v1h-2zM367 292h1v1h-1zM372 292h2v1h-2zM375 292h1v1h-1zM377 292h1v1h-1zM343 293h1v1h-1zM347 293h1v1h-1zM358 293h1v1h-1zM361 293h1v1h-1zM365 293h1v1h-1zM367 293h1v1h-1zM373 293h1v1h-1zM375 293h1v1h-1zM352 294h1v1h-1zM361 294h2v1h-2zM366 294h2v1h-2zM371 294h1v1h-1zM377 294h1v1h-1zM381 294h1v1h-1zM361 295h2v1h-2zM364 295h1v1h-1zM375 295h2v1h-2zM380 295h2v1h-2zM356 296h2v1h-2zM360 296h1v1h-1zM362 296h2v1h-2zM379 296h3v1h-3zM384 296h1v1h-1zM354 297h1v1h-1zM358 297h1v1h-1zM360 297h2v1h-2zM367 297h1v1h-1zM375 297h1v1h-1zM377 297h1v1h-1zM381 297h1v1h-1zM362 298h2v1h-2zM365 298h1v1h-1zM370 298h1v1h-1zM382 298h1v1h-1zM358 299h1v1h-1zM381 299h2v1h-2zM356 300h2v1h-2zM365 300h1v1h-1zM367 300h1v1h-1zM377 300h1v1h-1zM379 300h2v1h-2zM382 300h1v1h-1zM361 301h1v1h-1zM367 301h1v1h-1zM381 301h1v1h-1zM357 302h1v1h-1zM361 302h1v1h-1zM366 302h1v1h-1zM370 302h1v1h-1zM380 302h2v1h-2zM356 303h1v1h-1zM359 303h1v1h-1zM362 303h1v1h-1zM365 303h2v1h-2zM380 303h1v1h-1zM354 304h2v1h-2zM362 304h1v1h-1zM366 304h1v1h-1zM379 304h1v1h-1zM357 305h1v1h-1zM363 305h1v1h-1zM365 305h1v1h-1zM371 305h1v1h-1zM380 305h1v1h-1z"/>
<ellipse cx="373.50" cy="276.20" rx="13.10" ry="8.00" transform="rotate(-55.7 373.50 276.20)" fill="none" stroke="#1a1a1a" stroke-width="0.8"/>
<line x1="339.40" y1="244.70" x2="339.40" y2="306.70" stroke="#000" stroke-width="1.2"/>
<line x1="338.80" y1="306.10" x2="403.10" y2="306.10" stroke="#000" stroke-width="1.2"/>
<path d="M337.20 306.10h2.20M339.40 306.10v2.20M338.10 301.50h1.30M344.17 306.10v1.30M338.10 298.81h1.30M346.96 306.10v1.30M338.10 296.90h1.30M348.94 306.10v1.30M338.10 295.42h1.30M350.48 306.10v1.30M338.10 294.21h1.30M351.73 306.10v1.30M338.10 293.19h1.30M352.79 306.10v1.30M338.10 292.31h1.30M353.71 306.10v1.30M338.10 291.52h1.30M354.52 306.10v1.30M337.20 290.83h2.20M355.25 306.10v2.20M338.10 286.23h1.30M360.02 306.10v1.30M338.10 283.54h1.30M362.81 306.10v1.30M338.10 281.63h1.30M364.79 306.10v1.30M338.10 280.15h1.30M366.33 306.10v1.30M338.10 278.94h1.30M367.58 306.10v1.30M338.10 277.92h1.30M368.64 306.10v1.30M338.10 277.03h1.30M369.56 306.10v1.30M338.10 276.25h1.30M370.37 306.10v1.30M337.20 275.55h2.20M371.10 306.10v2.20M338.10 270.95h1.30M375.87 306.10v1.30M338.10 268.26h1.30M378.66 306.10v1.30M338.10 266.35h1.30M380.64 306.10v1.30M338.10 264.87h1.30M382.18 306.10v1.30M338.10 263.66h1.30M383.43 306.10v1.30M338.10 262.64h1.30M384.49 306.10v1.30M338.10 261.76h1.30M385.41 306.10v1.30M338.10 260.97h1.30M386.22 306.10v1.30M337.20 260.28h2.20M386.95 306.10v2.20M338.10 255.68h1.30M391.72 306.10v1.30M338.10 252.99h1.30M394.51 306.10v1.30M338.10 251.08h1.30M396.49 306.10v1.30M338.10 249.60h1.30M398.03 306.10v1.30M338.10 248.39h1.30M399.28 306.10v1.30M338.10 247.37h1.30M400.34 306.10v1.30M338.10 246.48h1.30M401.26 306.10v1.30M338.10 245.70h1.30M402.07 306.10v1.30M337.20 245.00h2.2M402.80 306.10v2.2" stroke="#000" stroke-width="0.7" fill="none"/>
<text x="337.75" y="313.25" font-size="4.9" font-weight="bold">10<tspan font-size="3.33" dy="-1.47">0</tspan></text>
<text x="353.10" y="313.25" font-size="4.9" font-weight="bold">10<tspan font-size="3.33" dy="-1.47">1</tspan></text>
<text x="368.45" y="313.25" font-size="4.9" font-weight="bold">10<tspan font-size="3.33" dy="-1.47">2</tspan></text>
<text x="383.80" y="313.25" font-size="4.9" font-weight="bold">10<tspan font-size="3.33" dy="-1.47">3</tspan></text>
<text x="399.15" y="313.25" font-size="4.9" font-weight="bold">10<tspan font-size="3.33" dy="-1.47">4</tspan></text>
<rect x="448.70" y="245.00" width="66.00" height="61.10" fill="none" stroke="#3a3a3a" stroke-width="0.9"/>
<line x1="482.40" y1="245.00" x2="482.40" y2="306.10" stroke="#444" stroke-width="0.9"/>
<line x1="448.70" y1="287.00" x2="514.70" y2="287.00" stroke="#444" stroke-width="0.9"/>
<path fill="#000" d="M495 272h1v1h-1zM493 273h1v1h-1zM491 274h1v1h-1zM494 274h3v1h-3zM491 275h5v1h-5zM497 275h1v1h-1zM491 276h5v1h-5zM491 277h6v1h-6zM498 277h1v1h-1zM491 278h4v1h-4zM489 279h1v1h-1zM493 279h1v1h-1zM495 279h1v1h-1zM492 280h1v1h-1zM494 280h1v1h-1zM491 287h1v1h-1zM493 289h1v1h-1zM490 292h2v1h-2zM488 293h2v1h-2zM491 293h1v1h-1zM493 293h1v1h-1zM496 293h3v1h-3zM489 294h3v1h-3zM493 294h4v1h-4zM488 295h9v1h-9zM488 296h3v1h-3zM492 296h4v1h-4zM498 296h1v1h-1zM488 297h9v1h-9zM498 297h1v1h-1zM487 298h2v1h-2zM490 298h6v1h-6zM498 298h1v1h-1zM488 299h10v1h-10zM499 299h1v1h-1zM488 300h6v1h-6zM495 300h4v1h-4zM487 301h1v1h-1zM489 301h7v1h-7zM497 301h1v1h-1zM499 301h1v1h-1zM489 302h9v1h-9zM499 302h1v1h-1zM488 303h2v1h-2zM491 303h4v1h-4zM499 303h1v1h-1zM488 304h4v1h-4zM493 304h4v1h-4zM498 304h1v1h-1zM500 304h1v1h-1zM490 305h7v1h-7zM499 305h1v1h-1z"/>
<path fill="#404040" d="M497 269h1v1h-1zM493 270h1v1h-1zM494 272h1v1h-1zM497 273h1v1h-1zM489 274h1v1h-1zM493 274h1v1h-1zM490 275h1v1h-1zM487 276h1v1h-1zM496 276h1v1h-1zM498 276h1v1h-1zM488 277h3v1h-3zM497 277h1v1h-1zM499 277h1v1h-1zM486 278h1v1h-1zM490 278h1v1h-1zM495 278h2v1h-2zM499 278h1v1h-1zM492 279h1v1h-1zM494 279h1v1h-1zM496 279h1v1h-1zM498 279h1v1h-1zM489 280h1v1h-1zM495 280h1v1h-1zM491 282h1v1h-1zM491 283h1v1h-1zM494 284h1v1h-1zM490 286h1v1h-1zM488 287h1v1h-1zM491 288h1v1h-1zM489 289h1v1h-1zM491 289h1v1h-1zM494 289h2v1h-2zM490 290h1v1h-1zM488 291h1v1h-1zM491 291h1v1h-1zM500 291h1v1h-1zM485 292h1v1h-1zM489 292h1v1h-1zM494 292h2v1h-2zM501 292h1v1h-1zM492 293h1v1h-1zM494 293h1v1h-1zM488 294h1v1h-1zM497 294h1v1h-1zM497 295h1v1h-1zM499 295h1v1h-1zM487 296h1v1h-1zM496 296h1v1h-1zM487 297h1v1h-1zM497 297h1v1h-1zM489 298h1v1h-1zM496 298h2v1h-2zM474 299h1v1h-1zM486 299h1v1h-1zM498 299h1v1h-1zM487 300h1v1h-1zM500 300h1v1h-1zM486 301h1v1h-1zM488 301h1v1h-1zM487 302h2v1h-2zM485 303h1v1h-1zM487 303h1v1h-1zM497 303h2v1h-2zM487 304h1v1h-1zM492 304h1v1h-1zM499 304h1v1h-1zM489 305h1v1h-1zM497 305h1v1h-1z"/>
<path fill="#808080" d="M497 260h1v1h-1zM510 261h1v1h-1zM498 263h1v1h-1zM502 265h1v1h-1zM497 266h1v1h-1zM510 266h1v1h-1zM500 267h1v1h-1zM479 268h1v1h-1zM494 268h2v1h-2zM508 268h1v1h-1zM492 269h2v1h-2zM491 270h1v1h-1zM494 270h1v1h-1zM496 270h2v1h-2zM500 270h1v1h-1zM492 271h2v1h-2zM499 271h1v1h-1zM505 271h1v1h-1zM496 272h2v1h-2zM499 272h1v1h-1zM494 273h3v1h-3zM498 273h1v1h-1zM503 273h1v1h-1zM485 275h1v1h-1zM487 275h1v1h-1zM499 275h1v1h-1zM501 275h1v1h-1zM485 276h1v1h-1zM489 276h2v1h-2zM497 276h1v1h-1zM500 276h1v1h-1zM503 276h1v1h-1zM485 277h1v1h-1zM487 277h1v1h-1zM503 277h2v1h-2zM485 278h1v1h-1zM489 278h1v1h-1zM469 279h1v1h-1zM482 279h1v1h-1zM486 279h3v1h-3zM490 279h1v1h-1zM497 279h1v1h-1zM506 279h1v1h-1zM486 280h1v1h-1zM488 280h1v1h-1zM491 280h1v1h-1zM493 280h1v1h-1zM498 280h1v1h-1zM500 280h1v1h-1zM487 281h1v1h-1zM489 281h2v1h-2zM492 281h4v1h-4zM492 282h1v1h-1zM494 282h1v1h-1zM496 282h1v1h-1zM485 283h1v1h-1zM490 283h1v1h-1zM494 283h1v1h-1zM479 284h1v1h-1zM483 284h1v1h-1zM485 284h2v1h-2zM489 284h1v1h-1zM491 284h1v1h-1zM503 284h1v1h-1zM486 285h1v1h-1zM489 285h2v1h-2zM497 285h4v1h-4zM486 286h1v1h-1zM488 286h2v1h-2zM491 286h2v1h-2zM504 286h1v1h-1zM479 287h1v1h-1zM482 287h1v1h-1zM486 287h1v1h-1zM492 287h1v1h-1zM494 287h2v1h-2zM497 287h1v1h-1zM500 287h1v1h-1zM485 288h2v1h-2zM488 288h3v1h-3zM492 288h3v1h-3zM498 288h1v1h-1zM507 288h1v1h-1zM484 289h1v1h-1zM487 289h1v1h-1zM492 289h1v1h-1zM498 289h1v1h-1zM503 289h1v1h-1zM452 290h1v1h-1zM480 290h1v1h-1zM482 290h1v1h-1zM484 290h1v1h-1zM489 290h1v1h-1zM491 290h4v1h-4zM496 290h1v1h-1zM498 290h1v1h-1zM454 291h1v1h-1zM465 291h1v1h-1zM482 291h1v1h-1zM486 291h1v1h-1zM489 291h2v1h-2zM492 291h1v1h-1zM494 291h2v1h-2zM498 291h1v1h-1zM482 292h1v1h-1zM486 292h1v1h-1zM492 292h1v1h-1zM496 292h3v1h-3zM504 292h1v1h-1zM481 293h1v1h-1zM490 293h1v1h-1zM499 293h2v1h-2zM483 294h1v1h-1zM485 294h3v1h-3zM492 294h1v1h-1zM500 294h1v1h-1zM506 294h1v1h-1zM460 295h1v1h-1zM484 295h1v1h-1zM458 296h1v1h-1zM485 296h1v1h-1zM491 296h1v1h-1zM497 296h1v1h-1zM500 296h1v1h-1zM466 297h1v1h-1zM472 297h1v1h-1zM484 297h1v1h-1zM486 297h1v1h-1zM499 297h2v1h-2zM468 298h1v1h-1zM473 298h1v1h-1zM486 298h1v1h-1zM499 298h1v1h-1zM482 299h1v1h-1zM484 299h1v1h-1zM487 299h1v1h-1zM486 300h1v1h-1zM499 300h1v1h-1zM467 301h1v1h-1zM484 301h1v1h-1zM496 301h1v1h-1zM485 302h2v1h-2zM498 302h1v1h-1zM500 302h1v1h-1zM456 303h1v1h-1zM490 303h1v1h-1zM495 303h1v1h-1zM500 303h1v1h-1zM482 304h1v1h-1zM486 304h1v1h-1zM501 304h1v1h-1zM460 305h1v1h-1zM483 305h1v1h-1zM486 305h1v1h-1zM488 305h1v1h-1zM498 305h1v1h-1z"/>
<ellipse cx="493.20" cy="275.25" rx="13.30" ry="8.10" transform="rotate(-44 493.20 275.25)" fill="none" stroke="#1a1a1a" stroke-width="0.8"/>
<line x1="448.70" y1="244.70" x2="448.70" y2="306.70" stroke="#000" stroke-width="1.2"/>
<line x1="448.10" y1="306.10" x2="515.00" y2="306.10" stroke="#000" stroke-width="1.2"/>
<path d="M446.50 306.10h2.20M448.70 306.10v2.20M447.40 301.50h1.30M453.67 306.10v1.30M447.40 298.81h1.30M456.57 306.10v1.30M447.40 296.90h1.30M458.63 306.10v1.30M447.40 295.42h1.30M460.23 306.10v1.30M447.40 294.21h1.30M461.54 306.10v1.30M447.40 293.19h1.30M462.64 306.10v1.30M447.40 292.31h1.30M463.60 306.10v1.30M447.40 291.52h1.30M464.45 306.10v1.30M446.50 290.83h2.20M465.20 306.10v2.20M447.40 286.23h1.30M470.17 306.10v1.30M447.40 283.54h1.30M473.07 306.10v1.30M447.40 281.63h1.30M475.13 306.10v1.30M447.40 280.15h1.30M476.73 306.10v1.30M447.40 278.94h1.30M478.04 306.10v1.30M447.40 277.92h1.30M479.14 306.10v1.30M447.40 277.03h1.30M480.10 306.10v1.30M447.40 276.25h1.30M480.95 306.10v1.30M446.50 275.55h2.20M481.70 306.10v2.20M447.40 270.95h1.30M486.67 306.10v1.30M447.40 268.26h1.30M489.57 306.10v1.30M447.40 266.35h1.30M491.63 306.10v1.30M447.40 264.87h1.30M493.23 306.10v1.30M447.40 263.66h1.30M494.54 306.10v1.30M447.40 262.64h1.30M495.64 306.10v1.30M447.40 261.76h1.30M496.60 306.10v1.30M447.40 260.97h1.30M497.45 306.10v1.30M446.50 260.28h2.20M498.20 306.10v2.20M447.40 255.68h1.30M503.17 306.10v1.30M447.40 252.99h1.30M506.07 306.10v1.30M447.40 251.08h1.30M508.13 306.10v1.30M447.40 249.60h1.30M509.73 306.10v1.30M447.40 248.39h1.30M511.04 306.10v1.30M447.40 247.37h1.30M512.14 306.10v1.30M447.40 246.48h1.30M513.10 306.10v1.30M447.40 245.70h1.30M513.95 306.10v1.30M446.50 245.00h2.2M514.70 306.10v2.2" stroke="#000" stroke-width="0.7" fill="none"/>
<text x="447.05" y="313.25" font-size="4.9" font-weight="bold">10<tspan font-size="3.33" dy="-1.47">0</tspan></text>
<text x="442.00" y="303.40" font-size="4.9" font-weight="bold" transform="rotate(-90 445.65 303.40)">10<tspan font-size="3.33" dy="-1.47">0</tspan></text>
<text x="463.05" y="313.25" font-size="4.9" font-weight="bold">10<tspan font-size="3.33" dy="-1.47">1</tspan></text>
<text x="442.00" y="288.93" font-size="4.9" font-weight="bold" transform="rotate(-90 445.65 288.93)">10<tspan font-size="3.33" dy="-1.47">1</tspan></text>
<text x="479.05" y="313.25" font-size="4.9" font-weight="bold">10<tspan font-size="3.33" dy="-1.47">2</tspan></text>
<text x="442.00" y="274.45" font-size="4.9" font-weight="bold" transform="rotate(-90 445.65 274.45)">10<tspan font-size="3.33" dy="-1.47">2</tspan></text>
<text x="495.05" y="313.25" font-size="4.9" font-weight="bold">10<tspan font-size="3.33" dy="-1.47">3</tspan></text>
<text x="442.00" y="259.98" font-size="4.9" font-weight="bold" transform="rotate(-90 445.65 259.98)">10<tspan font-size="3.33" dy="-1.47">3</tspan></text>
<text x="511.05" y="313.25" font-size="4.9" font-weight="bold">10<tspan font-size="3.33" dy="-1.47">4</tspan></text>
<text x="442.00" y="245.50" font-size="4.9" font-weight="bold" transform="rotate(-90 445.65 245.50)">10<tspan font-size="3.33" dy="-1.47">4</tspan></text>
<rect x="190.10" y="322.50" width="62.50" height="61.10" fill="none" stroke="#3a3a3a" stroke-width="0.9"/>
<line x1="213.20" y1="322.50" x2="213.20" y2="383.60" stroke="#444" stroke-width="0.9"/>
<line x1="190.10" y1="365.80" x2="252.60" y2="365.80" stroke="#444" stroke-width="0.9"/>
<path fill="#000" d="M223 349h1v1h-1zM224 350h2v1h-2zM221 351h1v1h-1zM220 352h3v1h-3zM221 353h5v1h-5zM219 354h1v1h-1zM222 354h1v1h-1zM224 354h1v1h-1zM217 355h1v1h-1zM219 355h1v1h-1zM221 355h1v1h-1zM223 355h2v1h-2zM227 355h1v1h-1zM217 356h1v1h-1zM219 356h4v1h-4zM226 356h1v1h-1zM221 357h1v1h-1zM225 357h1v1h-1zM219 358h3v1h-3zM224 358h2v1h-2zM216 359h1v1h-1zM219 359h1v1h-1zM216 360h1v1h-1zM218 360h2v1h-2zM223 360h1v1h-1zM218 361h1v1h-1zM220 361h1v1h-1zM215 363h1v1h-1zM191 364h1v1h-1zM199 364h1v1h-1zM225 364h1v1h-1zM192 365h1v1h-1zM197 365h4v1h-4zM203 365h1v1h-1zM191 366h2v1h-2zM194 366h1v1h-1zM196 366h2v1h-2zM201 366h1v1h-1zM218 366h1v1h-1zM228 366h1v1h-1zM193 367h5v1h-5zM199 367h1v1h-1zM201 367h3v1h-3zM218 367h1v1h-1zM220 367h1v1h-1zM225 367h1v1h-1zM191 368h2v1h-2zM196 368h3v1h-3zM200 368h2v1h-2zM213 368h1v1h-1zM217 368h3v1h-3zM223 368h1v1h-1zM225 368h2v1h-2zM191 369h5v1h-5zM197 369h6v1h-6zM204 369h2v1h-2zM215 369h1v1h-1zM217 369h1v1h-1zM219 369h1v1h-1zM221 369h7v1h-7zM191 370h4v1h-4zM196 370h3v1h-3zM200 370h2v1h-2zM204 370h1v1h-1zM207 370h1v1h-1zM213 370h1v1h-1zM217 370h4v1h-4zM222 370h3v1h-3zM226 370h1v1h-1zM228 370h1v1h-1zM191 371h6v1h-6zM198 371h5v1h-5zM204 371h4v1h-4zM218 371h6v1h-6zM225 371h2v1h-2zM228 371h1v1h-1zM191 372h14v1h-14zM209 372h1v1h-1zM212 372h1v1h-1zM220 372h3v1h-3zM224 372h1v1h-1zM226 372h2v1h-2zM191 373h3v1h-3zM196 373h8v1h-8zM206 373h1v1h-1zM210 373h2v1h-2zM216 373h5v1h-5zM222 373h5v1h-5zM229 373h1v1h-1zM192 374h2v1h-2zM195 374h7v1h-7zM203 374h2v1h-2zM210 374h1v1h-1zM214 374h1v1h-1zM216 374h5v1h-5zM222 374h1v1h-1zM224 374h5v1h-5zM191 375h2v1h-2zM195 375h5v1h-5zM202 375h1v1h-1zM205 375h1v1h-1zM215 375h1v1h-1zM217 375h10v1h-10zM229 375h2v1h-2zM191 376h15v1h-15zM209 376h1v1h-1zM211 376h1v1h-1zM213 376h1v1h-1zM215 376h2v1h-2zM219 376h11v1h-11zM191 377h10v1h-10zM202 377h1v1h-1zM204 377h1v1h-1zM208 377h1v1h-1zM212 377h1v1h-1zM214 377h1v1h-1zM216 377h1v1h-1zM218 377h2v1h-2zM221 377h1v1h-1zM224 377h1v1h-1zM226 377h3v1h-3zM191 378h12v1h-12zM204 378h2v1h-2zM215 378h1v1h-1zM217 378h9v1h-9zM227 378h2v1h-2zM191 379h1v1h-1zM193 379h1v1h-1zM195 379h2v1h-2zM198 379h2v1h-2zM202 379h2v1h-2zM205 379h3v1h-3zM210 379h1v1h-1zM215 379h1v1h-1zM217 379h1v1h-1zM219 379h3v1h-3zM223 379h7v1h-7zM191 380h1v1h-1zM193 380h12v1h-12zM208 380h2v1h-2zM211 380h1v1h-1zM213 380h1v1h-1zM215 380h1v1h-1zM219 380h6v1h-6zM226 380h4v1h-4zM191 381h11v1h-11zM203 381h1v1h-1zM205 381h1v1h-1zM210 381h1v1h-1zM213 381h1v1h-1zM217 381h3v1h-3zM221 381h1v1h-1zM223 381h6v1h-6zM191 382h6v1h-6zM198 382h2v1h-2zM201 382h1v1h-1zM203 382h5v1h-5zM209 382h1v1h-1zM213 382h1v1h-1zM216 382h1v1h-1zM220 382h5v1h-5zM227 382h1v1h-1z"/>
<path fill="#404040" d="M222 345h1v1h-1zM219 347h1v1h-1zM226 348h1v1h-1zM221 349h1v1h-1zM222 350h2v1h-2zM227 350h1v1h-1zM217 351h1v1h-1zM223 351h2v1h-2zM227 351h1v1h-1zM218 352h2v1h-2zM223 352h2v1h-2zM218 353h1v1h-1zM215 354h2v1h-2zM218 354h1v1h-1zM220 354h1v1h-1zM223 354h1v1h-1zM225 354h3v1h-3zM218 355h1v1h-1zM220 355h1v1h-1zM222 355h1v1h-1zM225 355h1v1h-1zM218 356h1v1h-1zM230 356h1v1h-1zM219 357h2v1h-2zM222 357h2v1h-2zM226 357h1v1h-1zM215 358h1v1h-1zM223 358h1v1h-1zM214 359h1v1h-1zM218 359h1v1h-1zM220 359h1v1h-1zM222 359h1v1h-1zM224 359h1v1h-1zM214 360h1v1h-1zM222 360h1v1h-1zM219 361h1v1h-1zM222 361h1v1h-1zM225 361h1v1h-1zM195 362h1v1h-1zM217 362h1v1h-1zM219 362h2v1h-2zM226 362h1v1h-1zM193 363h1v1h-1zM217 363h1v1h-1zM219 363h2v1h-2zM195 364h2v1h-2zM213 364h2v1h-2zM217 364h1v1h-1zM193 365h2v1h-2zM196 365h1v1h-1zM204 365h1v1h-1zM216 365h2v1h-2zM220 365h1v1h-1zM224 365h3v1h-3zM228 365h1v1h-1zM193 366h1v1h-1zM199 366h2v1h-2zM207 366h1v1h-1zM215 366h1v1h-1zM220 366h1v1h-1zM223 366h2v1h-2zM226 366h2v1h-2zM191 367h1v1h-1zM200 367h1v1h-1zM204 367h1v1h-1zM208 367h1v1h-1zM211 367h1v1h-1zM215 367h2v1h-2zM219 367h1v1h-1zM221 367h1v1h-1zM223 367h2v1h-2zM193 368h1v1h-1zM206 368h1v1h-1zM208 368h1v1h-1zM211 368h1v1h-1zM214 368h1v1h-1zM220 368h1v1h-1zM222 368h1v1h-1zM206 369h1v1h-1zM210 369h1v1h-1zM214 369h1v1h-1zM216 369h1v1h-1zM218 369h1v1h-1zM229 369h1v1h-1zM195 370h1v1h-1zM199 370h1v1h-1zM205 370h2v1h-2zM209 370h2v1h-2zM212 370h1v1h-1zM221 370h1v1h-1zM225 370h1v1h-1zM197 371h1v1h-1zM203 371h1v1h-1zM210 371h2v1h-2zM227 371h1v1h-1zM229 371h1v1h-1zM231 371h1v1h-1zM208 372h1v1h-1zM210 372h1v1h-1zM214 372h1v1h-1zM217 372h3v1h-3zM223 372h1v1h-1zM225 372h1v1h-1zM194 373h1v1h-1zM205 373h1v1h-1zM212 373h1v1h-1zM214 373h1v1h-1zM221 373h1v1h-1zM228 373h1v1h-1zM191 374h1v1h-1zM202 374h1v1h-1zM212 374h2v1h-2zM221 374h1v1h-1zM193 375h2v1h-2zM200 375h2v1h-2zM207 375h1v1h-1zM213 375h2v1h-2zM216 375h1v1h-1zM227 375h2v1h-2zM207 376h1v1h-1zM210 376h1v1h-1zM212 376h1v1h-1zM203 377h1v1h-1zM206 377h1v1h-1zM210 377h1v1h-1zM223 377h1v1h-1zM225 377h1v1h-1zM230 377h1v1h-1zM203 378h1v1h-1zM208 378h1v1h-1zM214 378h1v1h-1zM226 378h1v1h-1zM231 378h2v1h-2zM192 379h1v1h-1zM200 379h2v1h-2zM212 379h2v1h-2zM216 379h1v1h-1zM206 380h2v1h-2zM210 380h1v1h-1zM216 380h2v1h-2zM225 380h1v1h-1zM230 380h1v1h-1zM202 381h1v1h-1zM204 381h1v1h-1zM206 381h2v1h-2zM209 381h1v1h-1zM214 381h1v1h-1zM216 381h1v1h-1zM220 381h1v1h-1zM222 381h1v1h-1zM197 382h1v1h-1zM210 382h1v1h-1zM212 382h1v1h-1zM214 382h1v1h-1zM217 382h1v1h-1zM219 382h1v1h-1zM226 382h1v1h-1zM228 382h1v1h-1zM230 382h1v1h-1z"/>
<path fill="#808080" d="M235 335h1v1h-1zM237 336h1v1h-1zM197 337h1v1h-1zM232 337h1v1h-1zM196 339h1v1h-1zM208 339h1v1h-1zM220 340h2v1h-2zM191 342h1v1h-1zM225 342h1v1h-1zM228 342h1v1h-1zM221 343h1v1h-1zM229 343h1v1h-1zM231 343h1v1h-1zM223 344h1v1h-1zM226 344h1v1h-1zM218 345h1v1h-1zM221 345h1v1h-1zM226 346h2v1h-2zM222 347h1v1h-1zM227 347h1v1h-1zM229 347h1v1h-1zM231 347h1v1h-1zM202 348h1v1h-1zM217 348h1v1h-1zM219 348h2v1h-2zM222 348h2v1h-2zM228 348h1v1h-1zM215 349h1v1h-1zM218 349h1v1h-1zM225 349h1v1h-1zM227 349h3v1h-3zM217 350h4v1h-4zM231 350h1v1h-1zM234 350h1v1h-1zM214 351h1v1h-1zM219 351h2v1h-2zM225 351h1v1h-1zM231 351h1v1h-1zM200 352h2v1h-2zM205 352h1v1h-1zM217 352h1v1h-1zM225 352h1v1h-1zM228 352h1v1h-1zM232 352h1v1h-1zM191 353h1v1h-1zM211 353h1v1h-1zM219 353h2v1h-2zM226 353h3v1h-3zM231 353h1v1h-1zM234 353h1v1h-1zM192 354h1v1h-1zM208 354h1v1h-1zM221 354h1v1h-1zM229 354h1v1h-1zM216 355h1v1h-1zM226 355h1v1h-1zM229 355h2v1h-2zM202 356h1v1h-1zM206 356h1v1h-1zM215 356h1v1h-1zM224 356h2v1h-2zM227 356h1v1h-1zM229 356h1v1h-1zM200 357h2v1h-2zM214 357h1v1h-1zM224 357h1v1h-1zM229 357h3v1h-3zM202 358h1v1h-1zM207 358h1v1h-1zM213 358h2v1h-2zM216 358h1v1h-1zM218 358h1v1h-1zM222 358h1v1h-1zM226 358h2v1h-2zM203 359h1v1h-1zM206 359h1v1h-1zM217 359h1v1h-1zM223 359h1v1h-1zM225 359h1v1h-1zM228 359h2v1h-2zM201 360h1v1h-1zM213 360h1v1h-1zM217 360h1v1h-1zM220 360h1v1h-1zM224 360h1v1h-1zM226 360h1v1h-1zM201 361h1v1h-1zM211 361h1v1h-1zM221 361h1v1h-1zM226 361h1v1h-1zM192 362h3v1h-3zM197 362h1v1h-1zM199 362h1v1h-1zM204 362h1v1h-1zM210 362h2v1h-2zM214 362h1v1h-1zM216 362h1v1h-1zM218 362h1v1h-1zM221 362h1v1h-1zM224 362h2v1h-2zM191 363h2v1h-2zM194 363h1v1h-1zM199 363h1v1h-1zM205 363h1v1h-1zM207 363h1v1h-1zM214 363h1v1h-1zM221 363h1v1h-1zM225 363h1v1h-1zM192 364h1v1h-1zM197 364h2v1h-2zM200 364h4v1h-4zM206 364h2v1h-2zM210 364h2v1h-2zM218 364h2v1h-2zM222 364h1v1h-1zM195 365h1v1h-1zM201 365h2v1h-2zM207 365h2v1h-2zM212 365h4v1h-4zM218 365h1v1h-1zM221 365h1v1h-1zM223 365h1v1h-1zM195 366h1v1h-1zM198 366h1v1h-1zM203 366h1v1h-1zM208 366h1v1h-1zM210 366h3v1h-3zM214 366h1v1h-1zM216 366h1v1h-1zM221 366h2v1h-2zM192 367h1v1h-1zM207 367h1v1h-1zM209 367h2v1h-2zM214 367h1v1h-1zM217 367h1v1h-1zM222 367h1v1h-1zM226 367h4v1h-4zM194 368h2v1h-2zM203 368h1v1h-1zM205 368h1v1h-1zM207 368h1v1h-1zM210 368h1v1h-1zM212 368h1v1h-1zM215 368h1v1h-1zM224 368h1v1h-1zM229 368h1v1h-1zM231 368h1v1h-1zM208 369h2v1h-2zM212 369h2v1h-2zM232 369h1v1h-1zM202 370h2v1h-2zM211 370h1v1h-1zM214 370h1v1h-1zM216 370h1v1h-1zM229 370h1v1h-1zM231 370h2v1h-2zM208 371h2v1h-2zM213 371h1v1h-1zM215 371h1v1h-1zM217 371h1v1h-1zM224 371h1v1h-1zM205 372h2v1h-2zM211 372h1v1h-1zM213 372h1v1h-1zM215 372h1v1h-1zM228 372h2v1h-2zM195 373h1v1h-1zM204 373h1v1h-1zM209 373h1v1h-1zM227 373h1v1h-1zM231 373h2v1h-2zM235 373h1v1h-1zM194 374h1v1h-1zM205 374h5v1h-5zM211 374h1v1h-1zM223 374h1v1h-1zM230 374h2v1h-2zM203 375h1v1h-1zM206 375h1v1h-1zM210 375h3v1h-3zM206 376h1v1h-1zM208 376h1v1h-1zM214 376h1v1h-1zM217 376h1v1h-1zM231 376h2v1h-2zM205 377h1v1h-1zM209 377h1v1h-1zM215 377h1v1h-1zM217 377h1v1h-1zM220 377h1v1h-1zM229 377h1v1h-1zM231 377h1v1h-1zM206 378h1v1h-1zM210 378h2v1h-2zM229 378h1v1h-1zM194 379h1v1h-1zM197 379h1v1h-1zM208 379h2v1h-2zM211 379h1v1h-1zM222 379h1v1h-1zM230 379h1v1h-1zM233 379h2v1h-2zM205 380h1v1h-1zM212 380h1v1h-1zM214 380h1v1h-1zM218 380h1v1h-1zM231 380h1v1h-1zM233 380h1v1h-1zM208 381h1v1h-1zM211 381h2v1h-2zM229 381h1v1h-1zM231 381h1v1h-1zM200 382h1v1h-1zM202 382h1v1h-1zM208 382h1v1h-1zM218 382h1v1h-1zM225 382h1v1h-1zM229 382h1v1h-1z"/>
<ellipse cx="224.00" cy="354.00" rx="13.10" ry="7.70" transform="rotate(-51 224.00 354.00)" fill="none" stroke="#1a1a1a" stroke-width="0.8"/>
<line x1="190.10" y1="322.20" x2="190.10" y2="384.20" stroke="#000" stroke-width="1.2"/>
<line x1="189.50" y1="383.60" x2="252.90" y2="383.60" stroke="#000" stroke-width="1.2"/>
<path d="M187.90 383.60h2.20M190.10 383.60v2.20M188.80 379.00h1.30M194.80 383.60v1.30M188.80 376.31h1.30M197.56 383.60v1.30M188.80 374.40h1.30M199.51 383.60v1.30M188.80 372.92h1.30M201.02 383.60v1.30M188.80 371.71h1.30M202.26 383.60v1.30M188.80 370.69h1.30M203.30 383.60v1.30M188.80 369.81h1.30M204.21 383.60v1.30M188.80 369.02h1.30M205.01 383.60v1.30M187.90 368.33h2.20M205.72 383.60v2.20M188.80 363.73h1.30M210.43 383.60v1.30M188.80 361.04h1.30M213.18 383.60v1.30M188.80 359.13h1.30M215.13 383.60v1.30M188.80 357.65h1.30M216.65 383.60v1.30M188.80 356.44h1.30M217.88 383.60v1.30M188.80 355.42h1.30M218.93 383.60v1.30M188.80 354.53h1.30M219.84 383.60v1.30M188.80 353.75h1.30M220.64 383.60v1.30M187.90 353.05h2.20M221.35 383.60v2.20M188.80 348.45h1.30M226.05 383.60v1.30M188.80 345.76h1.30M228.81 383.60v1.30M188.80 343.85h1.30M230.76 383.60v1.30M188.80 342.37h1.30M232.27 383.60v1.30M188.80 341.16h1.30M233.51 383.60v1.30M188.80 340.14h1.30M234.55 383.60v1.30M188.80 339.26h1.30M235.46 383.60v1.30M188.80 338.47h1.30M236.26 383.60v1.30M187.90 337.78h2.20M236.97 383.60v2.20M188.80 333.18h1.30M241.68 383.60v1.30M188.80 330.49h1.30M244.43 383.60v1.30M188.80 328.58h1.30M246.38 383.60v1.30M188.80 327.10h1.30M247.90 383.60v1.30M188.80 325.89h1.30M249.13 383.60v1.30M188.80 324.87h1.30M250.18 383.60v1.30M188.80 323.98h1.30M251.09 383.60v1.30M188.80 323.20h1.30M251.89 383.60v1.30M187.90 322.50h2.2M252.60 383.60v2.2" stroke="#000" stroke-width="0.7" fill="none"/>
<text x="188.45" y="390.75" font-size="4.9" font-weight="bold">10<tspan font-size="3.33" dy="-1.47">0</tspan></text>
<text x="183.40" y="380.90" font-size="4.9" font-weight="bold" transform="rotate(-90 187.05 380.90)">10<tspan font-size="3.33" dy="-1.47">0</tspan></text>
<text x="203.57" y="390.75" font-size="4.9" font-weight="bold">10<tspan font-size="3.33" dy="-1.47">1</tspan></text>
<text x="183.40" y="366.43" font-size="4.9" font-weight="bold" transform="rotate(-90 187.05 366.43)">10<tspan font-size="3.33" dy="-1.47">1</tspan></text>
<text x="218.70" y="390.75" font-size="4.9" font-weight="bold">10<tspan font-size="3.33" dy="-1.47">2</tspan></text>
<text x="183.40" y="351.95" font-size="4.9" font-weight="bold" transform="rotate(-90 187.05 351.95)">10<tspan font-size="3.33" dy="-1.47">2</tspan></text>
<text x="233.82" y="390.75" font-size="4.9" font-weight="bold">10<tspan font-size="3.33" dy="-1.47">3</tspan></text>
<text x="183.40" y="337.48" font-size="4.9" font-weight="bold" transform="rotate(-90 187.05 337.48)">10<tspan font-size="3.33" dy="-1.47">3</tspan></text>
<text x="248.95" y="390.75" font-size="4.9" font-weight="bold">10<tspan font-size="3.33" dy="-1.47">4</tspan></text>
<text x="183.40" y="323.00" font-size="4.9" font-weight="bold" transform="rotate(-90 187.05 323.00)">10<tspan font-size="3.33" dy="-1.47">4</tspan></text>
<rect x="264.80" y="322.50" width="63.40" height="61.10" fill="none" stroke="#3a3a3a" stroke-width="0.9"/>
<line x1="287.60" y1="322.50" x2="287.60" y2="383.60" stroke="#444" stroke-width="0.9"/>
<line x1="264.80" y1="365.80" x2="328.20" y2="365.80" stroke="#444" stroke-width="0.9"/>
<path fill="#000" d="M267 359h2v1h-2zM271 359h1v1h-1zM275 359h3v1h-3zM294 359h1v1h-1zM299 359h1v1h-1zM269 360h2v1h-2zM277 360h1v1h-1zM280 360h1v1h-1zM296 360h1v1h-1zM301 360h2v1h-2zM304 360h2v1h-2zM266 361h2v1h-2zM269 361h7v1h-7zM296 361h1v1h-1zM300 361h1v1h-1zM303 361h3v1h-3zM309 361h1v1h-1zM265 362h1v1h-1zM267 362h10v1h-10zM278 362h3v1h-3zM296 362h3v1h-3zM301 362h4v1h-4zM265 363h1v1h-1zM267 363h3v1h-3zM271 363h3v1h-3zM275 363h5v1h-5zM282 363h1v1h-1zM290 363h2v1h-2zM295 363h11v1h-11zM266 364h1v1h-1zM268 364h11v1h-11zM280 364h1v1h-1zM292 364h12v1h-12zM305 364h2v1h-2zM265 365h14v1h-14zM280 365h1v1h-1zM286 365h1v1h-1zM291 365h1v1h-1zM293 365h14v1h-14zM265 366h16v1h-16zM283 366h1v1h-1zM288 366h1v1h-1zM294 366h13v1h-13zM265 367h15v1h-15zM282 367h1v1h-1zM295 367h11v1h-11zM308 367h1v1h-1zM265 368h15v1h-15zM281 368h1v1h-1zM291 368h1v1h-1zM293 368h14v1h-14zM265 369h20v1h-20zM291 369h1v1h-1zM293 369h16v1h-16zM265 370h16v1h-16zM285 370h1v1h-1zM287 370h1v1h-1zM293 370h13v1h-13zM308 370h2v1h-2zM265 371h19v1h-19zM287 371h1v1h-1zM291 371h1v1h-1zM293 371h1v1h-1zM295 371h11v1h-11zM307 371h2v1h-2zM310 371h1v1h-1zM266 372h16v1h-16zM285 372h1v1h-1zM289 372h1v1h-1zM294 372h14v1h-14zM265 373h16v1h-16zM283 373h1v1h-1zM286 373h1v1h-1zM293 373h14v1h-14zM309 373h1v1h-1zM266 374h16v1h-16zM284 374h1v1h-1zM290 374h2v1h-2zM294 374h1v1h-1zM296 374h11v1h-11zM265 375h18v1h-18zM294 375h14v1h-14zM265 376h16v1h-16zM292 376h15v1h-15zM265 377h16v1h-16zM282 377h3v1h-3zM288 377h1v1h-1zM292 377h1v1h-1zM294 377h1v1h-1zM296 377h11v1h-11zM309 377h1v1h-1zM265 378h18v1h-18zM291 378h1v1h-1zM295 378h12v1h-12zM265 379h15v1h-15zM281 379h3v1h-3zM291 379h1v1h-1zM293 379h13v1h-13zM308 379h1v1h-1zM265 380h17v1h-17zM285 380h1v1h-1zM287 380h2v1h-2zM291 380h2v1h-2zM294 380h15v1h-15zM265 381h18v1h-18zM284 381h1v1h-1zM292 381h16v1h-16zM265 382h18v1h-18zM292 382h1v1h-1zM295 382h13v1h-13z"/>
<path fill="#404040" d="M275 354h1v1h-1zM301 355h1v1h-1zM267 356h1v1h-1zM271 356h1v1h-1zM267 357h1v1h-1zM273 357h1v1h-1zM275 357h1v1h-1zM274 358h1v1h-1zM276 358h1v1h-1zM280 358h1v1h-1zM266 359h1v1h-1zM270 359h1v1h-1zM272 359h3v1h-3zM282 359h1v1h-1zM295 359h1v1h-1zM298 359h1v1h-1zM300 359h1v1h-1zM302 359h2v1h-2zM267 360h1v1h-1zM274 360h1v1h-1zM276 360h1v1h-1zM278 360h1v1h-1zM285 360h1v1h-1zM289 360h1v1h-1zM294 360h1v1h-1zM298 360h3v1h-3zM303 360h1v1h-1zM306 360h1v1h-1zM268 361h1v1h-1zM276 361h6v1h-6zM290 361h3v1h-3zM294 361h1v1h-1zM297 361h3v1h-3zM266 362h1v1h-1zM281 362h1v1h-1zM288 362h1v1h-1zM291 362h1v1h-1zM293 362h2v1h-2zM299 362h2v1h-2zM266 363h1v1h-1zM270 363h1v1h-1zM274 363h1v1h-1zM281 363h1v1h-1zM285 363h1v1h-1zM293 363h2v1h-2zM306 363h2v1h-2zM265 364h1v1h-1zM267 364h1v1h-1zM279 364h1v1h-1zM282 364h1v1h-1zM285 364h2v1h-2zM289 364h1v1h-1zM307 364h1v1h-1zM279 365h1v1h-1zM290 365h1v1h-1zM311 365h1v1h-1zM282 366h1v1h-1zM284 366h1v1h-1zM293 366h1v1h-1zM308 366h1v1h-1zM281 367h1v1h-1zM289 367h1v1h-1zM291 367h1v1h-1zM293 367h1v1h-1zM286 368h1v1h-1zM288 368h2v1h-2zM307 368h2v1h-2zM281 370h1v1h-1zM286 370h1v1h-1zM288 370h1v1h-1zM291 370h2v1h-2zM306 370h1v1h-1zM285 371h1v1h-1zM309 371h1v1h-1zM286 372h2v1h-2zM290 372h1v1h-1zM292 372h1v1h-1zM308 372h1v1h-1zM281 373h2v1h-2zM287 373h1v1h-1zM308 373h1v1h-1zM282 374h1v1h-1zM285 374h1v1h-1zM288 374h1v1h-1zM292 374h1v1h-1zM295 374h1v1h-1zM307 374h1v1h-1zM311 374h1v1h-1zM283 375h2v1h-2zM287 375h2v1h-2zM291 375h2v1h-2zM310 375h1v1h-1zM282 376h1v1h-1zM285 376h1v1h-1zM289 376h3v1h-3zM307 376h1v1h-1zM310 376h1v1h-1zM287 377h1v1h-1zM289 377h1v1h-1zM293 377h1v1h-1zM295 377h1v1h-1zM286 378h1v1h-1zM289 378h1v1h-1zM294 378h1v1h-1zM307 378h3v1h-3zM280 379h1v1h-1zM285 379h1v1h-1zM287 379h2v1h-2zM290 379h1v1h-1zM306 379h2v1h-2zM284 380h1v1h-1zM293 380h1v1h-1zM283 381h1v1h-1zM286 381h1v1h-1zM289 381h3v1h-3zM291 382h1v1h-1zM293 382h2v1h-2z"/>
<path fill="#808080" d="M296 330h1v1h-1zM296 332h1v1h-1zM268 340h1v1h-1zM287 340h1v1h-1zM324 340h1v1h-1zM276 341h1v1h-1zM270 343h1v1h-1zM283 343h1v1h-1zM294 343h1v1h-1zM285 344h1v1h-1zM289 344h1v1h-1zM296 344h1v1h-1zM271 345h1v1h-1zM274 346h1v1h-1zM299 346h1v1h-1zM305 347h1v1h-1zM278 348h1v1h-1zM276 351h1v1h-1zM288 351h1v1h-1zM275 352h1v1h-1zM295 353h1v1h-1zM271 354h1v1h-1zM305 354h1v1h-1zM274 356h1v1h-1zM279 356h1v1h-1zM289 356h1v1h-1zM298 356h1v1h-1zM268 357h1v1h-1zM276 357h2v1h-2zM279 357h2v1h-2zM282 357h1v1h-1zM301 357h1v1h-1zM304 357h1v1h-1zM311 357h1v1h-1zM267 358h1v1h-1zM269 358h1v1h-1zM271 358h2v1h-2zM275 358h1v1h-1zM279 358h1v1h-1zM286 358h1v1h-1zM294 358h1v1h-1zM298 358h1v1h-1zM301 358h3v1h-3zM306 358h2v1h-2zM269 359h1v1h-1zM279 359h1v1h-1zM285 359h2v1h-2zM292 359h1v1h-1zM296 359h2v1h-2zM305 359h1v1h-1zM268 360h1v1h-1zM275 360h1v1h-1zM281 360h1v1h-1zM287 360h1v1h-1zM291 360h1v1h-1zM297 360h1v1h-1zM311 360h1v1h-1zM265 361h1v1h-1zM284 361h1v1h-1zM286 361h2v1h-2zM301 361h2v1h-2zM306 361h2v1h-2zM277 362h1v1h-1zM283 362h3v1h-3zM287 362h1v1h-1zM289 362h1v1h-1zM292 362h1v1h-1zM295 362h1v1h-1zM305 362h1v1h-1zM280 363h1v1h-1zM283 363h2v1h-2zM286 363h2v1h-2zM289 363h1v1h-1zM292 363h1v1h-1zM284 364h1v1h-1zM304 364h1v1h-1zM308 364h1v1h-1zM311 364h2v1h-2zM281 365h1v1h-1zM284 365h2v1h-2zM287 365h3v1h-3zM292 365h1v1h-1zM307 365h2v1h-2zM281 366h1v1h-1zM285 366h3v1h-3zM289 366h3v1h-3zM307 366h1v1h-1zM311 366h1v1h-1zM280 367h1v1h-1zM283 367h4v1h-4zM290 367h1v1h-1zM294 367h1v1h-1zM306 367h2v1h-2zM312 367h1v1h-1zM318 367h1v1h-1zM283 368h1v1h-1zM285 368h1v1h-1zM290 368h1v1h-1zM292 368h1v1h-1zM309 368h2v1h-2zM286 369h2v1h-2zM289 369h1v1h-1zM292 369h1v1h-1zM309 369h1v1h-1zM282 370h3v1h-3zM289 370h2v1h-2zM307 370h1v1h-1zM284 371h1v1h-1zM286 371h1v1h-1zM288 371h3v1h-3zM294 371h1v1h-1zM306 371h1v1h-1zM282 372h2v1h-2zM288 372h1v1h-1zM291 372h1v1h-1zM293 372h1v1h-1zM309 372h1v1h-1zM284 373h1v1h-1zM289 373h3v1h-3zM307 373h1v1h-1zM265 374h1v1h-1zM283 374h1v1h-1zM286 374h1v1h-1zM289 374h1v1h-1zM286 375h1v1h-1zM289 375h2v1h-2zM293 375h1v1h-1zM308 375h2v1h-2zM311 375h2v1h-2zM288 376h1v1h-1zM308 376h1v1h-1zM281 377h1v1h-1zM285 377h2v1h-2zM290 377h2v1h-2zM310 377h1v1h-1zM315 377h1v1h-1zM283 378h3v1h-3zM287 378h1v1h-1zM292 378h2v1h-2zM310 378h1v1h-1zM312 378h1v1h-1zM284 379h1v1h-1zM286 379h1v1h-1zM289 379h1v1h-1zM292 379h1v1h-1zM286 380h1v1h-1zM290 380h1v1h-1zM309 380h2v1h-2zM285 381h1v1h-1zM287 381h2v1h-2zM308 381h1v1h-1zM310 381h1v1h-1zM285 382h1v1h-1zM288 382h1v1h-1zM290 382h1v1h-1zM309 382h1v1h-1z"/>
<ellipse cx="300.50" cy="350.30" rx="11.90" ry="7.00" transform="rotate(-49.2 300.50 350.30)" fill="none" stroke="#1a1a1a" stroke-width="0.8"/>
<line x1="264.80" y1="322.20" x2="264.80" y2="384.20" stroke="#000" stroke-width="1.2"/>
<line x1="264.20" y1="383.60" x2="328.50" y2="383.60" stroke="#000" stroke-width="1.2"/>
<path d="M262.60 383.60h2.20M264.80 383.60v2.20M263.50 379.00h1.30M269.57 383.60v1.30M263.50 376.31h1.30M272.36 383.60v1.30M263.50 374.40h1.30M274.34 383.60v1.30M263.50 372.92h1.30M275.88 383.60v1.30M263.50 371.71h1.30M277.13 383.60v1.30M263.50 370.69h1.30M278.19 383.60v1.30M263.50 369.81h1.30M279.11 383.60v1.30M263.50 369.02h1.30M279.92 383.60v1.30M262.60 368.33h2.20M280.65 383.60v2.20M263.50 363.73h1.30M285.42 383.60v1.30M263.50 361.04h1.30M288.21 383.60v1.30M263.50 359.13h1.30M290.19 383.60v1.30M263.50 357.65h1.30M291.73 383.60v1.30M263.50 356.44h1.30M292.98 383.60v1.30M263.50 355.42h1.30M294.04 383.60v1.30M263.50 354.53h1.30M294.96 383.60v1.30M263.50 353.75h1.30M295.77 383.60v1.30M262.60 353.05h2.20M296.50 383.60v2.20M263.50 348.45h1.30M301.27 383.60v1.30M263.50 345.76h1.30M304.06 383.60v1.30M263.50 343.85h1.30M306.04 383.60v1.30M263.50 342.37h1.30M307.58 383.60v1.30M263.50 341.16h1.30M308.83 383.60v1.30M263.50 340.14h1.30M309.89 383.60v1.30M263.50 339.26h1.30M310.81 383.60v1.30M263.50 338.47h1.30M311.62 383.60v1.30M262.60 337.78h2.20M312.35 383.60v2.20M263.50 333.18h1.30M317.12 383.60v1.30M263.50 330.49h1.30M319.91 383.60v1.30M263.50 328.58h1.30M321.89 383.60v1.30M263.50 327.10h1.30M323.43 383.60v1.30M263.50 325.89h1.30M324.68 383.60v1.30M263.50 324.87h1.30M325.74 383.60v1.30M263.50 323.98h1.30M326.66 383.60v1.30M263.50 323.20h1.30M327.47 383.60v1.30M262.60 322.50h2.2M328.20 383.60v2.2" stroke="#000" stroke-width="0.7" fill="none"/>
<text x="263.15" y="390.75" font-size="4.9" font-weight="bold">10<tspan font-size="3.33" dy="-1.47">0</tspan></text>
<text x="278.50" y="390.75" font-size="4.9" font-weight="bold">10<tspan font-size="3.33" dy="-1.47">1</tspan></text>
<text x="293.85" y="390.75" font-size="4.9" font-weight="bold">10<tspan font-size="3.33" dy="-1.47">2</tspan></text>
<text x="309.20" y="390.75" font-size="4.9" font-weight="bold">10<tspan font-size="3.33" dy="-1.47">3</tspan></text>
<text x="324.55" y="390.75" font-size="4.9" font-weight="bold">10<tspan font-size="3.33" dy="-1.47">4</tspan></text>
<rect x="339.40" y="322.50" width="63.40" height="61.10" fill="none" stroke="#3a3a3a" stroke-width="0.9"/>
<line x1="362.70" y1="322.50" x2="362.70" y2="383.60" stroke="#444" stroke-width="0.9"/>
<line x1="339.40" y1="366.20" x2="402.80" y2="366.20" stroke="#444" stroke-width="0.9"/>
<path fill="#000" d="M350 362h1v1h-1zM341 366h1v1h-1zM343 367h3v1h-3zM347 367h1v1h-1zM350 367h1v1h-1zM352 367h1v1h-1zM364 367h1v1h-1zM344 368h1v1h-1zM346 368h1v1h-1zM350 368h1v1h-1zM352 368h1v1h-1zM361 368h1v1h-1zM370 368h1v1h-1zM341 369h5v1h-5zM347 369h2v1h-2zM350 369h1v1h-1zM366 369h1v1h-1zM370 369h1v1h-1zM375 369h1v1h-1zM341 370h2v1h-2zM345 370h7v1h-7zM353 370h1v1h-1zM366 370h4v1h-4zM372 370h3v1h-3zM340 371h1v1h-1zM342 371h4v1h-4zM347 371h1v1h-1zM349 371h3v1h-3zM355 371h1v1h-1zM358 371h1v1h-1zM366 371h4v1h-4zM371 371h1v1h-1zM373 371h1v1h-1zM340 372h1v1h-1zM342 372h3v1h-3zM347 372h7v1h-7zM355 372h1v1h-1zM358 372h2v1h-2zM365 372h1v1h-1zM367 372h9v1h-9zM340 373h13v1h-13zM359 373h1v1h-1zM364 373h1v1h-1zM367 373h3v1h-3zM374 373h1v1h-1zM376 373h1v1h-1zM340 374h7v1h-7zM348 374h4v1h-4zM353 374h2v1h-2zM366 374h11v1h-11zM341 375h14v1h-14zM368 375h2v1h-2zM371 375h4v1h-4zM340 376h3v1h-3zM344 376h9v1h-9zM354 376h1v1h-1zM358 376h1v1h-1zM362 376h2v1h-2zM366 376h5v1h-5zM375 376h1v1h-1zM340 377h15v1h-15zM364 377h8v1h-8zM374 377h2v1h-2zM340 378h13v1h-13zM357 378h1v1h-1zM365 378h1v1h-1zM367 378h2v1h-2zM370 378h1v1h-1zM372 378h2v1h-2zM376 378h1v1h-1zM340 379h14v1h-14zM356 379h1v1h-1zM358 379h1v1h-1zM364 379h4v1h-4zM369 379h1v1h-1zM373 379h2v1h-2zM340 380h16v1h-16zM357 380h1v1h-1zM362 380h2v1h-2zM367 380h8v1h-8zM340 381h14v1h-14zM355 381h1v1h-1zM358 381h2v1h-2zM364 381h2v1h-2zM368 381h1v1h-1zM370 381h5v1h-5zM340 382h13v1h-13zM354 382h1v1h-1zM359 382h1v1h-1zM365 382h8v1h-8zM374 382h2v1h-2z"/>
<path fill="#404040" d="M350 356h1v1h-1zM347 360h1v1h-1zM351 361h1v1h-1zM357 361h1v1h-1zM342 362h1v1h-1zM347 362h1v1h-1zM349 364h1v1h-1zM348 365h2v1h-2zM344 366h1v1h-1zM346 367h1v1h-1zM351 367h1v1h-1zM353 367h1v1h-1zM368 367h1v1h-1zM371 367h1v1h-1zM341 368h2v1h-2zM347 368h1v1h-1zM349 368h1v1h-1zM353 368h1v1h-1zM363 368h1v1h-1zM372 368h3v1h-3zM340 369h1v1h-1zM349 369h1v1h-1zM351 369h2v1h-2zM358 369h1v1h-1zM364 369h1v1h-1zM368 369h1v1h-1zM340 370h1v1h-1zM344 370h1v1h-1zM352 370h1v1h-1zM356 370h3v1h-3zM361 370h1v1h-1zM375 370h2v1h-2zM346 371h1v1h-1zM348 371h1v1h-1zM357 371h1v1h-1zM363 371h1v1h-1zM370 371h1v1h-1zM374 371h2v1h-2zM341 372h1v1h-1zM345 372h2v1h-2zM362 372h3v1h-3zM355 373h2v1h-2zM358 373h1v1h-1zM366 373h1v1h-1zM347 374h1v1h-1zM355 374h2v1h-2zM359 374h1v1h-1zM364 374h1v1h-1zM377 374h1v1h-1zM356 375h1v1h-1zM366 375h1v1h-1zM376 375h1v1h-1zM343 376h1v1h-1zM353 376h1v1h-1zM365 376h1v1h-1zM371 376h1v1h-1zM373 376h2v1h-2zM376 376h1v1h-1zM356 377h3v1h-3zM361 377h1v1h-1zM363 377h1v1h-1zM372 377h2v1h-2zM376 377h1v1h-1zM353 378h4v1h-4zM362 378h1v1h-1zM369 378h1v1h-1zM371 378h1v1h-1zM374 378h2v1h-2zM377 378h1v1h-1zM354 379h2v1h-2zM357 379h1v1h-1zM363 379h1v1h-1zM368 379h1v1h-1zM371 379h1v1h-1zM375 379h1v1h-1zM377 379h1v1h-1zM364 380h1v1h-1zM366 380h1v1h-1zM375 380h3v1h-3zM363 381h1v1h-1zM366 381h2v1h-2zM375 381h1v1h-1zM377 381h1v1h-1zM355 382h1v1h-1zM364 382h1v1h-1zM377 382h1v1h-1z"/>
<path fill="#808080" d="M343 335h1v1h-1zM400 336h1v1h-1zM349 347h1v1h-1zM383 347h1v1h-1zM358 349h1v1h-1zM348 353h1v1h-1zM353 353h1v1h-1zM340 354h1v1h-1zM341 357h1v1h-1zM363 357h1v1h-1zM343 358h1v1h-1zM348 358h1v1h-1zM341 359h1v1h-1zM344 359h1v1h-1zM346 359h1v1h-1zM340 360h2v1h-2zM348 360h1v1h-1zM351 360h2v1h-2zM365 360h1v1h-1zM341 361h1v1h-1zM343 361h2v1h-2zM346 361h1v1h-1zM352 361h1v1h-1zM354 361h1v1h-1zM356 361h1v1h-1zM360 361h1v1h-1zM345 362h1v1h-1zM349 362h1v1h-1zM351 362h1v1h-1zM353 362h1v1h-1zM356 362h1v1h-1zM361 362h1v1h-1zM341 363h2v1h-2zM344 363h1v1h-1zM347 363h1v1h-1zM351 363h1v1h-1zM360 363h2v1h-2zM363 363h1v1h-1zM368 363h1v1h-1zM340 364h2v1h-2zM353 364h1v1h-1zM355 364h1v1h-1zM358 364h1v1h-1zM361 364h2v1h-2zM340 365h1v1h-1zM343 365h2v1h-2zM351 365h1v1h-1zM353 365h1v1h-1zM355 365h1v1h-1zM371 365h1v1h-1zM379 365h1v1h-1zM340 366h1v1h-1zM345 366h2v1h-2zM348 366h1v1h-1zM352 366h2v1h-2zM360 366h1v1h-1zM375 366h1v1h-1zM340 367h2v1h-2zM349 367h1v1h-1zM354 367h1v1h-1zM356 367h1v1h-1zM370 367h1v1h-1zM372 367h1v1h-1zM375 367h1v1h-1zM340 368h1v1h-1zM351 368h1v1h-1zM355 368h1v1h-1zM358 368h3v1h-3zM366 368h1v1h-1zM368 368h1v1h-1zM353 369h2v1h-2zM357 369h1v1h-1zM362 369h2v1h-2zM365 369h1v1h-1zM367 369h1v1h-1zM369 369h1v1h-1zM371 369h4v1h-4zM354 370h1v1h-1zM359 370h2v1h-2zM362 370h4v1h-4zM371 370h1v1h-1zM377 370h2v1h-2zM341 371h1v1h-1zM352 371h3v1h-3zM360 371h3v1h-3zM365 371h1v1h-1zM372 371h1v1h-1zM376 371h1v1h-1zM378 371h1v1h-1zM354 372h1v1h-1zM356 372h1v1h-1zM360 372h2v1h-2zM366 372h1v1h-1zM376 372h2v1h-2zM353 373h1v1h-1zM357 373h1v1h-1zM362 373h2v1h-2zM370 373h4v1h-4zM379 373h1v1h-1zM352 374h1v1h-1zM360 374h4v1h-4zM365 374h1v1h-1zM381 374h1v1h-1zM340 375h1v1h-1zM357 375h1v1h-1zM359 375h1v1h-1zM363 375h1v1h-1zM365 375h1v1h-1zM367 375h1v1h-1zM370 375h1v1h-1zM375 375h1v1h-1zM377 375h2v1h-2zM380 375h1v1h-1zM359 376h1v1h-1zM361 376h1v1h-1zM372 376h1v1h-1zM379 376h1v1h-1zM355 377h1v1h-1zM359 377h2v1h-2zM362 377h1v1h-1zM358 378h1v1h-1zM360 378h2v1h-2zM363 378h1v1h-1zM366 378h1v1h-1zM378 378h1v1h-1zM360 379h3v1h-3zM370 379h1v1h-1zM376 379h1v1h-1zM359 380h3v1h-3zM365 380h1v1h-1zM380 380h1v1h-1zM356 381h2v1h-2zM362 381h1v1h-1zM369 381h1v1h-1zM376 381h1v1h-1zM353 382h1v1h-1zM356 382h1v1h-1zM358 382h1v1h-1zM362 382h1v1h-1zM373 382h1v1h-1zM378 382h1v1h-1zM383 382h1v1h-1z"/>
<ellipse cx="373.50" cy="353.70" rx="13.10" ry="8.00" transform="rotate(-55.7 373.50 353.70)" fill="none" stroke="#1a1a1a" stroke-width="0.8"/>
<line x1="339.40" y1="322.20" x2="339.40" y2="384.20" stroke="#000" stroke-width="1.2"/>
<line x1="338.80" y1="383.60" x2="403.10" y2="383.60" stroke="#000" stroke-width="1.2"/>
<path d="M337.20 383.60h2.20M339.40 383.60v2.20M338.10 379.00h1.30M344.17 383.60v1.30M338.10 376.31h1.30M346.96 383.60v1.30M338.10 374.40h1.30M348.94 383.60v1.30M338.10 372.92h1.30M350.48 383.60v1.30M338.10 371.71h1.30M351.73 383.60v1.30M338.10 370.69h1.30M352.79 383.60v1.30M338.10 369.81h1.30M353.71 383.60v1.30M338.10 369.02h1.30M354.52 383.60v1.30M337.20 368.33h2.20M355.25 383.60v2.20M338.10 363.73h1.30M360.02 383.60v1.30M338.10 361.04h1.30M362.81 383.60v1.30M338.10 359.13h1.30M364.79 383.60v1.30M338.10 357.65h1.30M366.33 383.60v1.30M338.10 356.44h1.30M367.58 383.60v1.30M338.10 355.42h1.30M368.64 383.60v1.30M338.10 354.53h1.30M369.56 383.60v1.30M338.10 353.75h1.30M370.37 383.60v1.30M337.20 353.05h2.20M371.10 383.60v2.20M338.10 348.45h1.30M375.87 383.60v1.30M338.10 345.76h1.30M378.66 383.60v1.30M338.10 343.85h1.30M380.64 383.60v1.30M338.10 342.37h1.30M382.18 383.60v1.30M338.10 341.16h1.30M383.43 383.60v1.30M338.10 340.14h1.30M384.49 383.60v1.30M338.10 339.26h1.30M385.41 383.60v1.30M338.10 338.47h1.30M386.22 383.60v1.30M337.20 337.78h2.20M386.95 383.60v2.20M338.10 333.18h1.30M391.72 383.60v1.30M338.10 330.49h1.30M394.51 383.60v1.30M338.10 328.58h1.30M396.49 383.60v1.30M338.10 327.10h1.30M398.03 383.60v1.30M338.10 325.89h1.30M399.28 383.60v1.30M338.10 324.87h1.30M400.34 383.60v1.30M338.10 323.98h1.30M401.26 383.60v1.30M338.10 323.20h1.30M402.07 383.60v1.30M337.20 322.50h2.2M402.80 383.60v2.2" stroke="#000" stroke-width="0.7" fill="none"/>
<text x="337.75" y="390.75" font-size="4.9" font-weight="bold">10<tspan font-size="3.33" dy="-1.47">0</tspan></text>
<text x="353.10" y="390.75" font-size="4.9" font-weight="bold">10<tspan font-size="3.33" dy="-1.47">1</tspan></text>
<text x="368.45" y="390.75" font-size="4.9" font-weight="bold">10<tspan font-size="3.33" dy="-1.47">2</tspan></text>
<text x="383.80" y="390.75" font-size="4.9" font-weight="bold">10<tspan font-size="3.33" dy="-1.47">3</tspan></text>
<text x="399.15" y="390.75" font-size="4.9" font-weight="bold">10<tspan font-size="3.33" dy="-1.47">4</tspan></text>
<rect x="448.70" y="322.50" width="66.00" height="61.10" fill="none" stroke="#3a3a3a" stroke-width="0.9"/>
<line x1="482.40" y1="322.50" x2="482.40" y2="383.60" stroke="#444" stroke-width="0.9"/>
<line x1="448.70" y1="365.40" x2="514.70" y2="365.40" stroke="#444" stroke-width="0.9"/>
<path fill="#000" d="M490 350h1v1h-1zM495 350h1v1h-1zM491 351h4v1h-4zM493 352h1v1h-1zM490 353h2v1h-2zM493 353h2v1h-2zM488 354h1v1h-1zM490 354h4v1h-4zM495 354h1v1h-1zM488 355h1v1h-1zM490 355h2v1h-2zM494 355h1v1h-1zM489 356h2v1h-2zM493 356h3v1h-3zM487 357h1v1h-1zM490 357h1v1h-1zM492 357h1v1h-1zM489 359h3v1h-3zM488 366h1v1h-1zM490 368h1v1h-1zM492 368h2v1h-2zM495 368h1v1h-1zM487 369h2v1h-2zM490 369h1v1h-1zM492 369h3v1h-3zM487 370h3v1h-3zM493 370h1v1h-1zM496 370h1v1h-1zM489 371h6v1h-6zM488 372h1v1h-1zM490 372h8v1h-8zM487 373h6v1h-6zM494 373h1v1h-1zM496 373h1v1h-1zM487 374h9v1h-9zM487 375h1v1h-1zM489 375h8v1h-8zM488 376h7v1h-7zM497 376h1v1h-1zM487 377h1v1h-1zM490 377h1v1h-1zM492 377h4v1h-4zM497 377h1v1h-1zM485 378h1v1h-1zM487 378h7v1h-7zM497 378h1v1h-1zM487 379h1v1h-1zM489 379h9v1h-9zM487 380h4v1h-4zM492 380h1v1h-1zM495 380h1v1h-1zM486 381h10v1h-10zM486 382h6v1h-6zM493 382h2v1h-2zM496 382h2v1h-2z"/>
<path fill="#404040" d="M494 348h1v1h-1zM499 348h1v1h-1zM491 349h2v1h-2zM494 350h1v1h-1zM489 351h1v1h-1zM489 352h1v1h-1zM491 352h2v1h-2zM500 352h1v1h-1zM487 353h1v1h-1zM492 353h1v1h-1zM489 354h1v1h-1zM487 355h1v1h-1zM492 355h1v1h-1zM495 355h3v1h-3zM492 356h1v1h-1zM489 357h1v1h-1zM493 357h2v1h-2zM492 358h1v1h-1zM495 358h1v1h-1zM482 359h1v1h-1zM489 360h1v1h-1zM487 361h1v1h-1zM491 366h1v1h-1zM487 367h1v1h-1zM489 367h1v1h-1zM483 368h1v1h-1zM494 368h1v1h-1zM495 369h1v1h-1zM497 369h1v1h-1zM495 370h1v1h-1zM487 371h1v1h-1zM495 371h2v1h-2zM495 373h1v1h-1zM496 374h1v1h-1zM486 375h1v1h-1zM497 375h1v1h-1zM495 376h1v1h-1zM499 376h1v1h-1zM485 377h1v1h-1zM488 377h2v1h-2zM496 377h1v1h-1zM498 377h2v1h-2zM494 378h1v1h-1zM496 378h1v1h-1zM500 378h1v1h-1zM485 379h2v1h-2zM488 379h1v1h-1zM498 379h1v1h-1zM491 380h1v1h-1zM496 380h1v1h-1zM496 381h1v1h-1zM492 382h1v1h-1z"/>
<path fill="#808080" d="M490 339h1v1h-1zM494 341h1v1h-1zM501 342h1v1h-1zM495 344h1v1h-1zM483 346h1v1h-1zM489 347h1v1h-1zM493 347h1v1h-1zM495 347h1v1h-1zM497 347h1v1h-1zM491 348h3v1h-3zM484 349h1v1h-1zM493 349h2v1h-2zM496 349h2v1h-2zM501 349h1v1h-1zM487 350h1v1h-1zM489 350h1v1h-1zM496 350h1v1h-1zM488 351h1v1h-1zM490 351h1v1h-1zM496 351h1v1h-1zM499 351h1v1h-1zM490 352h1v1h-1zM494 352h2v1h-2zM501 352h1v1h-1zM485 353h1v1h-1zM488 353h2v1h-2zM495 353h2v1h-2zM499 353h1v1h-1zM501 353h1v1h-1zM481 354h1v1h-1zM483 354h1v1h-1zM486 354h2v1h-2zM494 354h1v1h-1zM496 354h1v1h-1zM485 355h2v1h-2zM489 355h1v1h-1zM493 355h1v1h-1zM485 356h2v1h-2zM488 356h1v1h-1zM491 356h1v1h-1zM496 356h1v1h-1zM485 357h2v1h-2zM491 357h1v1h-1zM495 357h2v1h-2zM487 358h1v1h-1zM490 358h2v1h-2zM497 358h1v1h-1zM454 359h1v1h-1zM492 359h1v1h-1zM496 359h1v1h-1zM485 360h1v1h-1zM487 360h1v1h-1zM490 360h2v1h-2zM493 360h1v1h-1zM495 360h1v1h-1zM502 360h1v1h-1zM486 361h1v1h-1zM488 361h4v1h-4zM491 362h1v1h-1zM493 362h1v1h-1zM455 363h1v1h-1zM483 363h1v1h-1zM490 363h1v1h-1zM493 363h1v1h-1zM498 363h1v1h-1zM450 364h1v1h-1zM482 364h1v1h-1zM491 364h1v1h-1zM493 364h1v1h-1zM487 365h1v1h-1zM492 365h1v1h-1zM495 365h2v1h-2zM456 366h1v1h-1zM486 366h1v1h-1zM489 366h2v1h-2zM496 366h1v1h-1zM498 366h1v1h-1zM488 367h1v1h-1zM490 367h3v1h-3zM494 367h1v1h-1zM497 367h1v1h-1zM486 368h1v1h-1zM489 368h1v1h-1zM491 368h1v1h-1zM497 368h1v1h-1zM455 369h1v1h-1zM486 369h1v1h-1zM491 369h1v1h-1zM496 369h1v1h-1zM482 370h1v1h-1zM490 370h3v1h-3zM494 370h1v1h-1zM498 370h1v1h-1zM486 371h1v1h-1zM488 371h1v1h-1zM497 371h1v1h-1zM486 372h2v1h-2zM489 372h1v1h-1zM499 372h1v1h-1zM484 373h1v1h-1zM493 373h1v1h-1zM497 373h1v1h-1zM499 373h1v1h-1zM485 374h1v1h-1zM497 374h4v1h-4zM482 375h1v1h-1zM485 375h1v1h-1zM488 375h1v1h-1zM498 375h2v1h-2zM468 376h1v1h-1zM487 376h1v1h-1zM496 376h1v1h-1zM486 377h1v1h-1zM491 377h1v1h-1zM486 378h1v1h-1zM495 378h1v1h-1zM498 378h1v1h-1zM499 379h1v1h-1zM480 380h1v1h-1zM486 380h1v1h-1zM493 380h2v1h-2zM497 380h2v1h-2zM484 381h1v1h-1zM497 381h3v1h-3zM495 382h1v1h-1zM498 382h1v1h-1z"/>
<ellipse cx="493.20" cy="352.75" rx="13.30" ry="8.10" transform="rotate(-44 493.20 352.75)" fill="none" stroke="#1a1a1a" stroke-width="0.8"/>
<line x1="448.70" y1="322.20" x2="448.70" y2="384.20" stroke="#000" stroke-width="1.2"/>
<line x1="448.10" y1="383.60" x2="515.00" y2="383.60" stroke="#000" stroke-width="1.2"/>
<path d="M446.50 383.60h2.20M448.70 383.60v2.20M447.40 379.00h1.30M453.67 383.60v1.30M447.40 376.31h1.30M456.57 383.60v1.30M447.40 374.40h1.30M458.63 383.60v1.30M447.40 372.92h1.30M460.23 383.60v1.30M447.40 371.71h1.30M461.54 383.60v1.30M447.40 370.69h1.30M462.64 383.60v1.30M447.40 369.81h1.30M463.60 383.60v1.30M447.40 369.02h1.30M464.45 383.60v1.30M446.50 368.33h2.20M465.20 383.60v2.20M447.40 363.73h1.30M470.17 383.60v1.30M447.40 361.04h1.30M473.07 383.60v1.30M447.40 359.13h1.30M475.13 383.60v1.30M447.40 357.65h1.30M476.73 383.60v1.30M447.40 356.44h1.30M478.04 383.60v1.30M447.40 355.42h1.30M479.14 383.60v1.30M447.40 354.53h1.30M480.10 383.60v1.30M447.40 353.75h1.30M480.95 383.60v1.30M446.50 353.05h2.20M481.70 383.60v2.20M447.40 348.45h1.30M486.67 383.60v1.30M447.40 345.76h1.30M489.57 383.60v1.30M447.40 343.85h1.30M491.63 383.60v1.30M447.40 342.37h1.30M493.23 383.60v1.30M447.40 341.16h1.30M494.54 383.60v1.30M447.40 340.14h1.30M495.64 383.60v1.30M447.40 339.26h1.30M496.60 383.60v1.30M447.40 338.47h1.30M497.45 383.60v1.30M446.50 337.78h2.20M498.20 383.60v2.20M447.40 333.18h1.30M503.17 383.60v1.30M447.40 330.49h1.30M506.07 383.60v1.30M447.40 328.58h1.30M508.13 383.60v1.30M447.40 327.10h1.30M509.73 383.60v1.30M447.40 325.89h1.30M511.04 383.60v1.30M447.40 324.87h1.30M512.14 383.60v1.30M447.40 323.98h1.30M513.10 383.60v1.30M447.40 323.20h1.30M513.95 383.60v1.30M446.50 322.50h2.2M514.70 383.60v2.2" stroke="#000" stroke-width="0.7" fill="none"/>
<text x="447.05" y="390.75" font-size="4.9" font-weight="bold">10<tspan font-size="3.33" dy="-1.47">0</tspan></text>
<text x="442.00" y="380.90" font-size="4.9" font-weight="bold" transform="rotate(-90 445.65 380.90)">10<tspan font-size="3.33" dy="-1.47">0</tspan></text>
<text x="463.05" y="390.75" font-size="4.9" font-weight="bold">10<tspan font-size="3.33" dy="-1.47">1</tspan></text>
<text x="442.00" y="366.43" font-size="4.9" font-weight="bold" transform="rotate(-90 445.65 366.43)">10<tspan font-size="3.33" dy="-1.47">1</tspan></text>
<text x="479.05" y="390.75" font-size="4.9" font-weight="bold">10<tspan font-size="3.33" dy="-1.47">2</tspan></text>
<text x="442.00" y="351.95" font-size="4.9" font-weight="bold" transform="rotate(-90 445.65 351.95)">10<tspan font-size="3.33" dy="-1.47">2</tspan></text>
<text x="495.05" y="390.75" font-size="4.9" font-weight="bold">10<tspan font-size="3.33" dy="-1.47">3</tspan></text>
<text x="442.00" y="337.48" font-size="4.9" font-weight="bold" transform="rotate(-90 445.65 337.48)">10<tspan font-size="3.33" dy="-1.47">3</tspan></text>
<text x="511.05" y="390.75" font-size="4.9" font-weight="bold">10<tspan font-size="3.33" dy="-1.47">4</tspan></text>
<text x="442.00" y="323.00" font-size="4.9" font-weight="bold" transform="rotate(-90 445.65 323.00)">10<tspan font-size="3.33" dy="-1.47">4</tspan></text>
<text x="212.30" y="164.60" font-size="9.2" text-anchor="start" font-weight="bold">H60</text>
<text x="285.50" y="164.60" font-size="9.2" text-anchor="start" font-weight="bold">H13</text>
<text x="363.80" y="164.60" font-size="9.2" text-anchor="start" font-weight="bold">HY</text>
<text x="453.20" y="164.70" font-size="9.9" text-anchor="start" font-weight="bold">CD8<tspan font-size="7.5" dy="-3.6">+</tspan><tspan dy="3.6"> T cells</tspan></text>
<line x1="173.60" y1="182.00" x2="173.60" y2="315.30" stroke="#000" stroke-width="0.9"/>
<path d="M171.3 183.6L173.6 177.7L175.9 183.6Z" fill="#000"/>
<text x="177.60" y="341.60" font-size="8.3" text-anchor="middle" font-weight="bold" transform="rotate(-90 177.60 341.60)">Tetramer-PE</text>
<text x="204.20" y="400.80" font-size="8.6" text-anchor="start" font-weight="bold">CD8 APC</text>
<line x1="246.20" y1="398.20" x2="378.00" y2="398.20" stroke="#000" stroke-width="1.1"/>
<path d="M376 396L383 398.2L376 400.4Z" fill="#000"/>
<line x1="432.60" y1="182.00" x2="432.60" y2="308.30" stroke="#000" stroke-width="0.9"/>
<path d="M430.3 183.8L432.6 178.0L434.9 183.8Z" fill="#000"/>
<text x="436.40" y="348.00" font-size="8.9" text-anchor="middle" font-weight="bold" transform="rotate(-90 436.40 348.00)">H60 Tetramer-PE</text>
<text x="459.30" y="400.20" font-size="8.5" text-anchor="start" font-weight="bold">CD11a FITC</text>
</svg></body></html>
